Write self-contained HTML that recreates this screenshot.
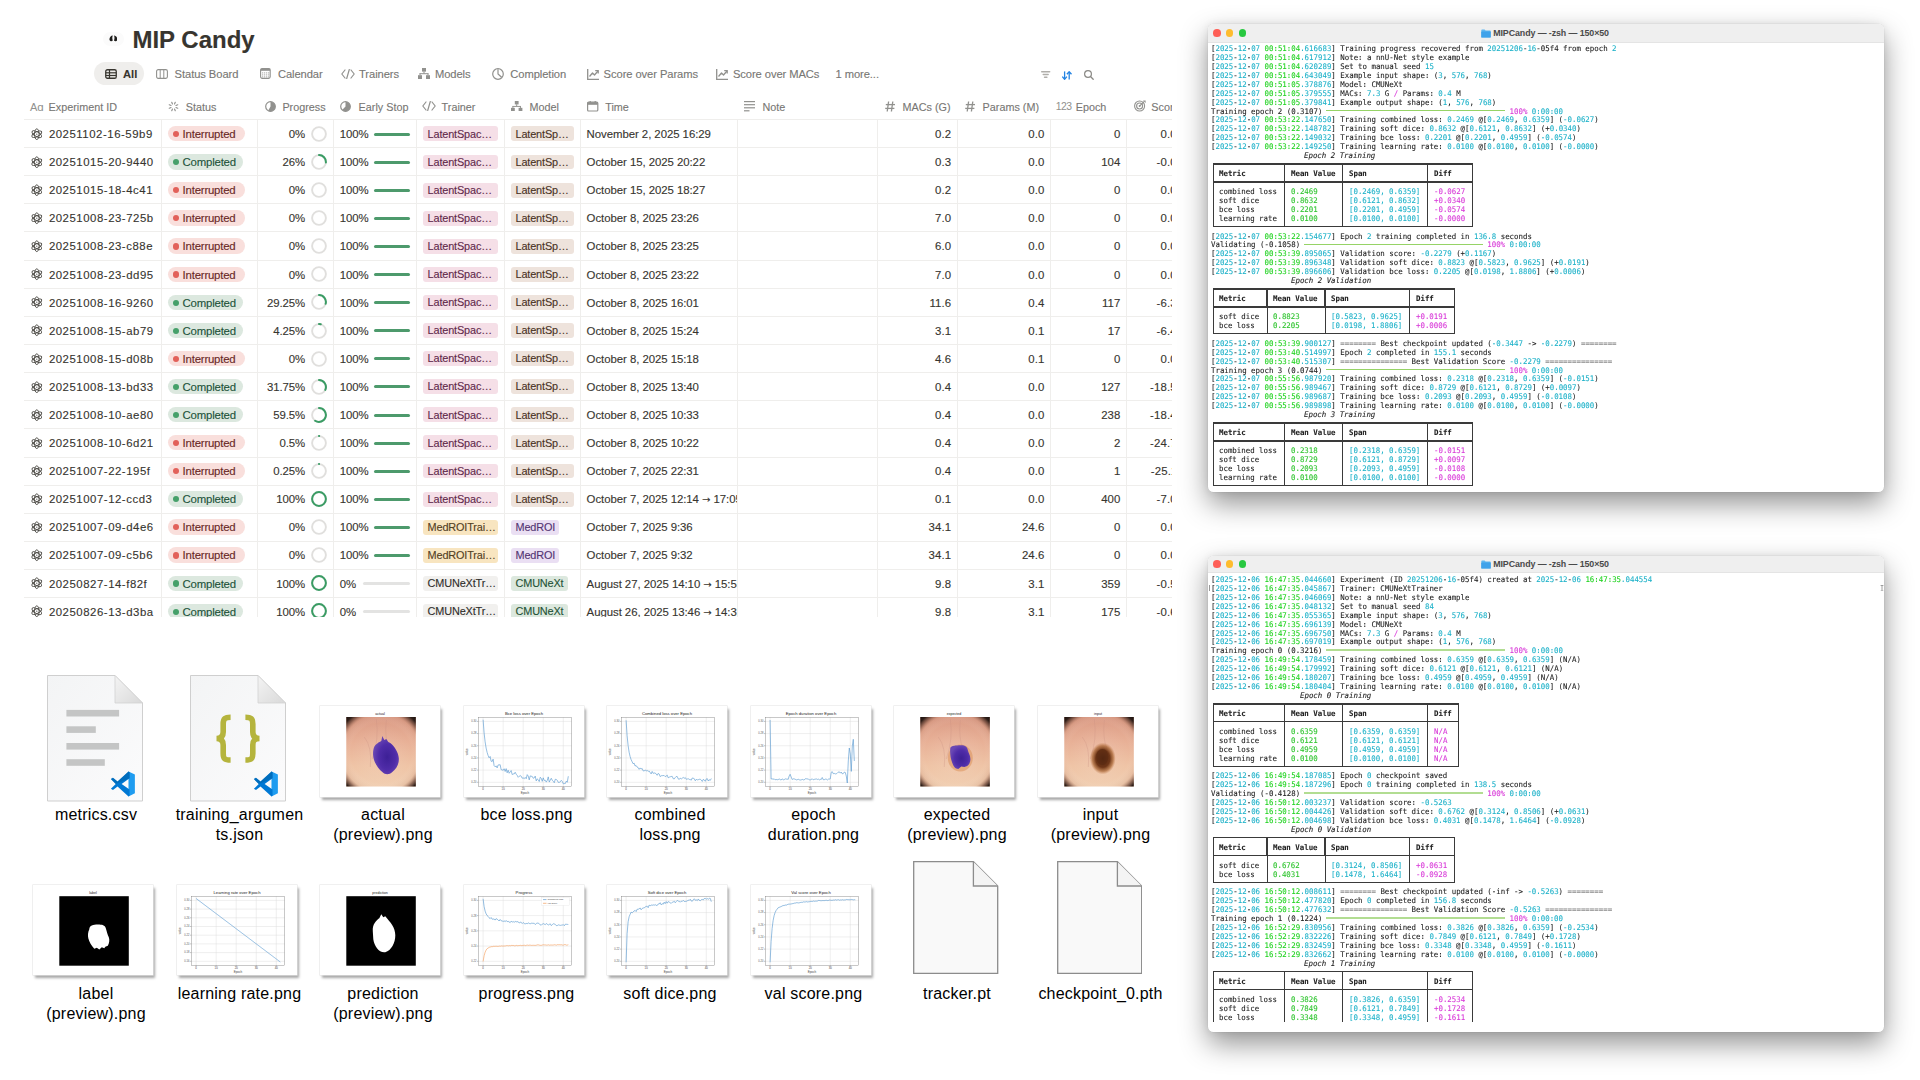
<!DOCTYPE html>
<html><head><meta charset="utf-8"><title>MIP Candy</title><style>
*{box-sizing:border-box;margin:0;padding:0}
html,body{width:1920px;height:1080px;overflow:hidden;background:#fff}
body{position:relative;font-family:"Liberation Sans",Arial,sans-serif;color:#37352f}
.abs{position:absolute}
.t{white-space:nowrap;-webkit-text-stroke:0.12px currentColor}
.tl{white-space:pre;-webkit-text-stroke:0.1px currentColor;font-family:"DejaVu Sans Mono","Liberation Mono",monospace;font-size:7.68px;line-height:8.93px;color:#1e1e1e;transform:scaleX(0.9646);transform-origin:0 50%}
.card{background:#fff;box-shadow:0 0 0 0.6px #e6e6e6, 1.5px 2.5px 2.5px rgba(0,0,0,0.35)}
.win{background:#fff;border-radius:5.5px;box-shadow:0 0 0 0.5px rgba(0,0,0,0.05),0 12px 28px 0px rgba(0,0,0,0.42),0 0 9px rgba(0,0,0,0.07)}
</style></head>
<body>
<div class="abs" style="left:103px;top:31.5px;width:20.5px;height:14px;border-radius:7px;background:#fbfbfb"></div>
<svg class="abs" style="left:108.6px;top:34.8px" width="8.8" height="6.8" viewBox="0 0 10 7.4"><path d="M4.3 0.4 C2.2 0.5 0.5 2.6 0.5 4.8 C0.5 6.3 1.6 7.2 2.8 6.8 L4.4 6.0 C3.6 4.6 3.5 2.4 4.3 0.4 Z M5.7 0.4 C7.8 0.5 9.5 2.6 9.5 4.8 C9.5 6.3 8.4 7.2 7.2 6.8 L5.6 6.0 C6.4 4.6 6.5 2.4 5.7 0.4 Z" fill="#1e1d1b"/></svg>
<div class="abs t" style="left:132.40px;top:28.28px;font-size:24px;line-height:24px;color:#37352f;font-weight:700;">MIP Candy</div>
<div class="abs" style="left:94.4px;top:61.8px;width:49.6px;height:23.4px;border-radius:12px;background:#efeeec"></div>
<svg class="abs" style="left:104.7px;top:69px" width="12" height="10" viewBox="0 0 12 10" ><rect x="0.75" y="0.75" width="10.5" height="8.5" rx="1.6" fill="none" stroke="#37352f" stroke-width="1.3"/><line x1="0.8" y1="3.8" x2="11.2" y2="3.8" stroke="#37352f" stroke-width="1.2"/><line x1="0.8" y1="6.5" x2="11.2" y2="6.5" stroke="#37352f" stroke-width="1.2"/><line x1="4.5" y1="1" x2="4.5" y2="9" stroke="#37352f" stroke-width="1.2"/></svg>
<div class="abs t" style="left:123.00px;top:68.62px;font-size:11.2px;line-height:11.2px;color:#37352f;font-weight:600;">All</div>
<svg class="abs" style="left:156px;top:69px" width="12" height="10" viewBox="0 0 12 10" ><rect x="0.6" y="0.6" width="10.8" height="8.8" rx="1.6" fill="none" stroke="#91918e" stroke-width="1.1"/><line x1="4.2" y1="1" x2="4.2" y2="9" stroke="#91918e" stroke-width="1"/><line x1="7.8" y1="1" x2="7.8" y2="9" stroke="#91918e" stroke-width="1"/></svg>
<div class="abs t" style="left:174.60px;top:68.62px;font-size:11.2px;line-height:11.2px;color:#787774;font-weight:400;letter-spacing:-0.08px">Status Board</div>
<svg class="abs" style="left:259.8px;top:68px" width="11" height="11" viewBox="0 0 11 11" ><rect x="0.6" y="0.6" width="9.6" height="9.8" rx="1.6" fill="none" stroke="#91918e" stroke-width="1.1"/><rect x="0.6" y="0.6" width="9.6" height="2.2" fill="#91918e"/><rect x="2.2" y="4.4" width="1" height="1" fill="#91918e"/><rect x="2.2" y="6.4" width="1" height="1" fill="#91918e"/><rect x="2.2" y="8.4" width="1" height="1" fill="#91918e"/><rect x="4.2" y="4.4" width="1" height="1" fill="#91918e"/><rect x="4.2" y="6.4" width="1" height="1" fill="#91918e"/><rect x="4.2" y="8.4" width="1" height="1" fill="#91918e"/><rect x="6.2" y="4.4" width="1" height="1" fill="#91918e"/><rect x="6.2" y="6.4" width="1" height="1" fill="#91918e"/><rect x="6.2" y="8.4" width="1" height="1" fill="#91918e"/><rect x="8.2" y="4.4" width="1" height="1" fill="#91918e"/><rect x="8.2" y="6.4" width="1" height="1" fill="#91918e"/><rect x="8.2" y="8.4" width="1" height="1" fill="#91918e"/></svg>
<div class="abs t" style="left:277.90px;top:68.62px;font-size:11.2px;line-height:11.2px;color:#787774;font-weight:400;letter-spacing:-0.08px">Calendar</div>
<svg class="abs" style="left:341px;top:68.6px" width="14" height="10" viewBox="0 0 14 10" ><polyline points="4,1 0.8,5 4,9" fill="none" stroke="#91918e" stroke-width="1.2" stroke-linecap="round" stroke-linejoin="round"/><polyline points="10,1 13.2,5 10,9" fill="none" stroke="#91918e" stroke-width="1.2" stroke-linecap="round" stroke-linejoin="round"/><line x1="8.3" y1="0.5" x2="5.7" y2="9.5" stroke="#91918e" stroke-width="1.2" stroke-linecap="round"/></svg>
<div class="abs t" style="left:359.00px;top:68.62px;font-size:11.2px;line-height:11.2px;color:#787774;font-weight:400;letter-spacing:-0.08px">Trainers</div>
<svg class="abs" style="left:418.3px;top:68px" width="12.0" height="11.0" viewBox="0 0 12 11" ><rect x="4" y="0" width="4" height="3.6" fill="#91918e"/><rect x="5.5" y="3.4" width="1" height="2.2" fill="#91918e"/><rect x="1.5" y="5.2" width="9" height="1" fill="#91918e"/><rect x="1.5" y="5.5" width="1" height="1.8" fill="#91918e"/><rect x="9.5" y="5.5" width="1" height="1.8" fill="#91918e"/><rect x="0" y="7.2" width="4" height="3.8" fill="#91918e"/><rect x="8" y="7.2" width="4" height="3.8" fill="#91918e"/></svg>
<div class="abs t" style="left:434.90px;top:68.62px;font-size:11.2px;line-height:11.2px;color:#787774;font-weight:400;letter-spacing:-0.08px">Models</div>
<svg class="abs" style="left:491.7px;top:67.8px" width="12" height="12" viewBox="0 0 12 12" ><circle cx="6" cy="6" r="5.3" fill="none" stroke="#91918e" stroke-width="1.2"/><path d="M6 1.2 V6 L9.6 9.3" fill="none" stroke="#91918e" stroke-width="1.2"/></svg>
<div class="abs t" style="left:510.30px;top:68.62px;font-size:11.2px;line-height:11.2px;color:#787774;font-weight:400;letter-spacing:-0.08px">Completion</div>
<svg class="abs" style="left:586.7px;top:68.5px" width="12" height="11" viewBox="0 0 12 11" ><polyline points="0.7,0 0.7,10.3 12,10.3" fill="none" stroke="#91918e" stroke-width="1.3"/><polyline points="2.5,7.5 5.5,4 7.5,6 11,2" fill="none" stroke="#91918e" stroke-width="1.3" stroke-linejoin="round"/><polyline points="8.2,1.6 11.2,1.6 11.2,4.6" fill="none" stroke="#91918e" stroke-width="1.3"/></svg>
<div class="abs t" style="left:603.60px;top:68.62px;font-size:11.2px;line-height:11.2px;color:#787774;font-weight:400;letter-spacing:-0.08px">Score over Params</div>
<svg class="abs" style="left:716.3px;top:68.5px" width="12" height="11" viewBox="0 0 12 11" ><polyline points="0.7,0 0.7,10.3 12,10.3" fill="none" stroke="#91918e" stroke-width="1.3"/><polyline points="2.5,7.5 5.5,4 7.5,6 11,2" fill="none" stroke="#91918e" stroke-width="1.3" stroke-linejoin="round"/><polyline points="8.2,1.6 11.2,1.6 11.2,4.6" fill="none" stroke="#91918e" stroke-width="1.3"/></svg>
<div class="abs t" style="left:732.90px;top:68.62px;font-size:11.2px;line-height:11.2px;color:#787774;font-weight:400;letter-spacing:-0.08px">Score over MACs</div>
<div class="abs t" style="left:835.50px;top:68.62px;font-size:11.2px;line-height:11.2px;color:#787774;font-weight:400;letter-spacing:-0.08px">1 more...</div>
<svg class="abs" style="left:1041px;top:71.3px" width="10" height="7" viewBox="0 0 10 7" ><rect x="0" y="0" width="9.4" height="1.4" rx="0.7" fill="#b0aeaa"/><rect x="1.5" y="2.8" width="6.4" height="1.4" rx="0.7" fill="#b0aeaa"/><rect x="2.8" y="5.6" width="3.8" height="1.4" rx="0.7" fill="#b0aeaa"/></svg>
<svg class="abs" style="left:1062.2px;top:70.5px" width="10" height="9" viewBox="0 0 10 9" ><line x1="2.6" y1="0.4" x2="2.6" y2="8" stroke="#2383e2" stroke-width="1.3"/><polyline points="0.3,5.6 2.6,8.2 4.9,5.6" fill="none" stroke="#2383e2" stroke-width="1.3" stroke-linejoin="round"/><line x1="7.2" y1="8.6" x2="7.2" y2="1" stroke="#2383e2" stroke-width="1.3"/><polyline points="4.9,3.3 7.2,0.7 9.5,3.3" fill="none" stroke="#2383e2" stroke-width="1.3" stroke-linejoin="round"/></svg>
<svg class="abs" style="left:1083.5px;top:70px" width="10" height="10" viewBox="0 0 10 10" ><circle cx="4" cy="4" r="3.4" fill="none" stroke="#8a8985" stroke-width="1.2"/><line x1="6.5" y1="6.5" x2="9.2" y2="9.2" stroke="#8a8985" stroke-width="1.3" stroke-linecap="round"/></svg>
<div class="abs" style="left:24.2px;top:118.75px;width:1147.80px;height:1px;background:#efeeec"></div>
<div class="abs" style="left:30.0px;top:101.6px;font-size:11px;line-height:10px;color:#91918e;letter-spacing:-0.2px">A<span style="font-size:11.5px">ɑ</span></div>
<div class="abs t" style="left:48.60px;top:101.56px;font-size:10.8px;line-height:10.8px;color:#787774;font-weight:400;">Experiment ID</div>
<svg class="abs" style="left:168.2px;top:101px" width="11" height="11" viewBox="0 0 11 11" ><line x1="7.99" y1="6.53" x2="9.75" y2="7.26" stroke="#91918e" stroke-width="1.15" stroke-linecap="round"/><line x1="6.53" y1="7.99" x2="7.26" y2="9.75" stroke="#91918e" stroke-width="1.15" stroke-linecap="round"/><line x1="4.47" y1="7.99" x2="3.74" y2="9.75" stroke="#91918e" stroke-width="1.15" stroke-linecap="round"/><line x1="3.01" y1="6.53" x2="1.25" y2="7.26" stroke="#91918e" stroke-width="1.15" stroke-linecap="round"/><line x1="3.01" y1="4.47" x2="1.25" y2="3.74" stroke="#91918e" stroke-width="1.15" stroke-linecap="round"/><line x1="4.47" y1="3.01" x2="3.74" y2="1.25" stroke="#91918e" stroke-width="1.15" stroke-linecap="round"/><line x1="6.53" y1="3.01" x2="7.26" y2="1.25" stroke="#91918e" stroke-width="1.15" stroke-linecap="round"/><line x1="7.99" y1="4.47" x2="9.75" y2="3.74" stroke="#91918e" stroke-width="1.15" stroke-linecap="round"/></svg>
<div class="abs t" style="left:185.70px;top:101.56px;font-size:10.8px;line-height:10.8px;color:#787774;font-weight:400;">Status</div>
<svg class="abs" style="left:264.5px;top:101px" width="11" height="11" viewBox="0 0 11 11" ><circle cx="5.5" cy="5.5" r="4.8" fill="none" stroke="#91918e" stroke-width="1.2"/><path d="M5.5 5.5 L5.5 0.7 A4.8 4.8 0 1 1 3.10 9.66 Z" fill="#91918e"/></svg>
<div class="abs t" style="left:282.40px;top:101.56px;font-size:10.8px;line-height:10.8px;color:#787774;font-weight:400;">Progress</div>
<svg class="abs" style="left:340.2px;top:101px" width="11" height="11" viewBox="0 0 11 11" ><circle cx="5.5" cy="5.5" r="4.8" fill="none" stroke="#91918e" stroke-width="1.2"/><path d="M5.5 5.5 L5.5 0.7 A4.8 4.8 0 1 1 2.11 8.89 Z" fill="#91918e"/></svg>
<div class="abs t" style="left:358.60px;top:101.56px;font-size:10.8px;line-height:10.8px;color:#787774;font-weight:400;">Early Stop</div>
<svg class="abs" style="left:422px;top:101.3px" width="14" height="10" viewBox="0 0 14 10" ><polyline points="4,1 0.8,5 4,9" fill="none" stroke="#91918e" stroke-width="1.2" stroke-linecap="round" stroke-linejoin="round"/><polyline points="10,1 13.2,5 10,9" fill="none" stroke="#91918e" stroke-width="1.2" stroke-linecap="round" stroke-linejoin="round"/><line x1="8.3" y1="0.5" x2="5.7" y2="9.5" stroke="#91918e" stroke-width="1.2" stroke-linecap="round"/></svg>
<div class="abs t" style="left:441.60px;top:101.56px;font-size:10.8px;line-height:10.8px;color:#787774;font-weight:400;">Trainer</div>
<svg class="abs" style="left:511.2px;top:100.5px" width="11.399999999999999" height="10.45" viewBox="0 0 12 11" ><rect x="4" y="0" width="4" height="3.6" fill="#91918e"/><rect x="5.5" y="3.4" width="1" height="2.2" fill="#91918e"/><rect x="1.5" y="5.2" width="9" height="1" fill="#91918e"/><rect x="1.5" y="5.5" width="1" height="1.8" fill="#91918e"/><rect x="9.5" y="5.5" width="1" height="1.8" fill="#91918e"/><rect x="0" y="7.2" width="4" height="3.8" fill="#91918e"/><rect x="8" y="7.2" width="4" height="3.8" fill="#91918e"/></svg>
<div class="abs t" style="left:529.40px;top:101.56px;font-size:10.8px;line-height:10.8px;color:#787774;font-weight:400;">Model</div>
<svg class="abs" style="left:587px;top:100.6px" width="12" height="11" viewBox="0 0 12 11" ><rect x="0.6" y="1.2" width="10.2" height="8.8" rx="1" fill="none" stroke="#91918e" stroke-width="1.2"/><rect x="0.6" y="1.2" width="10.2" height="2.6" fill="#91918e"/><rect x="2.6" y="0" width="1.2" height="2" fill="#91918e"/><rect x="7.6" y="0" width="1.2" height="2" fill="#91918e"/></svg>
<div class="abs t" style="left:605.20px;top:101.56px;font-size:10.8px;line-height:10.8px;color:#787774;font-weight:400;">Time</div>
<svg class="abs" style="left:744px;top:101px" width="11" height="11" viewBox="0 0 11 11" ><rect x="0" y="0" width="11" height="1.2" fill="#91918e"/><rect x="0" y="3.1" width="11" height="1.2" fill="#91918e"/><rect x="0" y="6.2" width="11" height="1.2" fill="#91918e"/><rect x="0" y="9.2" width="5.5" height="1.2" fill="#91918e"/></svg>
<div class="abs t" style="left:762.40px;top:101.56px;font-size:10.8px;line-height:10.8px;color:#787774;font-weight:400;">Note</div>
<svg class="abs" style="left:885.2px;top:100.6px" width="10" height="11" viewBox="0 0 10 11" ><line x1="3.6" y1="0.5" x2="2.2" y2="10.5" stroke="#91918e" stroke-width="1.3"/><line x1="7.8" y1="0.5" x2="6.4" y2="10.5" stroke="#91918e" stroke-width="1.3"/><line x1="0.8" y1="3.6" x2="10" y2="3.6" stroke="#91918e" stroke-width="1.3"/><line x1="0.2" y1="7.4" x2="9.4" y2="7.4" stroke="#91918e" stroke-width="1.3"/></svg>
<div class="abs t" style="left:902.60px;top:101.56px;font-size:10.8px;line-height:10.8px;color:#787774;font-weight:400;">MACs (G)</div>
<svg class="abs" style="left:965px;top:100.6px" width="10" height="11" viewBox="0 0 10 11" ><line x1="3.6" y1="0.5" x2="2.2" y2="10.5" stroke="#91918e" stroke-width="1.3"/><line x1="7.8" y1="0.5" x2="6.4" y2="10.5" stroke="#91918e" stroke-width="1.3"/><line x1="0.8" y1="3.6" x2="10" y2="3.6" stroke="#91918e" stroke-width="1.3"/><line x1="0.2" y1="7.4" x2="9.4" y2="7.4" stroke="#91918e" stroke-width="1.3"/></svg>
<div class="abs t" style="left:982.60px;top:101.56px;font-size:10.8px;line-height:10.8px;color:#787774;font-weight:400;">Params (M)</div>
<div class="abs" style="left:1055.8px;top:101.8px;font-size:10.4px;line-height:10px;color:#91918e;letter-spacing:-0.6px">123</div>
<div class="abs t" style="left:1075.70px;top:101.56px;font-size:10.8px;line-height:10.8px;color:#787774;font-weight:400;">Epoch</div>
<div class="abs" style="left:0;top:0;width:1172px;height:119px;overflow:hidden">
<svg class="abs" style="left:1133.6px;top:99.8px" width="12" height="12" viewBox="0 0 12 12" ><circle cx="5.6" cy="6" r="5" fill="none" stroke="#91918e" stroke-width="1.1"/><circle cx="5.6" cy="6" r="3" fill="none" stroke="#91918e" stroke-width="1.1"/><circle cx="5.6" cy="6" r="1" fill="#91918e"/><line x1="5.8" y1="5.8" x2="10" y2="1.6" stroke="#91918e" stroke-width="1.1"/><path d="M9 0.4 L11.6 0.4 L11.6 3 Z" fill="#91918e"/></svg>
<div class="abs t" style="left:1151.30px;top:101.56px;font-size:10.8px;line-height:10.8px;color:#787774;font-weight:400;">Score</div>
</div>
<div class="abs" style="left:0;top:0;width:1172px;height:616.7px;overflow:hidden">
<div class="abs" style="left:161.30px;top:119.25px;width:1px;height:497.45px;background:#efeeec"></div>
<div class="abs" style="left:256.80px;top:119.25px;width:1px;height:497.45px;background:#efeeec"></div>
<div class="abs" style="left:333.00px;top:119.25px;width:1px;height:497.45px;background:#efeeec"></div>
<div class="abs" style="left:415.80px;top:119.25px;width:1px;height:497.45px;background:#efeeec"></div>
<div class="abs" style="left:504.20px;top:119.25px;width:1px;height:497.45px;background:#efeeec"></div>
<div class="abs" style="left:580.30px;top:119.25px;width:1px;height:497.45px;background:#efeeec"></div>
<div class="abs" style="left:737.25px;top:119.25px;width:1px;height:497.45px;background:#efeeec"></div>
<div class="abs" style="left:877.10px;top:119.25px;width:1px;height:497.45px;background:#efeeec"></div>
<div class="abs" style="left:956.90px;top:119.25px;width:1px;height:497.45px;background:#efeeec"></div>
<div class="abs" style="left:1050.20px;top:119.25px;width:1px;height:497.45px;background:#efeeec"></div>
<div class="abs" style="left:1125.80px;top:119.25px;width:1px;height:497.45px;background:#efeeec"></div>
<div class="abs" style="left:24.2px;top:146.90px;width:1150px;height:1px;background:#efeeec"></div>
<svg class="abs" style="left:31.2px;top:127.85px" width="11.6" height="12.4" viewBox="0 0 11.6 12.4" ><g fill="none" stroke="#4a4843" stroke-width="0.9"><ellipse cx="5.8" cy="6.2" rx="2.3" ry="5.4"/><ellipse cx="5.8" cy="6.2" rx="2.3" ry="5.4" transform="rotate(60 5.8 6.2)"/><ellipse cx="5.8" cy="6.2" rx="2.3" ry="5.4" transform="rotate(-60 5.8 6.2)"/></g><circle cx="5.8" cy="6.2" r="0.6" fill="#4a4843"/></svg>
<div class="abs t" style="left:48.90px;top:129.10px;font-size:11.4px;line-height:11.4px;color:#37352f;font-weight:400;letter-spacing:0.53px">20251102-16-59b9</div>
<div class="abs" style="left:167.8px;top:126.10px;width:76.9px;height:15.4px;border-radius:8px;background:#f9dfdc"></div>
<div class="abs" style="left:173px;top:131.00px;width:6.2px;height:6.2px;border-radius:3.1px;background:#e2615a"></div>
<div class="abs t" style="left:182.60px;top:129.10px;font-size:11.4px;line-height:11.4px;color:#692826;font-weight:400;letter-spacing:-0.2px">Interrupted</div>
<div class="abs t" style="left:105.00px;width:200px;top:129.10px;font-size:11.4px;line-height:11.4px;color:#37352f;font-weight:400;text-align:right;letter-spacing:-0.1px">0%</div>
<svg class="abs" style="left:311.00px;top:125.95px" width="16" height="16"><circle cx="8" cy="8" r="6.9" fill="none" stroke="#e0dfdd" stroke-width="1.9"/></svg>
<div class="abs t" style="left:339.70px;top:129.10px;font-size:11.4px;line-height:11.4px;color:#37352f;font-weight:400;letter-spacing:-0.1px">100%</div>
<div class="abs" style="left:374.2px;top:133px;width:36.00px;height:3px;border-radius:1.5px;background:#4d9a6c"></div>
<div class="abs" style="left:422.8px;top:126.45px;width:75.6px;height:14.9px;border-radius:3px;background:#f5dfe7"></div>
<div class="abs t" style="left:427.60px;top:128.62px;font-size:10.9px;line-height:10.9px;color:#62294a;font-weight:400;letter-spacing:-0.15px">LatentSpac…</div>
<div class="abs" style="left:510.9px;top:126.45px;width:63.1px;height:14.9px;border-radius:3px;background:#eee3dc"></div>
<div class="abs t" style="left:515.50px;top:128.62px;font-size:10.9px;line-height:10.9px;color:#4a3224;font-weight:400;letter-spacing:-0.15px">LatentSp…</div>
<div class="abs" style="left:580.8px;top:119.25px;width:155.95px;height:28.15px;overflow:hidden">
<div class="abs t" style="left:5.80px;top:9.85px;font-size:11.4px;line-height:11.4px;color:#37352f;font-weight:400;letter-spacing:-0.05px;white-space:nowrap">November 2, 2025 16:29</div>
</div>
<div class="abs t" style="left:751.20px;width:200px;top:129.10px;font-size:11.4px;line-height:11.4px;color:#37352f;font-weight:400;text-align:right;letter-spacing:0.1px">0.2</div>
<div class="abs t" style="left:844.50px;width:200px;top:129.10px;font-size:11.4px;line-height:11.4px;color:#37352f;font-weight:400;text-align:right;letter-spacing:0.1px">0.0</div>
<div class="abs t" style="left:920.50px;width:200px;top:129.10px;font-size:11.4px;line-height:11.4px;color:#37352f;font-weight:400;text-align:right;letter-spacing:0.1px">0</div>
<div class="abs t" style="left:983.20px;width:200px;top:129.10px;font-size:11.4px;line-height:11.4px;color:#37352f;font-weight:400;text-align:right;letter-spacing:0.15px">0.00</div>
<div class="abs" style="left:24.2px;top:175.05px;width:1150px;height:1px;background:#efeeec"></div>
<svg class="abs" style="left:31.2px;top:155.94px" width="11.6" height="12.4" viewBox="0 0 11.6 12.4" ><g fill="none" stroke="#4a4843" stroke-width="0.9"><ellipse cx="5.8" cy="6.2" rx="2.3" ry="5.4"/><ellipse cx="5.8" cy="6.2" rx="2.3" ry="5.4" transform="rotate(60 5.8 6.2)"/><ellipse cx="5.8" cy="6.2" rx="2.3" ry="5.4" transform="rotate(-60 5.8 6.2)"/></g><circle cx="5.8" cy="6.2" r="0.6" fill="#4a4843"/></svg>
<div class="abs t" style="left:48.90px;top:157.19px;font-size:11.4px;line-height:11.4px;color:#37352f;font-weight:400;letter-spacing:0.53px">20251015-20-9440</div>
<div class="abs" style="left:167.8px;top:154.19px;width:75.4px;height:15.4px;border-radius:8px;background:#dce8df"></div>
<div class="abs" style="left:173px;top:159.09px;width:6.2px;height:6.2px;border-radius:3.1px;background:#46a06a"></div>
<div class="abs t" style="left:182.60px;top:157.19px;font-size:11.4px;line-height:11.4px;color:#21533a;font-weight:400;letter-spacing:-0.2px">Completed</div>
<div class="abs t" style="left:105.00px;width:200px;top:157.19px;font-size:11.4px;line-height:11.4px;color:#37352f;font-weight:400;text-align:right;letter-spacing:-0.1px">26%</div>
<svg class="abs" style="left:311.00px;top:154.04px" width="16" height="16"><circle cx="8" cy="8" r="6.9" fill="none" stroke="#e0dfdd" stroke-width="1.9"/><path d="M8 1.0999999999999996 A6.9 6.9 0 0 1 14.89 8.43" fill="none" stroke="#3a9c64" stroke-width="2" stroke-linecap="round"/></svg>
<div class="abs t" style="left:339.70px;top:157.19px;font-size:11.4px;line-height:11.4px;color:#37352f;font-weight:400;letter-spacing:-0.1px">100%</div>
<div class="abs" style="left:374.2px;top:161px;width:36.00px;height:3px;border-radius:1.5px;background:#4d9a6c"></div>
<div class="abs" style="left:422.8px;top:154.54px;width:75.6px;height:14.9px;border-radius:3px;background:#f5dfe7"></div>
<div class="abs t" style="left:427.60px;top:156.71px;font-size:10.9px;line-height:10.9px;color:#62294a;font-weight:400;letter-spacing:-0.15px">LatentSpac…</div>
<div class="abs" style="left:510.9px;top:154.54px;width:63.1px;height:14.9px;border-radius:3px;background:#eee3dc"></div>
<div class="abs t" style="left:515.50px;top:156.71px;font-size:10.9px;line-height:10.9px;color:#4a3224;font-weight:400;letter-spacing:-0.15px">LatentSp…</div>
<div class="abs" style="left:580.8px;top:147.34px;width:155.95px;height:28.15px;overflow:hidden">
<div class="abs t" style="left:5.80px;top:9.85px;font-size:11.4px;line-height:11.4px;color:#37352f;font-weight:400;letter-spacing:-0.05px;white-space:nowrap">October 15, 2025 20:22</div>
</div>
<div class="abs t" style="left:751.20px;width:200px;top:157.19px;font-size:11.4px;line-height:11.4px;color:#37352f;font-weight:400;text-align:right;letter-spacing:0.1px">0.3</div>
<div class="abs t" style="left:844.50px;width:200px;top:157.19px;font-size:11.4px;line-height:11.4px;color:#37352f;font-weight:400;text-align:right;letter-spacing:0.1px">0.0</div>
<div class="abs t" style="left:920.50px;width:200px;top:157.19px;font-size:11.4px;line-height:11.4px;color:#37352f;font-weight:400;text-align:right;letter-spacing:0.1px">104</div>
<div class="abs t" style="left:983.20px;width:200px;top:157.19px;font-size:11.4px;line-height:11.4px;color:#37352f;font-weight:400;text-align:right;letter-spacing:0.15px">-0.06</div>
<div class="abs" style="left:24.2px;top:203.20px;width:1150px;height:1px;background:#efeeec"></div>
<svg class="abs" style="left:31.2px;top:184.03px" width="11.6" height="12.4" viewBox="0 0 11.6 12.4" ><g fill="none" stroke="#4a4843" stroke-width="0.9"><ellipse cx="5.8" cy="6.2" rx="2.3" ry="5.4"/><ellipse cx="5.8" cy="6.2" rx="2.3" ry="5.4" transform="rotate(60 5.8 6.2)"/><ellipse cx="5.8" cy="6.2" rx="2.3" ry="5.4" transform="rotate(-60 5.8 6.2)"/></g><circle cx="5.8" cy="6.2" r="0.6" fill="#4a4843"/></svg>
<div class="abs t" style="left:48.90px;top:185.28px;font-size:11.4px;line-height:11.4px;color:#37352f;font-weight:400;letter-spacing:0.53px">20251015-18-4c41</div>
<div class="abs" style="left:167.8px;top:182.28px;width:76.9px;height:15.4px;border-radius:8px;background:#f9dfdc"></div>
<div class="abs" style="left:173px;top:187.18px;width:6.2px;height:6.2px;border-radius:3.1px;background:#e2615a"></div>
<div class="abs t" style="left:182.60px;top:185.28px;font-size:11.4px;line-height:11.4px;color:#692826;font-weight:400;letter-spacing:-0.2px">Interrupted</div>
<div class="abs t" style="left:105.00px;width:200px;top:185.28px;font-size:11.4px;line-height:11.4px;color:#37352f;font-weight:400;text-align:right;letter-spacing:-0.1px">0%</div>
<svg class="abs" style="left:311.00px;top:182.13px" width="16" height="16"><circle cx="8" cy="8" r="6.9" fill="none" stroke="#e0dfdd" stroke-width="1.9"/></svg>
<div class="abs t" style="left:339.70px;top:185.28px;font-size:11.4px;line-height:11.4px;color:#37352f;font-weight:400;letter-spacing:-0.1px">100%</div>
<div class="abs" style="left:374.2px;top:189px;width:36.00px;height:3px;border-radius:1.5px;background:#4d9a6c"></div>
<div class="abs" style="left:422.8px;top:182.63px;width:75.6px;height:14.9px;border-radius:3px;background:#f5dfe7"></div>
<div class="abs t" style="left:427.60px;top:184.80px;font-size:10.9px;line-height:10.9px;color:#62294a;font-weight:400;letter-spacing:-0.15px">LatentSpac…</div>
<div class="abs" style="left:510.9px;top:182.63px;width:63.1px;height:14.9px;border-radius:3px;background:#eee3dc"></div>
<div class="abs t" style="left:515.50px;top:184.80px;font-size:10.9px;line-height:10.9px;color:#4a3224;font-weight:400;letter-spacing:-0.15px">LatentSp…</div>
<div class="abs" style="left:580.8px;top:175.43px;width:155.95px;height:28.15px;overflow:hidden">
<div class="abs t" style="left:5.80px;top:9.85px;font-size:11.4px;line-height:11.4px;color:#37352f;font-weight:400;letter-spacing:-0.05px;white-space:nowrap">October 15, 2025 18:27</div>
</div>
<div class="abs t" style="left:751.20px;width:200px;top:185.28px;font-size:11.4px;line-height:11.4px;color:#37352f;font-weight:400;text-align:right;letter-spacing:0.1px">0.2</div>
<div class="abs t" style="left:844.50px;width:200px;top:185.28px;font-size:11.4px;line-height:11.4px;color:#37352f;font-weight:400;text-align:right;letter-spacing:0.1px">0.0</div>
<div class="abs t" style="left:920.50px;width:200px;top:185.28px;font-size:11.4px;line-height:11.4px;color:#37352f;font-weight:400;text-align:right;letter-spacing:0.1px">0</div>
<div class="abs t" style="left:983.20px;width:200px;top:185.28px;font-size:11.4px;line-height:11.4px;color:#37352f;font-weight:400;text-align:right;letter-spacing:0.15px">0.00</div>
<div class="abs" style="left:24.2px;top:231.35px;width:1150px;height:1px;background:#efeeec"></div>
<svg class="abs" style="left:31.2px;top:212.11999999999998px" width="11.6" height="12.4" viewBox="0 0 11.6 12.4" ><g fill="none" stroke="#4a4843" stroke-width="0.9"><ellipse cx="5.8" cy="6.2" rx="2.3" ry="5.4"/><ellipse cx="5.8" cy="6.2" rx="2.3" ry="5.4" transform="rotate(60 5.8 6.2)"/><ellipse cx="5.8" cy="6.2" rx="2.3" ry="5.4" transform="rotate(-60 5.8 6.2)"/></g><circle cx="5.8" cy="6.2" r="0.6" fill="#4a4843"/></svg>
<div class="abs t" style="left:48.90px;top:213.37px;font-size:11.4px;line-height:11.4px;color:#37352f;font-weight:400;letter-spacing:0.53px">20251008-23-725b</div>
<div class="abs" style="left:167.8px;top:210.37px;width:76.9px;height:15.4px;border-radius:8px;background:#f9dfdc"></div>
<div class="abs" style="left:173px;top:215.27px;width:6.2px;height:6.2px;border-radius:3.1px;background:#e2615a"></div>
<div class="abs t" style="left:182.60px;top:213.37px;font-size:11.4px;line-height:11.4px;color:#692826;font-weight:400;letter-spacing:-0.2px">Interrupted</div>
<div class="abs t" style="left:105.00px;width:200px;top:213.37px;font-size:11.4px;line-height:11.4px;color:#37352f;font-weight:400;text-align:right;letter-spacing:-0.1px">0%</div>
<svg class="abs" style="left:311.00px;top:210.22px" width="16" height="16"><circle cx="8" cy="8" r="6.9" fill="none" stroke="#e0dfdd" stroke-width="1.9"/></svg>
<div class="abs t" style="left:339.70px;top:213.37px;font-size:11.4px;line-height:11.4px;color:#37352f;font-weight:400;letter-spacing:-0.1px">100%</div>
<div class="abs" style="left:374.2px;top:217px;width:36.00px;height:3px;border-radius:1.5px;background:#4d9a6c"></div>
<div class="abs" style="left:422.8px;top:210.72px;width:75.6px;height:14.9px;border-radius:3px;background:#f5dfe7"></div>
<div class="abs t" style="left:427.60px;top:212.89px;font-size:10.9px;line-height:10.9px;color:#62294a;font-weight:400;letter-spacing:-0.15px">LatentSpac…</div>
<div class="abs" style="left:510.9px;top:210.72px;width:63.1px;height:14.9px;border-radius:3px;background:#eee3dc"></div>
<div class="abs t" style="left:515.50px;top:212.89px;font-size:10.9px;line-height:10.9px;color:#4a3224;font-weight:400;letter-spacing:-0.15px">LatentSp…</div>
<div class="abs" style="left:580.8px;top:203.52px;width:155.95px;height:28.15px;overflow:hidden">
<div class="abs t" style="left:5.80px;top:9.85px;font-size:11.4px;line-height:11.4px;color:#37352f;font-weight:400;letter-spacing:-0.05px;white-space:nowrap">October 8, 2025 23:26</div>
</div>
<div class="abs t" style="left:751.20px;width:200px;top:213.37px;font-size:11.4px;line-height:11.4px;color:#37352f;font-weight:400;text-align:right;letter-spacing:0.1px">7.0</div>
<div class="abs t" style="left:844.50px;width:200px;top:213.37px;font-size:11.4px;line-height:11.4px;color:#37352f;font-weight:400;text-align:right;letter-spacing:0.1px">0.0</div>
<div class="abs t" style="left:920.50px;width:200px;top:213.37px;font-size:11.4px;line-height:11.4px;color:#37352f;font-weight:400;text-align:right;letter-spacing:0.1px">0</div>
<div class="abs t" style="left:983.20px;width:200px;top:213.37px;font-size:11.4px;line-height:11.4px;color:#37352f;font-weight:400;text-align:right;letter-spacing:0.15px">0.00</div>
<div class="abs" style="left:24.2px;top:259.50px;width:1150px;height:1px;background:#efeeec"></div>
<svg class="abs" style="left:31.2px;top:240.21px" width="11.6" height="12.4" viewBox="0 0 11.6 12.4" ><g fill="none" stroke="#4a4843" stroke-width="0.9"><ellipse cx="5.8" cy="6.2" rx="2.3" ry="5.4"/><ellipse cx="5.8" cy="6.2" rx="2.3" ry="5.4" transform="rotate(60 5.8 6.2)"/><ellipse cx="5.8" cy="6.2" rx="2.3" ry="5.4" transform="rotate(-60 5.8 6.2)"/></g><circle cx="5.8" cy="6.2" r="0.6" fill="#4a4843"/></svg>
<div class="abs t" style="left:48.90px;top:241.46px;font-size:11.4px;line-height:11.4px;color:#37352f;font-weight:400;letter-spacing:0.53px">20251008-23-c88e</div>
<div class="abs" style="left:167.8px;top:238.46px;width:76.9px;height:15.4px;border-radius:8px;background:#f9dfdc"></div>
<div class="abs" style="left:173px;top:243.36px;width:6.2px;height:6.2px;border-radius:3.1px;background:#e2615a"></div>
<div class="abs t" style="left:182.60px;top:241.46px;font-size:11.4px;line-height:11.4px;color:#692826;font-weight:400;letter-spacing:-0.2px">Interrupted</div>
<div class="abs t" style="left:105.00px;width:200px;top:241.46px;font-size:11.4px;line-height:11.4px;color:#37352f;font-weight:400;text-align:right;letter-spacing:-0.1px">0%</div>
<svg class="abs" style="left:311.00px;top:238.31px" width="16" height="16"><circle cx="8" cy="8" r="6.9" fill="none" stroke="#e0dfdd" stroke-width="1.9"/></svg>
<div class="abs t" style="left:339.70px;top:241.46px;font-size:11.4px;line-height:11.4px;color:#37352f;font-weight:400;letter-spacing:-0.1px">100%</div>
<div class="abs" style="left:374.2px;top:245px;width:36.00px;height:3px;border-radius:1.5px;background:#4d9a6c"></div>
<div class="abs" style="left:422.8px;top:238.81px;width:75.6px;height:14.9px;border-radius:3px;background:#f5dfe7"></div>
<div class="abs t" style="left:427.60px;top:240.98px;font-size:10.9px;line-height:10.9px;color:#62294a;font-weight:400;letter-spacing:-0.15px">LatentSpac…</div>
<div class="abs" style="left:510.9px;top:238.81px;width:63.1px;height:14.9px;border-radius:3px;background:#eee3dc"></div>
<div class="abs t" style="left:515.50px;top:240.98px;font-size:10.9px;line-height:10.9px;color:#4a3224;font-weight:400;letter-spacing:-0.15px">LatentSp…</div>
<div class="abs" style="left:580.8px;top:231.61px;width:155.95px;height:28.15px;overflow:hidden">
<div class="abs t" style="left:5.80px;top:9.85px;font-size:11.4px;line-height:11.4px;color:#37352f;font-weight:400;letter-spacing:-0.05px;white-space:nowrap">October 8, 2025 23:25</div>
</div>
<div class="abs t" style="left:751.20px;width:200px;top:241.46px;font-size:11.4px;line-height:11.4px;color:#37352f;font-weight:400;text-align:right;letter-spacing:0.1px">6.0</div>
<div class="abs t" style="left:844.50px;width:200px;top:241.46px;font-size:11.4px;line-height:11.4px;color:#37352f;font-weight:400;text-align:right;letter-spacing:0.1px">0.0</div>
<div class="abs t" style="left:920.50px;width:200px;top:241.46px;font-size:11.4px;line-height:11.4px;color:#37352f;font-weight:400;text-align:right;letter-spacing:0.1px">0</div>
<div class="abs t" style="left:983.20px;width:200px;top:241.46px;font-size:11.4px;line-height:11.4px;color:#37352f;font-weight:400;text-align:right;letter-spacing:0.15px">0.00</div>
<div class="abs" style="left:24.2px;top:287.65px;width:1150px;height:1px;background:#efeeec"></div>
<svg class="abs" style="left:31.2px;top:268.3px" width="11.6" height="12.4" viewBox="0 0 11.6 12.4" ><g fill="none" stroke="#4a4843" stroke-width="0.9"><ellipse cx="5.8" cy="6.2" rx="2.3" ry="5.4"/><ellipse cx="5.8" cy="6.2" rx="2.3" ry="5.4" transform="rotate(60 5.8 6.2)"/><ellipse cx="5.8" cy="6.2" rx="2.3" ry="5.4" transform="rotate(-60 5.8 6.2)"/></g><circle cx="5.8" cy="6.2" r="0.6" fill="#4a4843"/></svg>
<div class="abs t" style="left:48.90px;top:269.55px;font-size:11.4px;line-height:11.4px;color:#37352f;font-weight:400;letter-spacing:0.53px">20251008-23-dd95</div>
<div class="abs" style="left:167.8px;top:266.55px;width:76.9px;height:15.4px;border-radius:8px;background:#f9dfdc"></div>
<div class="abs" style="left:173px;top:271.45px;width:6.2px;height:6.2px;border-radius:3.1px;background:#e2615a"></div>
<div class="abs t" style="left:182.60px;top:269.55px;font-size:11.4px;line-height:11.4px;color:#692826;font-weight:400;letter-spacing:-0.2px">Interrupted</div>
<div class="abs t" style="left:105.00px;width:200px;top:269.55px;font-size:11.4px;line-height:11.4px;color:#37352f;font-weight:400;text-align:right;letter-spacing:-0.1px">0%</div>
<svg class="abs" style="left:311.00px;top:266.40px" width="16" height="16"><circle cx="8" cy="8" r="6.9" fill="none" stroke="#e0dfdd" stroke-width="1.9"/></svg>
<div class="abs t" style="left:339.70px;top:269.55px;font-size:11.4px;line-height:11.4px;color:#37352f;font-weight:400;letter-spacing:-0.1px">100%</div>
<div class="abs" style="left:374.2px;top:273px;width:36.00px;height:3px;border-radius:1.5px;background:#4d9a6c"></div>
<div class="abs" style="left:422.8px;top:266.90px;width:75.6px;height:14.9px;border-radius:3px;background:#f5dfe7"></div>
<div class="abs t" style="left:427.60px;top:269.07px;font-size:10.9px;line-height:10.9px;color:#62294a;font-weight:400;letter-spacing:-0.15px">LatentSpac…</div>
<div class="abs" style="left:510.9px;top:266.90px;width:63.1px;height:14.9px;border-radius:3px;background:#eee3dc"></div>
<div class="abs t" style="left:515.50px;top:269.07px;font-size:10.9px;line-height:10.9px;color:#4a3224;font-weight:400;letter-spacing:-0.15px">LatentSp…</div>
<div class="abs" style="left:580.8px;top:259.70px;width:155.95px;height:28.15px;overflow:hidden">
<div class="abs t" style="left:5.80px;top:9.85px;font-size:11.4px;line-height:11.4px;color:#37352f;font-weight:400;letter-spacing:-0.05px;white-space:nowrap">October 8, 2025 23:22</div>
</div>
<div class="abs t" style="left:751.20px;width:200px;top:269.55px;font-size:11.4px;line-height:11.4px;color:#37352f;font-weight:400;text-align:right;letter-spacing:0.1px">7.0</div>
<div class="abs t" style="left:844.50px;width:200px;top:269.55px;font-size:11.4px;line-height:11.4px;color:#37352f;font-weight:400;text-align:right;letter-spacing:0.1px">0.0</div>
<div class="abs t" style="left:920.50px;width:200px;top:269.55px;font-size:11.4px;line-height:11.4px;color:#37352f;font-weight:400;text-align:right;letter-spacing:0.1px">0</div>
<div class="abs t" style="left:983.20px;width:200px;top:269.55px;font-size:11.4px;line-height:11.4px;color:#37352f;font-weight:400;text-align:right;letter-spacing:0.15px">0.00</div>
<div class="abs" style="left:24.2px;top:315.80px;width:1150px;height:1px;background:#efeeec"></div>
<svg class="abs" style="left:31.2px;top:296.39px" width="11.6" height="12.4" viewBox="0 0 11.6 12.4" ><g fill="none" stroke="#4a4843" stroke-width="0.9"><ellipse cx="5.8" cy="6.2" rx="2.3" ry="5.4"/><ellipse cx="5.8" cy="6.2" rx="2.3" ry="5.4" transform="rotate(60 5.8 6.2)"/><ellipse cx="5.8" cy="6.2" rx="2.3" ry="5.4" transform="rotate(-60 5.8 6.2)"/></g><circle cx="5.8" cy="6.2" r="0.6" fill="#4a4843"/></svg>
<div class="abs t" style="left:48.90px;top:297.64px;font-size:11.4px;line-height:11.4px;color:#37352f;font-weight:400;letter-spacing:0.53px">20251008-16-9260</div>
<div class="abs" style="left:167.8px;top:294.64px;width:75.4px;height:15.4px;border-radius:8px;background:#dce8df"></div>
<div class="abs" style="left:173px;top:299.54px;width:6.2px;height:6.2px;border-radius:3.1px;background:#46a06a"></div>
<div class="abs t" style="left:182.60px;top:297.64px;font-size:11.4px;line-height:11.4px;color:#21533a;font-weight:400;letter-spacing:-0.2px">Completed</div>
<div class="abs t" style="left:105.00px;width:200px;top:297.64px;font-size:11.4px;line-height:11.4px;color:#37352f;font-weight:400;text-align:right;letter-spacing:-0.1px">29.25%</div>
<svg class="abs" style="left:311.00px;top:294.49px" width="16" height="16"><circle cx="8" cy="8" r="6.9" fill="none" stroke="#e0dfdd" stroke-width="1.9"/><path d="M8 1.0999999999999996 A6.9 6.9 0 0 1 14.66 9.82" fill="none" stroke="#3a9c64" stroke-width="2" stroke-linecap="round"/></svg>
<div class="abs t" style="left:339.70px;top:297.64px;font-size:11.4px;line-height:11.4px;color:#37352f;font-weight:400;letter-spacing:-0.1px">100%</div>
<div class="abs" style="left:374.2px;top:301px;width:36.00px;height:3px;border-radius:1.5px;background:#4d9a6c"></div>
<div class="abs" style="left:422.8px;top:294.99px;width:75.6px;height:14.9px;border-radius:3px;background:#f5dfe7"></div>
<div class="abs t" style="left:427.60px;top:297.16px;font-size:10.9px;line-height:10.9px;color:#62294a;font-weight:400;letter-spacing:-0.15px">LatentSpac…</div>
<div class="abs" style="left:510.9px;top:294.99px;width:63.1px;height:14.9px;border-radius:3px;background:#eee3dc"></div>
<div class="abs t" style="left:515.50px;top:297.16px;font-size:10.9px;line-height:10.9px;color:#4a3224;font-weight:400;letter-spacing:-0.15px">LatentSp…</div>
<div class="abs" style="left:580.8px;top:287.79px;width:155.95px;height:28.15px;overflow:hidden">
<div class="abs t" style="left:5.80px;top:9.85px;font-size:11.4px;line-height:11.4px;color:#37352f;font-weight:400;letter-spacing:-0.05px;white-space:nowrap">October 8, 2025 16:01</div>
</div>
<div class="abs t" style="left:751.20px;width:200px;top:297.64px;font-size:11.4px;line-height:11.4px;color:#37352f;font-weight:400;text-align:right;letter-spacing:0.1px">11.6</div>
<div class="abs t" style="left:844.50px;width:200px;top:297.64px;font-size:11.4px;line-height:11.4px;color:#37352f;font-weight:400;text-align:right;letter-spacing:0.1px">0.4</div>
<div class="abs t" style="left:920.50px;width:200px;top:297.64px;font-size:11.4px;line-height:11.4px;color:#37352f;font-weight:400;text-align:right;letter-spacing:0.1px">117</div>
<div class="abs t" style="left:983.20px;width:200px;top:297.64px;font-size:11.4px;line-height:11.4px;color:#37352f;font-weight:400;text-align:right;letter-spacing:0.15px">-6.33</div>
<div class="abs" style="left:24.2px;top:343.95px;width:1150px;height:1px;background:#efeeec"></div>
<svg class="abs" style="left:31.2px;top:324.48px" width="11.6" height="12.4" viewBox="0 0 11.6 12.4" ><g fill="none" stroke="#4a4843" stroke-width="0.9"><ellipse cx="5.8" cy="6.2" rx="2.3" ry="5.4"/><ellipse cx="5.8" cy="6.2" rx="2.3" ry="5.4" transform="rotate(60 5.8 6.2)"/><ellipse cx="5.8" cy="6.2" rx="2.3" ry="5.4" transform="rotate(-60 5.8 6.2)"/></g><circle cx="5.8" cy="6.2" r="0.6" fill="#4a4843"/></svg>
<div class="abs t" style="left:48.90px;top:325.73px;font-size:11.4px;line-height:11.4px;color:#37352f;font-weight:400;letter-spacing:0.53px">20251008-15-ab79</div>
<div class="abs" style="left:167.8px;top:322.73px;width:75.4px;height:15.4px;border-radius:8px;background:#dce8df"></div>
<div class="abs" style="left:173px;top:327.63px;width:6.2px;height:6.2px;border-radius:3.1px;background:#46a06a"></div>
<div class="abs t" style="left:182.60px;top:325.73px;font-size:11.4px;line-height:11.4px;color:#21533a;font-weight:400;letter-spacing:-0.2px">Completed</div>
<div class="abs t" style="left:105.00px;width:200px;top:325.73px;font-size:11.4px;line-height:11.4px;color:#37352f;font-weight:400;text-align:right;letter-spacing:-0.1px">4.25%</div>
<svg class="abs" style="left:311.00px;top:322.58px" width="16" height="16"><circle cx="8" cy="8" r="6.9" fill="none" stroke="#e0dfdd" stroke-width="1.9"/><path d="M8 1.0999999999999996 A6.9 6.9 0 0 1 9.82 1.34" fill="none" stroke="#3a9c64" stroke-width="2" stroke-linecap="round"/></svg>
<div class="abs t" style="left:339.70px;top:325.73px;font-size:11.4px;line-height:11.4px;color:#37352f;font-weight:400;letter-spacing:-0.1px">100%</div>
<div class="abs" style="left:374.2px;top:329px;width:36.00px;height:3px;border-radius:1.5px;background:#4d9a6c"></div>
<div class="abs" style="left:422.8px;top:323.08px;width:75.6px;height:14.9px;border-radius:3px;background:#f5dfe7"></div>
<div class="abs t" style="left:427.60px;top:325.25px;font-size:10.9px;line-height:10.9px;color:#62294a;font-weight:400;letter-spacing:-0.15px">LatentSpac…</div>
<div class="abs" style="left:510.9px;top:323.08px;width:63.1px;height:14.9px;border-radius:3px;background:#eee3dc"></div>
<div class="abs t" style="left:515.50px;top:325.25px;font-size:10.9px;line-height:10.9px;color:#4a3224;font-weight:400;letter-spacing:-0.15px">LatentSp…</div>
<div class="abs" style="left:580.8px;top:315.88px;width:155.95px;height:28.15px;overflow:hidden">
<div class="abs t" style="left:5.80px;top:9.85px;font-size:11.4px;line-height:11.4px;color:#37352f;font-weight:400;letter-spacing:-0.05px;white-space:nowrap">October 8, 2025 15:24</div>
</div>
<div class="abs t" style="left:751.20px;width:200px;top:325.73px;font-size:11.4px;line-height:11.4px;color:#37352f;font-weight:400;text-align:right;letter-spacing:0.1px">3.1</div>
<div class="abs t" style="left:844.50px;width:200px;top:325.73px;font-size:11.4px;line-height:11.4px;color:#37352f;font-weight:400;text-align:right;letter-spacing:0.1px">0.1</div>
<div class="abs t" style="left:920.50px;width:200px;top:325.73px;font-size:11.4px;line-height:11.4px;color:#37352f;font-weight:400;text-align:right;letter-spacing:0.1px">17</div>
<div class="abs t" style="left:983.20px;width:200px;top:325.73px;font-size:11.4px;line-height:11.4px;color:#37352f;font-weight:400;text-align:right;letter-spacing:0.15px">-6.44</div>
<div class="abs" style="left:24.2px;top:372.10px;width:1150px;height:1px;background:#efeeec"></div>
<svg class="abs" style="left:31.2px;top:352.57000000000005px" width="11.6" height="12.4" viewBox="0 0 11.6 12.4" ><g fill="none" stroke="#4a4843" stroke-width="0.9"><ellipse cx="5.8" cy="6.2" rx="2.3" ry="5.4"/><ellipse cx="5.8" cy="6.2" rx="2.3" ry="5.4" transform="rotate(60 5.8 6.2)"/><ellipse cx="5.8" cy="6.2" rx="2.3" ry="5.4" transform="rotate(-60 5.8 6.2)"/></g><circle cx="5.8" cy="6.2" r="0.6" fill="#4a4843"/></svg>
<div class="abs t" style="left:48.90px;top:353.82px;font-size:11.4px;line-height:11.4px;color:#37352f;font-weight:400;letter-spacing:0.53px">20251008-15-d08b</div>
<div class="abs" style="left:167.8px;top:350.82px;width:76.9px;height:15.4px;border-radius:8px;background:#f9dfdc"></div>
<div class="abs" style="left:173px;top:355.72px;width:6.2px;height:6.2px;border-radius:3.1px;background:#e2615a"></div>
<div class="abs t" style="left:182.60px;top:353.82px;font-size:11.4px;line-height:11.4px;color:#692826;font-weight:400;letter-spacing:-0.2px">Interrupted</div>
<div class="abs t" style="left:105.00px;width:200px;top:353.82px;font-size:11.4px;line-height:11.4px;color:#37352f;font-weight:400;text-align:right;letter-spacing:-0.1px">0%</div>
<svg class="abs" style="left:311.00px;top:350.67px" width="16" height="16"><circle cx="8" cy="8" r="6.9" fill="none" stroke="#e0dfdd" stroke-width="1.9"/></svg>
<div class="abs t" style="left:339.70px;top:353.82px;font-size:11.4px;line-height:11.4px;color:#37352f;font-weight:400;letter-spacing:-0.1px">100%</div>
<div class="abs" style="left:374.2px;top:357px;width:36.00px;height:3px;border-radius:1.5px;background:#4d9a6c"></div>
<div class="abs" style="left:422.8px;top:351.17px;width:75.6px;height:14.9px;border-radius:3px;background:#f5dfe7"></div>
<div class="abs t" style="left:427.60px;top:353.34px;font-size:10.9px;line-height:10.9px;color:#62294a;font-weight:400;letter-spacing:-0.15px">LatentSpac…</div>
<div class="abs" style="left:510.9px;top:351.17px;width:63.1px;height:14.9px;border-radius:3px;background:#eee3dc"></div>
<div class="abs t" style="left:515.50px;top:353.34px;font-size:10.9px;line-height:10.9px;color:#4a3224;font-weight:400;letter-spacing:-0.15px">LatentSp…</div>
<div class="abs" style="left:580.8px;top:343.97px;width:155.95px;height:28.15px;overflow:hidden">
<div class="abs t" style="left:5.80px;top:9.85px;font-size:11.4px;line-height:11.4px;color:#37352f;font-weight:400;letter-spacing:-0.05px;white-space:nowrap">October 8, 2025 15:18</div>
</div>
<div class="abs t" style="left:751.20px;width:200px;top:353.82px;font-size:11.4px;line-height:11.4px;color:#37352f;font-weight:400;text-align:right;letter-spacing:0.1px">4.6</div>
<div class="abs t" style="left:844.50px;width:200px;top:353.82px;font-size:11.4px;line-height:11.4px;color:#37352f;font-weight:400;text-align:right;letter-spacing:0.1px">0.1</div>
<div class="abs t" style="left:920.50px;width:200px;top:353.82px;font-size:11.4px;line-height:11.4px;color:#37352f;font-weight:400;text-align:right;letter-spacing:0.1px">0</div>
<div class="abs t" style="left:983.20px;width:200px;top:353.82px;font-size:11.4px;line-height:11.4px;color:#37352f;font-weight:400;text-align:right;letter-spacing:0.15px">0.00</div>
<div class="abs" style="left:24.2px;top:400.25px;width:1150px;height:1px;background:#efeeec"></div>
<svg class="abs" style="left:31.2px;top:380.66px" width="11.6" height="12.4" viewBox="0 0 11.6 12.4" ><g fill="none" stroke="#4a4843" stroke-width="0.9"><ellipse cx="5.8" cy="6.2" rx="2.3" ry="5.4"/><ellipse cx="5.8" cy="6.2" rx="2.3" ry="5.4" transform="rotate(60 5.8 6.2)"/><ellipse cx="5.8" cy="6.2" rx="2.3" ry="5.4" transform="rotate(-60 5.8 6.2)"/></g><circle cx="5.8" cy="6.2" r="0.6" fill="#4a4843"/></svg>
<div class="abs t" style="left:48.90px;top:381.91px;font-size:11.4px;line-height:11.4px;color:#37352f;font-weight:400;letter-spacing:0.53px">20251008-13-bd33</div>
<div class="abs" style="left:167.8px;top:378.91px;width:75.4px;height:15.4px;border-radius:8px;background:#dce8df"></div>
<div class="abs" style="left:173px;top:383.81px;width:6.2px;height:6.2px;border-radius:3.1px;background:#46a06a"></div>
<div class="abs t" style="left:182.60px;top:381.91px;font-size:11.4px;line-height:11.4px;color:#21533a;font-weight:400;letter-spacing:-0.2px">Completed</div>
<div class="abs t" style="left:105.00px;width:200px;top:381.91px;font-size:11.4px;line-height:11.4px;color:#37352f;font-weight:400;text-align:right;letter-spacing:-0.1px">31.75%</div>
<svg class="abs" style="left:311.00px;top:378.76px" width="16" height="16"><circle cx="8" cy="8" r="6.9" fill="none" stroke="#e0dfdd" stroke-width="1.9"/><path d="M8 1.0999999999999996 A6.9 6.9 0 0 1 14.29 10.84" fill="none" stroke="#3a9c64" stroke-width="2" stroke-linecap="round"/></svg>
<div class="abs t" style="left:339.70px;top:381.91px;font-size:11.4px;line-height:11.4px;color:#37352f;font-weight:400;letter-spacing:-0.1px">100%</div>
<div class="abs" style="left:374.2px;top:385px;width:36.00px;height:3px;border-radius:1.5px;background:#4d9a6c"></div>
<div class="abs" style="left:422.8px;top:379.26px;width:75.6px;height:14.9px;border-radius:3px;background:#f5dfe7"></div>
<div class="abs t" style="left:427.60px;top:381.43px;font-size:10.9px;line-height:10.9px;color:#62294a;font-weight:400;letter-spacing:-0.15px">LatentSpac…</div>
<div class="abs" style="left:510.9px;top:379.26px;width:63.1px;height:14.9px;border-radius:3px;background:#eee3dc"></div>
<div class="abs t" style="left:515.50px;top:381.43px;font-size:10.9px;line-height:10.9px;color:#4a3224;font-weight:400;letter-spacing:-0.15px">LatentSp…</div>
<div class="abs" style="left:580.8px;top:372.06px;width:155.95px;height:28.15px;overflow:hidden">
<div class="abs t" style="left:5.80px;top:9.85px;font-size:11.4px;line-height:11.4px;color:#37352f;font-weight:400;letter-spacing:-0.05px;white-space:nowrap">October 8, 2025 13:40</div>
</div>
<div class="abs t" style="left:751.20px;width:200px;top:381.91px;font-size:11.4px;line-height:11.4px;color:#37352f;font-weight:400;text-align:right;letter-spacing:0.1px">0.4</div>
<div class="abs t" style="left:844.50px;width:200px;top:381.91px;font-size:11.4px;line-height:11.4px;color:#37352f;font-weight:400;text-align:right;letter-spacing:0.1px">0.0</div>
<div class="abs t" style="left:920.50px;width:200px;top:381.91px;font-size:11.4px;line-height:11.4px;color:#37352f;font-weight:400;text-align:right;letter-spacing:0.1px">127</div>
<div class="abs t" style="left:983.20px;width:200px;top:381.91px;font-size:11.4px;line-height:11.4px;color:#37352f;font-weight:400;text-align:right;letter-spacing:0.15px">-18.55</div>
<div class="abs" style="left:24.2px;top:428.40px;width:1150px;height:1px;background:#efeeec"></div>
<svg class="abs" style="left:31.2px;top:408.75px" width="11.6" height="12.4" viewBox="0 0 11.6 12.4" ><g fill="none" stroke="#4a4843" stroke-width="0.9"><ellipse cx="5.8" cy="6.2" rx="2.3" ry="5.4"/><ellipse cx="5.8" cy="6.2" rx="2.3" ry="5.4" transform="rotate(60 5.8 6.2)"/><ellipse cx="5.8" cy="6.2" rx="2.3" ry="5.4" transform="rotate(-60 5.8 6.2)"/></g><circle cx="5.8" cy="6.2" r="0.6" fill="#4a4843"/></svg>
<div class="abs t" style="left:48.90px;top:410.00px;font-size:11.4px;line-height:11.4px;color:#37352f;font-weight:400;letter-spacing:0.53px">20251008-10-ae80</div>
<div class="abs" style="left:167.8px;top:407.00px;width:75.4px;height:15.4px;border-radius:8px;background:#dce8df"></div>
<div class="abs" style="left:173px;top:411.90px;width:6.2px;height:6.2px;border-radius:3.1px;background:#46a06a"></div>
<div class="abs t" style="left:182.60px;top:410.00px;font-size:11.4px;line-height:11.4px;color:#21533a;font-weight:400;letter-spacing:-0.2px">Completed</div>
<div class="abs t" style="left:105.00px;width:200px;top:410.00px;font-size:11.4px;line-height:11.4px;color:#37352f;font-weight:400;text-align:right;letter-spacing:-0.1px">59.5%</div>
<svg class="abs" style="left:311.00px;top:406.85px" width="16" height="16"><circle cx="8" cy="8" r="6.9" fill="none" stroke="#e0dfdd" stroke-width="1.9"/><path d="M8 1.0999999999999996 A6.9 6.9 0 1 1 4.12 13.71" fill="none" stroke="#3a9c64" stroke-width="2" stroke-linecap="round"/></svg>
<div class="abs t" style="left:339.70px;top:410.00px;font-size:11.4px;line-height:11.4px;color:#37352f;font-weight:400;letter-spacing:-0.1px">100%</div>
<div class="abs" style="left:374.2px;top:414px;width:36.00px;height:3px;border-radius:1.5px;background:#4d9a6c"></div>
<div class="abs" style="left:422.8px;top:407.35px;width:75.6px;height:14.9px;border-radius:3px;background:#f5dfe7"></div>
<div class="abs t" style="left:427.60px;top:409.52px;font-size:10.9px;line-height:10.9px;color:#62294a;font-weight:400;letter-spacing:-0.15px">LatentSpac…</div>
<div class="abs" style="left:510.9px;top:407.35px;width:63.1px;height:14.9px;border-radius:3px;background:#eee3dc"></div>
<div class="abs t" style="left:515.50px;top:409.52px;font-size:10.9px;line-height:10.9px;color:#4a3224;font-weight:400;letter-spacing:-0.15px">LatentSp…</div>
<div class="abs" style="left:580.8px;top:400.15px;width:155.95px;height:28.15px;overflow:hidden">
<div class="abs t" style="left:5.80px;top:9.85px;font-size:11.4px;line-height:11.4px;color:#37352f;font-weight:400;letter-spacing:-0.05px;white-space:nowrap">October 8, 2025 10:33</div>
</div>
<div class="abs t" style="left:751.20px;width:200px;top:410.00px;font-size:11.4px;line-height:11.4px;color:#37352f;font-weight:400;text-align:right;letter-spacing:0.1px">0.4</div>
<div class="abs t" style="left:844.50px;width:200px;top:410.00px;font-size:11.4px;line-height:11.4px;color:#37352f;font-weight:400;text-align:right;letter-spacing:0.1px">0.0</div>
<div class="abs t" style="left:920.50px;width:200px;top:410.00px;font-size:11.4px;line-height:11.4px;color:#37352f;font-weight:400;text-align:right;letter-spacing:0.1px">238</div>
<div class="abs t" style="left:983.20px;width:200px;top:410.00px;font-size:11.4px;line-height:11.4px;color:#37352f;font-weight:400;text-align:right;letter-spacing:0.15px">-18.44</div>
<div class="abs" style="left:24.2px;top:456.55px;width:1150px;height:1px;background:#efeeec"></div>
<svg class="abs" style="left:31.2px;top:436.84000000000003px" width="11.6" height="12.4" viewBox="0 0 11.6 12.4" ><g fill="none" stroke="#4a4843" stroke-width="0.9"><ellipse cx="5.8" cy="6.2" rx="2.3" ry="5.4"/><ellipse cx="5.8" cy="6.2" rx="2.3" ry="5.4" transform="rotate(60 5.8 6.2)"/><ellipse cx="5.8" cy="6.2" rx="2.3" ry="5.4" transform="rotate(-60 5.8 6.2)"/></g><circle cx="5.8" cy="6.2" r="0.6" fill="#4a4843"/></svg>
<div class="abs t" style="left:48.90px;top:438.09px;font-size:11.4px;line-height:11.4px;color:#37352f;font-weight:400;letter-spacing:0.53px">20251008-10-6d21</div>
<div class="abs" style="left:167.8px;top:435.09px;width:76.9px;height:15.4px;border-radius:8px;background:#f9dfdc"></div>
<div class="abs" style="left:173px;top:439.99px;width:6.2px;height:6.2px;border-radius:3.1px;background:#e2615a"></div>
<div class="abs t" style="left:182.60px;top:438.09px;font-size:11.4px;line-height:11.4px;color:#692826;font-weight:400;letter-spacing:-0.2px">Interrupted</div>
<div class="abs t" style="left:105.00px;width:200px;top:438.09px;font-size:11.4px;line-height:11.4px;color:#37352f;font-weight:400;text-align:right;letter-spacing:-0.1px">0.5%</div>
<svg class="abs" style="left:311.00px;top:434.94px" width="16" height="16"><circle cx="8" cy="8" r="6.9" fill="none" stroke="#e0dfdd" stroke-width="1.9"/><path d="M8 1.0999999999999996 A6.9 6.9 0 0 1 8.22 1.10" fill="none" stroke="#3a9c64" stroke-width="2" stroke-linecap="round"/></svg>
<div class="abs t" style="left:339.70px;top:438.09px;font-size:11.4px;line-height:11.4px;color:#37352f;font-weight:400;letter-spacing:-0.1px">100%</div>
<div class="abs" style="left:374.2px;top:442px;width:36.00px;height:3px;border-radius:1.5px;background:#4d9a6c"></div>
<div class="abs" style="left:422.8px;top:435.44px;width:75.6px;height:14.9px;border-radius:3px;background:#f5dfe7"></div>
<div class="abs t" style="left:427.60px;top:437.61px;font-size:10.9px;line-height:10.9px;color:#62294a;font-weight:400;letter-spacing:-0.15px">LatentSpac…</div>
<div class="abs" style="left:510.9px;top:435.44px;width:63.1px;height:14.9px;border-radius:3px;background:#eee3dc"></div>
<div class="abs t" style="left:515.50px;top:437.61px;font-size:10.9px;line-height:10.9px;color:#4a3224;font-weight:400;letter-spacing:-0.15px">LatentSp…</div>
<div class="abs" style="left:580.8px;top:428.24px;width:155.95px;height:28.15px;overflow:hidden">
<div class="abs t" style="left:5.80px;top:9.85px;font-size:11.4px;line-height:11.4px;color:#37352f;font-weight:400;letter-spacing:-0.05px;white-space:nowrap">October 8, 2025 10:22</div>
</div>
<div class="abs t" style="left:751.20px;width:200px;top:438.09px;font-size:11.4px;line-height:11.4px;color:#37352f;font-weight:400;text-align:right;letter-spacing:0.1px">0.4</div>
<div class="abs t" style="left:844.50px;width:200px;top:438.09px;font-size:11.4px;line-height:11.4px;color:#37352f;font-weight:400;text-align:right;letter-spacing:0.1px">0.0</div>
<div class="abs t" style="left:920.50px;width:200px;top:438.09px;font-size:11.4px;line-height:11.4px;color:#37352f;font-weight:400;text-align:right;letter-spacing:0.1px">2</div>
<div class="abs t" style="left:983.20px;width:200px;top:438.09px;font-size:11.4px;line-height:11.4px;color:#37352f;font-weight:400;text-align:right;letter-spacing:0.15px">-24.77</div>
<div class="abs" style="left:24.2px;top:484.70px;width:1150px;height:1px;background:#efeeec"></div>
<svg class="abs" style="left:31.2px;top:464.93px" width="11.6" height="12.4" viewBox="0 0 11.6 12.4" ><g fill="none" stroke="#4a4843" stroke-width="0.9"><ellipse cx="5.8" cy="6.2" rx="2.3" ry="5.4"/><ellipse cx="5.8" cy="6.2" rx="2.3" ry="5.4" transform="rotate(60 5.8 6.2)"/><ellipse cx="5.8" cy="6.2" rx="2.3" ry="5.4" transform="rotate(-60 5.8 6.2)"/></g><circle cx="5.8" cy="6.2" r="0.6" fill="#4a4843"/></svg>
<div class="abs t" style="left:48.90px;top:466.18px;font-size:11.4px;line-height:11.4px;color:#37352f;font-weight:400;letter-spacing:0.53px">20251007-22-195f</div>
<div class="abs" style="left:167.8px;top:463.18px;width:76.9px;height:15.4px;border-radius:8px;background:#f9dfdc"></div>
<div class="abs" style="left:173px;top:468.08px;width:6.2px;height:6.2px;border-radius:3.1px;background:#e2615a"></div>
<div class="abs t" style="left:182.60px;top:466.18px;font-size:11.4px;line-height:11.4px;color:#692826;font-weight:400;letter-spacing:-0.2px">Interrupted</div>
<div class="abs t" style="left:105.00px;width:200px;top:466.18px;font-size:11.4px;line-height:11.4px;color:#37352f;font-weight:400;text-align:right;letter-spacing:-0.1px">0.25%</div>
<svg class="abs" style="left:311.00px;top:463.03px" width="16" height="16"><circle cx="8" cy="8" r="6.9" fill="none" stroke="#e0dfdd" stroke-width="1.9"/><path d="M8 1.0999999999999996 A6.9 6.9 0 0 1 8.11 1.10" fill="none" stroke="#3a9c64" stroke-width="2" stroke-linecap="round"/></svg>
<div class="abs t" style="left:339.70px;top:466.18px;font-size:11.4px;line-height:11.4px;color:#37352f;font-weight:400;letter-spacing:-0.1px">100%</div>
<div class="abs" style="left:374.2px;top:470px;width:36.00px;height:3px;border-radius:1.5px;background:#4d9a6c"></div>
<div class="abs" style="left:422.8px;top:463.53px;width:75.6px;height:14.9px;border-radius:3px;background:#f5dfe7"></div>
<div class="abs t" style="left:427.60px;top:465.70px;font-size:10.9px;line-height:10.9px;color:#62294a;font-weight:400;letter-spacing:-0.15px">LatentSpac…</div>
<div class="abs" style="left:510.9px;top:463.53px;width:63.1px;height:14.9px;border-radius:3px;background:#eee3dc"></div>
<div class="abs t" style="left:515.50px;top:465.70px;font-size:10.9px;line-height:10.9px;color:#4a3224;font-weight:400;letter-spacing:-0.15px">LatentSp…</div>
<div class="abs" style="left:580.8px;top:456.33px;width:155.95px;height:28.15px;overflow:hidden">
<div class="abs t" style="left:5.80px;top:9.85px;font-size:11.4px;line-height:11.4px;color:#37352f;font-weight:400;letter-spacing:-0.05px;white-space:nowrap">October 7, 2025 22:31</div>
</div>
<div class="abs t" style="left:751.20px;width:200px;top:466.18px;font-size:11.4px;line-height:11.4px;color:#37352f;font-weight:400;text-align:right;letter-spacing:0.1px">0.4</div>
<div class="abs t" style="left:844.50px;width:200px;top:466.18px;font-size:11.4px;line-height:11.4px;color:#37352f;font-weight:400;text-align:right;letter-spacing:0.1px">0.0</div>
<div class="abs t" style="left:920.50px;width:200px;top:466.18px;font-size:11.4px;line-height:11.4px;color:#37352f;font-weight:400;text-align:right;letter-spacing:0.1px">1</div>
<div class="abs t" style="left:983.20px;width:200px;top:466.18px;font-size:11.4px;line-height:11.4px;color:#37352f;font-weight:400;text-align:right;letter-spacing:0.15px">-25.11</div>
<div class="abs" style="left:24.2px;top:512.85px;width:1150px;height:1px;background:#efeeec"></div>
<svg class="abs" style="left:31.2px;top:493.02000000000004px" width="11.6" height="12.4" viewBox="0 0 11.6 12.4" ><g fill="none" stroke="#4a4843" stroke-width="0.9"><ellipse cx="5.8" cy="6.2" rx="2.3" ry="5.4"/><ellipse cx="5.8" cy="6.2" rx="2.3" ry="5.4" transform="rotate(60 5.8 6.2)"/><ellipse cx="5.8" cy="6.2" rx="2.3" ry="5.4" transform="rotate(-60 5.8 6.2)"/></g><circle cx="5.8" cy="6.2" r="0.6" fill="#4a4843"/></svg>
<div class="abs t" style="left:48.90px;top:494.27px;font-size:11.4px;line-height:11.4px;color:#37352f;font-weight:400;letter-spacing:0.53px">20251007-12-ccd3</div>
<div class="abs" style="left:167.8px;top:491.27px;width:75.4px;height:15.4px;border-radius:8px;background:#dce8df"></div>
<div class="abs" style="left:173px;top:496.17px;width:6.2px;height:6.2px;border-radius:3.1px;background:#46a06a"></div>
<div class="abs t" style="left:182.60px;top:494.27px;font-size:11.4px;line-height:11.4px;color:#21533a;font-weight:400;letter-spacing:-0.2px">Completed</div>
<div class="abs t" style="left:105.00px;width:200px;top:494.27px;font-size:11.4px;line-height:11.4px;color:#37352f;font-weight:400;text-align:right;letter-spacing:-0.1px">100%</div>
<svg class="abs" style="left:311.00px;top:491.12px" width="16" height="16"><circle cx="8" cy="8" r="6.9" fill="none" stroke="#e0dfdd" stroke-width="1.9"/><circle cx="8" cy="8" r="6.9" fill="none" stroke="#3a9c64" stroke-width="2"/></svg>
<div class="abs t" style="left:339.70px;top:494.27px;font-size:11.4px;line-height:11.4px;color:#37352f;font-weight:400;letter-spacing:-0.1px">100%</div>
<div class="abs" style="left:374.2px;top:498px;width:36.00px;height:3px;border-radius:1.5px;background:#4d9a6c"></div>
<div class="abs" style="left:422.8px;top:491.62px;width:75.6px;height:14.9px;border-radius:3px;background:#f5dfe7"></div>
<div class="abs t" style="left:427.60px;top:493.79px;font-size:10.9px;line-height:10.9px;color:#62294a;font-weight:400;letter-spacing:-0.15px">LatentSpac…</div>
<div class="abs" style="left:510.9px;top:491.62px;width:63.1px;height:14.9px;border-radius:3px;background:#eee3dc"></div>
<div class="abs t" style="left:515.50px;top:493.79px;font-size:10.9px;line-height:10.9px;color:#4a3224;font-weight:400;letter-spacing:-0.15px">LatentSp…</div>
<div class="abs" style="left:580.8px;top:484.42px;width:155.95px;height:28.15px;overflow:hidden">
<div class="abs t" style="left:5.80px;top:9.85px;font-size:11.4px;line-height:11.4px;color:#37352f;font-weight:400;letter-spacing:-0.05px;white-space:nowrap">October 7, 2025 12:14 <span style="font-family:'DejaVu Sans',sans-serif;font-size:10px">→</span> 17:05</div>
</div>
<div class="abs t" style="left:751.20px;width:200px;top:494.27px;font-size:11.4px;line-height:11.4px;color:#37352f;font-weight:400;text-align:right;letter-spacing:0.1px">0.1</div>
<div class="abs t" style="left:844.50px;width:200px;top:494.27px;font-size:11.4px;line-height:11.4px;color:#37352f;font-weight:400;text-align:right;letter-spacing:0.1px">0.0</div>
<div class="abs t" style="left:920.50px;width:200px;top:494.27px;font-size:11.4px;line-height:11.4px;color:#37352f;font-weight:400;text-align:right;letter-spacing:0.1px">400</div>
<div class="abs t" style="left:983.20px;width:200px;top:494.27px;font-size:11.4px;line-height:11.4px;color:#37352f;font-weight:400;text-align:right;letter-spacing:0.15px">-7.00</div>
<div class="abs" style="left:24.2px;top:541.00px;width:1150px;height:1px;background:#efeeec"></div>
<svg class="abs" style="left:31.2px;top:521.11px" width="11.6" height="12.4" viewBox="0 0 11.6 12.4" ><g fill="none" stroke="#4a4843" stroke-width="0.9"><ellipse cx="5.8" cy="6.2" rx="2.3" ry="5.4"/><ellipse cx="5.8" cy="6.2" rx="2.3" ry="5.4" transform="rotate(60 5.8 6.2)"/><ellipse cx="5.8" cy="6.2" rx="2.3" ry="5.4" transform="rotate(-60 5.8 6.2)"/></g><circle cx="5.8" cy="6.2" r="0.6" fill="#4a4843"/></svg>
<div class="abs t" style="left:48.90px;top:522.36px;font-size:11.4px;line-height:11.4px;color:#37352f;font-weight:400;letter-spacing:0.53px">20251007-09-d4e6</div>
<div class="abs" style="left:167.8px;top:519.36px;width:76.9px;height:15.4px;border-radius:8px;background:#f9dfdc"></div>
<div class="abs" style="left:173px;top:524.26px;width:6.2px;height:6.2px;border-radius:3.1px;background:#e2615a"></div>
<div class="abs t" style="left:182.60px;top:522.36px;font-size:11.4px;line-height:11.4px;color:#692826;font-weight:400;letter-spacing:-0.2px">Interrupted</div>
<div class="abs t" style="left:105.00px;width:200px;top:522.36px;font-size:11.4px;line-height:11.4px;color:#37352f;font-weight:400;text-align:right;letter-spacing:-0.1px">0%</div>
<svg class="abs" style="left:311.00px;top:519.21px" width="16" height="16"><circle cx="8" cy="8" r="6.9" fill="none" stroke="#e0dfdd" stroke-width="1.9"/></svg>
<div class="abs t" style="left:339.70px;top:522.36px;font-size:11.4px;line-height:11.4px;color:#37352f;font-weight:400;letter-spacing:-0.1px">100%</div>
<div class="abs" style="left:374.2px;top:526px;width:36.00px;height:3px;border-radius:1.5px;background:#4d9a6c"></div>
<div class="abs" style="left:422.8px;top:519.71px;width:75.6px;height:14.9px;border-radius:3px;background:#f8e5c0"></div>
<div class="abs t" style="left:427.60px;top:521.88px;font-size:10.9px;line-height:10.9px;color:#53401f;font-weight:400;letter-spacing:-0.15px">MedROITrai…</div>
<div class="abs" style="left:510.9px;top:519.71px;width:48px;height:14.9px;border-radius:3px;background:#eadff3"></div>
<div class="abs t" style="left:515.50px;top:521.88px;font-size:10.9px;line-height:10.9px;color:#533472;font-weight:400;letter-spacing:-0.15px">MedROI</div>
<div class="abs" style="left:580.8px;top:512.51px;width:155.95px;height:28.15px;overflow:hidden">
<div class="abs t" style="left:5.80px;top:9.85px;font-size:11.4px;line-height:11.4px;color:#37352f;font-weight:400;letter-spacing:-0.05px;white-space:nowrap">October 7, 2025 9:36</div>
</div>
<div class="abs t" style="left:751.20px;width:200px;top:522.36px;font-size:11.4px;line-height:11.4px;color:#37352f;font-weight:400;text-align:right;letter-spacing:0.1px">34.1</div>
<div class="abs t" style="left:844.50px;width:200px;top:522.36px;font-size:11.4px;line-height:11.4px;color:#37352f;font-weight:400;text-align:right;letter-spacing:0.1px">24.6</div>
<div class="abs t" style="left:920.50px;width:200px;top:522.36px;font-size:11.4px;line-height:11.4px;color:#37352f;font-weight:400;text-align:right;letter-spacing:0.1px">0</div>
<div class="abs t" style="left:983.20px;width:200px;top:522.36px;font-size:11.4px;line-height:11.4px;color:#37352f;font-weight:400;text-align:right;letter-spacing:0.15px">0.00</div>
<div class="abs" style="left:24.2px;top:569.15px;width:1150px;height:1px;background:#efeeec"></div>
<svg class="abs" style="left:31.2px;top:549.2px" width="11.6" height="12.4" viewBox="0 0 11.6 12.4" ><g fill="none" stroke="#4a4843" stroke-width="0.9"><ellipse cx="5.8" cy="6.2" rx="2.3" ry="5.4"/><ellipse cx="5.8" cy="6.2" rx="2.3" ry="5.4" transform="rotate(60 5.8 6.2)"/><ellipse cx="5.8" cy="6.2" rx="2.3" ry="5.4" transform="rotate(-60 5.8 6.2)"/></g><circle cx="5.8" cy="6.2" r="0.6" fill="#4a4843"/></svg>
<div class="abs t" style="left:48.90px;top:550.45px;font-size:11.4px;line-height:11.4px;color:#37352f;font-weight:400;letter-spacing:0.53px">20251007-09-c5b6</div>
<div class="abs" style="left:167.8px;top:547.45px;width:76.9px;height:15.4px;border-radius:8px;background:#f9dfdc"></div>
<div class="abs" style="left:173px;top:552.35px;width:6.2px;height:6.2px;border-radius:3.1px;background:#e2615a"></div>
<div class="abs t" style="left:182.60px;top:550.45px;font-size:11.4px;line-height:11.4px;color:#692826;font-weight:400;letter-spacing:-0.2px">Interrupted</div>
<div class="abs t" style="left:105.00px;width:200px;top:550.45px;font-size:11.4px;line-height:11.4px;color:#37352f;font-weight:400;text-align:right;letter-spacing:-0.1px">0%</div>
<svg class="abs" style="left:311.00px;top:547.30px" width="16" height="16"><circle cx="8" cy="8" r="6.9" fill="none" stroke="#e0dfdd" stroke-width="1.9"/></svg>
<div class="abs t" style="left:339.70px;top:550.45px;font-size:11.4px;line-height:11.4px;color:#37352f;font-weight:400;letter-spacing:-0.1px">100%</div>
<div class="abs" style="left:374.2px;top:554px;width:36.00px;height:3px;border-radius:1.5px;background:#4d9a6c"></div>
<div class="abs" style="left:422.8px;top:547.80px;width:75.6px;height:14.9px;border-radius:3px;background:#f8e5c0"></div>
<div class="abs t" style="left:427.60px;top:549.97px;font-size:10.9px;line-height:10.9px;color:#53401f;font-weight:400;letter-spacing:-0.15px">MedROITrai…</div>
<div class="abs" style="left:510.9px;top:547.80px;width:48px;height:14.9px;border-radius:3px;background:#eadff3"></div>
<div class="abs t" style="left:515.50px;top:549.97px;font-size:10.9px;line-height:10.9px;color:#533472;font-weight:400;letter-spacing:-0.15px">MedROI</div>
<div class="abs" style="left:580.8px;top:540.60px;width:155.95px;height:28.15px;overflow:hidden">
<div class="abs t" style="left:5.80px;top:9.85px;font-size:11.4px;line-height:11.4px;color:#37352f;font-weight:400;letter-spacing:-0.05px;white-space:nowrap">October 7, 2025 9:32</div>
</div>
<div class="abs t" style="left:751.20px;width:200px;top:550.45px;font-size:11.4px;line-height:11.4px;color:#37352f;font-weight:400;text-align:right;letter-spacing:0.1px">34.1</div>
<div class="abs t" style="left:844.50px;width:200px;top:550.45px;font-size:11.4px;line-height:11.4px;color:#37352f;font-weight:400;text-align:right;letter-spacing:0.1px">24.6</div>
<div class="abs t" style="left:920.50px;width:200px;top:550.45px;font-size:11.4px;line-height:11.4px;color:#37352f;font-weight:400;text-align:right;letter-spacing:0.1px">0</div>
<div class="abs t" style="left:983.20px;width:200px;top:550.45px;font-size:11.4px;line-height:11.4px;color:#37352f;font-weight:400;text-align:right;letter-spacing:0.15px">0.00</div>
<div class="abs" style="left:24.2px;top:597.30px;width:1150px;height:1px;background:#efeeec"></div>
<svg class="abs" style="left:31.2px;top:577.2900000000001px" width="11.6" height="12.4" viewBox="0 0 11.6 12.4" ><g fill="none" stroke="#4a4843" stroke-width="0.9"><ellipse cx="5.8" cy="6.2" rx="2.3" ry="5.4"/><ellipse cx="5.8" cy="6.2" rx="2.3" ry="5.4" transform="rotate(60 5.8 6.2)"/><ellipse cx="5.8" cy="6.2" rx="2.3" ry="5.4" transform="rotate(-60 5.8 6.2)"/></g><circle cx="5.8" cy="6.2" r="0.6" fill="#4a4843"/></svg>
<div class="abs t" style="left:48.90px;top:578.54px;font-size:11.4px;line-height:11.4px;color:#37352f;font-weight:400;letter-spacing:0.53px">20250827-14-f82f</div>
<div class="abs" style="left:167.8px;top:575.54px;width:75.4px;height:15.4px;border-radius:8px;background:#dce8df"></div>
<div class="abs" style="left:173px;top:580.44px;width:6.2px;height:6.2px;border-radius:3.1px;background:#46a06a"></div>
<div class="abs t" style="left:182.60px;top:578.54px;font-size:11.4px;line-height:11.4px;color:#21533a;font-weight:400;letter-spacing:-0.2px">Completed</div>
<div class="abs t" style="left:105.00px;width:200px;top:578.54px;font-size:11.4px;line-height:11.4px;color:#37352f;font-weight:400;text-align:right;letter-spacing:-0.1px">100%</div>
<svg class="abs" style="left:311.00px;top:575.39px" width="16" height="16"><circle cx="8" cy="8" r="6.9" fill="none" stroke="#e0dfdd" stroke-width="1.9"/><circle cx="8" cy="8" r="6.9" fill="none" stroke="#3a9c64" stroke-width="2"/></svg>
<div class="abs t" style="left:339.70px;top:578.54px;font-size:11.4px;line-height:11.4px;color:#37352f;font-weight:400;letter-spacing:-0.1px">0%</div>
<div class="abs" style="left:362.6px;top:582px;width:47.60px;height:3px;border-radius:1.5px;background:#e3e3e2"></div>
<div class="abs" style="left:422.8px;top:575.89px;width:75.6px;height:14.9px;border-radius:3px;background:#f1f0ee"></div>
<div class="abs t" style="left:427.60px;top:578.06px;font-size:10.9px;line-height:10.9px;color:#2f2e2b;font-weight:400;letter-spacing:-0.15px">CMUNeXtTr…</div>
<div class="abs" style="left:510.9px;top:575.89px;width:57.2px;height:14.9px;border-radius:3px;background:#dce8de"></div>
<div class="abs t" style="left:515.50px;top:578.06px;font-size:10.9px;line-height:10.9px;color:#1f5236;font-weight:400;letter-spacing:-0.15px">CMUNeXt</div>
<div class="abs" style="left:580.8px;top:568.69px;width:155.95px;height:28.15px;overflow:hidden">
<div class="abs t" style="left:5.80px;top:9.85px;font-size:11.4px;line-height:11.4px;color:#37352f;font-weight:400;letter-spacing:-0.05px;white-space:nowrap">August 27, 2025 14:10 <span style="font-family:'DejaVu Sans',sans-serif;font-size:10px">→</span> 15:55</div>
</div>
<div class="abs t" style="left:751.20px;width:200px;top:578.54px;font-size:11.4px;line-height:11.4px;color:#37352f;font-weight:400;text-align:right;letter-spacing:0.1px">9.8</div>
<div class="abs t" style="left:844.50px;width:200px;top:578.54px;font-size:11.4px;line-height:11.4px;color:#37352f;font-weight:400;text-align:right;letter-spacing:0.1px">3.1</div>
<div class="abs t" style="left:920.50px;width:200px;top:578.54px;font-size:11.4px;line-height:11.4px;color:#37352f;font-weight:400;text-align:right;letter-spacing:0.1px">359</div>
<div class="abs t" style="left:983.20px;width:200px;top:578.54px;font-size:11.4px;line-height:11.4px;color:#37352f;font-weight:400;text-align:right;letter-spacing:0.15px">-0.55</div>
<div class="abs" style="left:24.2px;top:625.45px;width:1150px;height:1px;background:#efeeec"></div>
<svg class="abs" style="left:31.2px;top:605.38px" width="11.6" height="12.4" viewBox="0 0 11.6 12.4" ><g fill="none" stroke="#4a4843" stroke-width="0.9"><ellipse cx="5.8" cy="6.2" rx="2.3" ry="5.4"/><ellipse cx="5.8" cy="6.2" rx="2.3" ry="5.4" transform="rotate(60 5.8 6.2)"/><ellipse cx="5.8" cy="6.2" rx="2.3" ry="5.4" transform="rotate(-60 5.8 6.2)"/></g><circle cx="5.8" cy="6.2" r="0.6" fill="#4a4843"/></svg>
<div class="abs t" style="left:48.90px;top:606.63px;font-size:11.4px;line-height:11.4px;color:#37352f;font-weight:400;letter-spacing:0.53px">20250826-13-d3ba</div>
<div class="abs" style="left:167.8px;top:603.63px;width:75.4px;height:15.4px;border-radius:8px;background:#dce8df"></div>
<div class="abs" style="left:173px;top:608.53px;width:6.2px;height:6.2px;border-radius:3.1px;background:#46a06a"></div>
<div class="abs t" style="left:182.60px;top:606.63px;font-size:11.4px;line-height:11.4px;color:#21533a;font-weight:400;letter-spacing:-0.2px">Completed</div>
<div class="abs t" style="left:105.00px;width:200px;top:606.63px;font-size:11.4px;line-height:11.4px;color:#37352f;font-weight:400;text-align:right;letter-spacing:-0.1px">100%</div>
<svg class="abs" style="left:311.00px;top:603.48px" width="16" height="16"><circle cx="8" cy="8" r="6.9" fill="none" stroke="#e0dfdd" stroke-width="1.9"/><circle cx="8" cy="8" r="6.9" fill="none" stroke="#3a9c64" stroke-width="2"/></svg>
<div class="abs t" style="left:339.70px;top:606.63px;font-size:11.4px;line-height:11.4px;color:#37352f;font-weight:400;letter-spacing:-0.1px">0%</div>
<div class="abs" style="left:362.6px;top:610px;width:47.60px;height:3px;border-radius:1.5px;background:#e3e3e2"></div>
<div class="abs" style="left:422.8px;top:603.98px;width:75.6px;height:14.9px;border-radius:3px;background:#f1f0ee"></div>
<div class="abs t" style="left:427.60px;top:606.15px;font-size:10.9px;line-height:10.9px;color:#2f2e2b;font-weight:400;letter-spacing:-0.15px">CMUNeXtTr…</div>
<div class="abs" style="left:510.9px;top:603.98px;width:57.2px;height:14.9px;border-radius:3px;background:#dce8de"></div>
<div class="abs t" style="left:515.50px;top:606.15px;font-size:10.9px;line-height:10.9px;color:#1f5236;font-weight:400;letter-spacing:-0.15px">CMUNeXt</div>
<div class="abs" style="left:580.8px;top:596.78px;width:155.95px;height:28.15px;overflow:hidden">
<div class="abs t" style="left:5.80px;top:9.85px;font-size:11.4px;line-height:11.4px;color:#37352f;font-weight:400;letter-spacing:-0.05px;white-space:nowrap">August 26, 2025 13:46 <span style="font-family:'DejaVu Sans',sans-serif;font-size:10px">→</span> 14:33</div>
</div>
<div class="abs t" style="left:751.20px;width:200px;top:606.63px;font-size:11.4px;line-height:11.4px;color:#37352f;font-weight:400;text-align:right;letter-spacing:0.1px">9.8</div>
<div class="abs t" style="left:844.50px;width:200px;top:606.63px;font-size:11.4px;line-height:11.4px;color:#37352f;font-weight:400;text-align:right;letter-spacing:0.1px">3.1</div>
<div class="abs t" style="left:920.50px;width:200px;top:606.63px;font-size:11.4px;line-height:11.4px;color:#37352f;font-weight:400;text-align:right;letter-spacing:0.1px">175</div>
<div class="abs t" style="left:983.20px;width:200px;top:606.63px;font-size:11.4px;line-height:11.4px;color:#37352f;font-weight:400;text-align:right;letter-spacing:0.15px">-0.66</div>
</div>
<svg class="abs" style="left:46.6px;top:675px" width="96" height="126.5"><defs><linearGradient id="dgcsv" x1="0" y1="0" x2="1" y2="1"><stop offset="0" stop-color="#f3f4f5"/><stop offset="1" stop-color="#fbfbfc"/></linearGradient><linearGradient id="fgcsv" x1="0" y1="0" x2="1" y2="1"><stop offset="0" stop-color="#f4f4f4"/><stop offset="1" stop-color="#d9d9d9"/></linearGradient></defs><path d="M0.5 0.5 H68 L95.5 28 V126.0 H0.5 Z" fill="url(#dgcsv)" stroke="#cfcfcf" stroke-width="1"/><path d="M68 0.5 V28 H95.5 Z" fill="url(#fgcsv)" stroke="#d2d2d2" stroke-width="0.8"/><rect x="19.4" y="34.9" width="52.7" height="6.6" fill="#c4c5c5"/><rect x="19.4" y="51.3" width="29.4" height="6.6" fill="#c4c5c5"/><rect x="19.4" y="68.0" width="52.7" height="6.6" fill="#c4c5c5"/><rect x="19.4" y="84.2" width="38.4" height="6.6" fill="#c4c5c5"/><g transform="translate(63.4,96.2) scale(0.255)"><path d="M70.9 1.2 L96 13.3 V86.7 L70.9 98.8 Z" fill="#1f9cf0"/><path d="M71 1.2 L28 40 L10 26 L2 31 L21 50 L2 69 L10 74 L28 60 L71 98.8 L75 96 V72 L44 50 L75 28 V4 Z" fill="#0078d4"/><path d="M71 1.2 L28 40 L10 26 L2 31 L21 50 L75 28 V4 Z" fill="#0065a9" opacity="0.55"/></g></svg>
<div class="abs" style="left:-4.00px;width:200px;top:805.45px;font-size:16px;line-height:20px;text-align:center;color:#000;letter-spacing:0.2px">metrics.csv</div>
<svg class="abs" style="left:190.2px;top:675px" width="96" height="126.5"><defs><linearGradient id="dgjson" x1="0" y1="0" x2="1" y2="1"><stop offset="0" stop-color="#f3f4f5"/><stop offset="1" stop-color="#fbfbfc"/></linearGradient><linearGradient id="fgjson" x1="0" y1="0" x2="1" y2="1"><stop offset="0" stop-color="#f4f4f4"/><stop offset="1" stop-color="#d9d9d9"/></linearGradient></defs><path d="M0.5 0.5 H68 L95.5 28 V126.0 H0.5 Z" fill="url(#dgjson)" stroke="#cfcfcf" stroke-width="1"/><path d="M68 0.5 V28 H95.5 Z" fill="url(#fgjson)" stroke="#d2d2d2" stroke-width="0.8"/><path d="M40.6 42.2 C35 42.2 33.2 43.5 33.2 49 V57 C33.2 61.5 31 63.5 26.5 63.5 C31 63.5 33.2 65.5 33.2 70 V78.5 C33.2 84 35 85 40.6 85" fill="none" stroke="#b5b43d" stroke-width="5.6"/><path d="M55.4 42.2 C61 42.2 62.8 43.5 62.8 49 V57 C62.8 61.5 65 63.5 69.5 63.5 C65 63.5 62.8 65.5 62.8 70 V78.5 C62.8 84 61 85 55.4 85" fill="none" stroke="#b5b43d" stroke-width="5.6"/><g transform="translate(63.4,96.2) scale(0.255)"><path d="M70.9 1.2 L96 13.3 V86.7 L70.9 98.8 Z" fill="#1f9cf0"/><path d="M71 1.2 L28 40 L10 26 L2 31 L21 50 L2 69 L10 74 L28 60 L71 98.8 L75 96 V72 L44 50 L75 28 V4 Z" fill="#0078d4"/><path d="M71 1.2 L28 40 L10 26 L2 31 L21 50 L75 28 V4 Z" fill="#0065a9" opacity="0.55"/></g></svg>
<div class="abs" style="left:139.50px;width:200px;top:805.45px;font-size:16px;line-height:20px;text-align:center;color:#000;letter-spacing:0.2px">training_argumen</div><div class="abs" style="left:139.50px;width:200px;top:825.35px;font-size:16px;line-height:20px;text-align:center;color:#000;letter-spacing:0.2px">ts.json</div>
<div class="abs card" style="left:320px;top:706.1px;width:120px;height:90.6px"><svg width="120" height="90.6" viewBox="0 0 120 90.6"><rect width="120" height="90.6" fill="#fff"/><text x="60" y="8.6" font-size="3.6" text-anchor="middle" fill="#222" font-family="Liberation Sans, sans-serif">actual</text><defs><linearGradient id="skactualb" x1="0" y1="0" x2="0" y2="1"><stop offset="0" stop-color="#dc9c86"/><stop offset="0.35" stop-color="#e8b096"/><stop offset="0.7" stop-color="#efc4a6"/><stop offset="1" stop-color="#f1cfb2"/></linearGradient><radialGradient id="skactual" cx="0.5" cy="0.52" r="0.72"><stop offset="0" stop-color="#fff" stop-opacity="0.12"/><stop offset="0.6" stop-color="#fff" stop-opacity="0"/><stop offset="0.78" stop-color="#b07860" stop-opacity="0.15"/><stop offset="0.86" stop-color="#6a4436" stop-opacity="0.7"/><stop offset="0.93" stop-color="#2e1e18"/><stop offset="1" stop-color="#1a110e"/></radialGradient><radialGradient id="skactuall" cx="0.5" cy="0.5" r="0.5"><stop offset="0" stop-color="#4e2410"/><stop offset="0.55" stop-color="#6e3618"/><stop offset="0.8" stop-color="#a4602e" stop-opacity="0.7"/><stop offset="1" stop-color="#c07848" stop-opacity="0"/></radialGradient></defs><rect x="26.3" y="11.0" width="69.5" height="69.5" fill="url(#skactualb)"/><rect x="26.3" y="11.0" width="69.5" height="69.5" fill="url(#skactual)"/><path d="M56.3 13.0 q3 20 -4 40 M66.3 14.0 q-2 18 3 30 M44.3 31.0 q8 10 6 30" stroke="#c99080" stroke-width="0.5" fill="none" opacity="0.6"/><defs><radialGradient id="skactualp" cx="0.55" cy="0.55" r="0.55"><stop offset="0" stop-color="#3d2096"/><stop offset="0.6" stop-color="#4f2ca8"/><stop offset="1" stop-color="#6a48b4"/></radialGradient></defs><path d="M53.8 42.0 C55.3 38.0 59.3 36.0 61.3 35.0 L62.3 30.0 L64.3 34.0 L66.3 33.0 L68.3 36.0 L70.3 37.0 C74.3 40.0 78.3 46.0 78.8 52.0 C79.3 58.0 76.3 63.0 72.3 66.0 C69.3 69.0 65.3 69.0 62.3 66.0 C57.3 62.0 53.3 55.0 53.1 49.0 C52.900000000000006 46.0 53.3 44.0 53.8 42.0 Z" fill="url(#skactualp)"/></svg></div>
<div class="abs" style="left:283.00px;width:200px;top:805.45px;font-size:16px;line-height:20px;text-align:center;color:#000;letter-spacing:0.2px">actual</div><div class="abs" style="left:283.00px;width:200px;top:825.35px;font-size:16px;line-height:20px;text-align:center;color:#000;letter-spacing:0.2px">(preview).png</div>
<div class="abs card" style="left:463.5px;top:706.1px;width:120px;height:90.6px"><svg width="120" height="90.6" viewBox="0 0 120 90.6"><rect width="120" height="90.6" fill="#fff"/><text x="60" y="9.2" font-size="4.2" text-anchor="middle" fill="#222" font-family="Liberation Sans, sans-serif">Bce loss over Epoch</text><line x1="19.10" y1="11.4" x2="19.10" y2="80.3" stroke="#dcdcdc" stroke-width="0.45"/><line x1="19.10" y1="80.3" x2="19.10" y2="81.5" stroke="#555" stroke-width="0.35"/><line x1="39.15" y1="11.4" x2="39.15" y2="80.3" stroke="#dcdcdc" stroke-width="0.45"/><line x1="39.15" y1="80.3" x2="39.15" y2="81.5" stroke="#555" stroke-width="0.35"/><line x1="59.20" y1="11.4" x2="59.20" y2="80.3" stroke="#dcdcdc" stroke-width="0.45"/><line x1="59.20" y1="80.3" x2="59.20" y2="81.5" stroke="#555" stroke-width="0.35"/><line x1="79.25" y1="11.4" x2="79.25" y2="80.3" stroke="#dcdcdc" stroke-width="0.45"/><line x1="79.25" y1="80.3" x2="79.25" y2="81.5" stroke="#555" stroke-width="0.35"/><line x1="99.30" y1="11.4" x2="99.30" y2="80.3" stroke="#dcdcdc" stroke-width="0.45"/><line x1="99.30" y1="80.3" x2="99.30" y2="81.5" stroke="#555" stroke-width="0.35"/><text x="19.10" y="84.4" font-size="2.8" text-anchor="middle" fill="#444" font-family="Liberation Sans, sans-serif">0</text><text x="39.15" y="84.4" font-size="2.8" text-anchor="middle" fill="#444" font-family="Liberation Sans, sans-serif">10</text><text x="59.20" y="84.4" font-size="2.8" text-anchor="middle" fill="#444" font-family="Liberation Sans, sans-serif">20</text><text x="79.25" y="84.4" font-size="2.8" text-anchor="middle" fill="#444" font-family="Liberation Sans, sans-serif">30</text><text x="99.30" y="84.4" font-size="2.8" text-anchor="middle" fill="#444" font-family="Liberation Sans, sans-serif">40</text><text x="60.9" y="88.3" font-size="3" text-anchor="middle" fill="#444" font-family="Liberation Sans, sans-serif">Epoch</text><line x1="14.2" y1="15.40" x2="107.6" y2="15.40" stroke="#dcdcdc" stroke-width="0.45"/><line x1="13.0" y1="15.40" x2="14.2" y2="15.40" stroke="#555" stroke-width="0.35"/><text x="12.399999999999999" y="16.30" font-size="2.6" text-anchor="end" fill="#555" font-family="Liberation Sans, sans-serif">0.30</text><line x1="14.2" y1="27.58" x2="107.6" y2="27.58" stroke="#dcdcdc" stroke-width="0.45"/><line x1="13.0" y1="27.58" x2="14.2" y2="27.58" stroke="#555" stroke-width="0.35"/><text x="12.399999999999999" y="28.48" font-size="2.6" text-anchor="end" fill="#555" font-family="Liberation Sans, sans-serif">0.28</text><line x1="14.2" y1="39.76" x2="107.6" y2="39.76" stroke="#dcdcdc" stroke-width="0.45"/><line x1="13.0" y1="39.76" x2="14.2" y2="39.76" stroke="#555" stroke-width="0.35"/><text x="12.399999999999999" y="40.66" font-size="2.6" text-anchor="end" fill="#555" font-family="Liberation Sans, sans-serif">0.26</text><line x1="14.2" y1="51.94" x2="107.6" y2="51.94" stroke="#dcdcdc" stroke-width="0.45"/><line x1="13.0" y1="51.94" x2="14.2" y2="51.94" stroke="#555" stroke-width="0.35"/><text x="12.399999999999999" y="52.84" font-size="2.6" text-anchor="end" fill="#555" font-family="Liberation Sans, sans-serif">0.24</text><line x1="14.2" y1="64.12" x2="107.6" y2="64.12" stroke="#dcdcdc" stroke-width="0.45"/><line x1="13.0" y1="64.12" x2="14.2" y2="64.12" stroke="#555" stroke-width="0.35"/><text x="12.399999999999999" y="65.02" font-size="2.6" text-anchor="end" fill="#555" font-family="Liberation Sans, sans-serif">0.22</text><line x1="14.2" y1="76.30" x2="107.6" y2="76.30" stroke="#dcdcdc" stroke-width="0.45"/><line x1="13.0" y1="76.30" x2="14.2" y2="76.30" stroke="#555" stroke-width="0.35"/><text x="12.399999999999999" y="77.20" font-size="2.6" text-anchor="end" fill="#555" font-family="Liberation Sans, sans-serif">0.20</text><rect x="14.2" y="11.4" width="93.39999999999999" height="68.89999999999999" fill="none" stroke="#777" stroke-width="0.4"/><text transform="translate(3.6999999999999993,45.85) rotate(-90)" font-size="2.8" text-anchor="middle" fill="#444" font-family="Liberation Sans, sans-serif">value</text><polyline points="19.10,13.70 20.10,26.89 21.11,35.86 22.11,42.05 23.11,46.40 24.11,49.52 25.12,51.82 26.12,50.45 27.12,55.18 28.12,55.60 29.12,53.16 30.13,59.76 31.13,60.82 32.13,59.89 33.14,61.89 34.14,58.92 35.14,58.91 36.14,58.68 37.14,63.69 38.15,63.87 39.15,64.33 40.15,62.75 41.16,65.50 42.16,62.64 43.16,66.80 44.16,64.18 45.16,67.28 46.17,65.91 47.17,64.53 48.17,68.55 49.17,67.97 50.18,67.95 51.18,66.26 52.18,68.22 53.19,69.35 54.19,71.32 55.19,70.31 56.19,69.59 57.20,70.18 58.20,72.21 59.20,71.86 60.20,72.77 61.20,71.40 62.21,72.73 63.21,68.63 64.21,70.00 65.22,73.88 66.22,69.91 67.22,70.22 68.22,70.44 69.22,72.29 70.23,71.87 71.23,70.09 72.23,74.90 73.23,72.91 74.24,73.73 75.24,75.54 76.24,71.25 77.25,72.26 78.25,75.35 79.25,71.82 80.25,74.50 81.25,74.24 82.26,76.11 83.26,74.42 84.26,70.88 85.26,76.08 86.27,74.13 87.27,72.25 88.27,74.29 89.28,75.33 90.28,76.74 91.28,73.28 92.28,73.51 93.28,74.30 94.29,76.42 95.29,76.38 96.29,75.80 97.29,74.34 98.30,75.44 99.30,77.83 100.30,77.57 101.31,77.56 102.31,75.15 103.31,76.25 104.31,70.25" fill="none" stroke="#5b9bd0" stroke-width="0.65" stroke-linejoin="round"/></svg></div>
<div class="abs" style="left:426.50px;width:200px;top:805.45px;font-size:16px;line-height:20px;text-align:center;color:#000;letter-spacing:0.2px">bce loss.png</div>
<div class="abs card" style="left:607px;top:706.1px;width:120px;height:90.6px"><svg width="120" height="90.6" viewBox="0 0 120 90.6"><rect width="120" height="90.6" fill="#fff"/><text x="60" y="9.2" font-size="4.2" text-anchor="middle" fill="#222" font-family="Liberation Sans, sans-serif">Combined loss over Epoch</text><line x1="19.10" y1="11.4" x2="19.10" y2="80.3" stroke="#dcdcdc" stroke-width="0.45"/><line x1="19.10" y1="80.3" x2="19.10" y2="81.5" stroke="#555" stroke-width="0.35"/><line x1="39.15" y1="11.4" x2="39.15" y2="80.3" stroke="#dcdcdc" stroke-width="0.45"/><line x1="39.15" y1="80.3" x2="39.15" y2="81.5" stroke="#555" stroke-width="0.35"/><line x1="59.20" y1="11.4" x2="59.20" y2="80.3" stroke="#dcdcdc" stroke-width="0.45"/><line x1="59.20" y1="80.3" x2="59.20" y2="81.5" stroke="#555" stroke-width="0.35"/><line x1="79.25" y1="11.4" x2="79.25" y2="80.3" stroke="#dcdcdc" stroke-width="0.45"/><line x1="79.25" y1="80.3" x2="79.25" y2="81.5" stroke="#555" stroke-width="0.35"/><line x1="99.30" y1="11.4" x2="99.30" y2="80.3" stroke="#dcdcdc" stroke-width="0.45"/><line x1="99.30" y1="80.3" x2="99.30" y2="81.5" stroke="#555" stroke-width="0.35"/><text x="19.10" y="84.4" font-size="2.8" text-anchor="middle" fill="#444" font-family="Liberation Sans, sans-serif">0</text><text x="39.15" y="84.4" font-size="2.8" text-anchor="middle" fill="#444" font-family="Liberation Sans, sans-serif">10</text><text x="59.20" y="84.4" font-size="2.8" text-anchor="middle" fill="#444" font-family="Liberation Sans, sans-serif">20</text><text x="79.25" y="84.4" font-size="2.8" text-anchor="middle" fill="#444" font-family="Liberation Sans, sans-serif">30</text><text x="99.30" y="84.4" font-size="2.8" text-anchor="middle" fill="#444" font-family="Liberation Sans, sans-serif">40</text><text x="60.9" y="88.3" font-size="3" text-anchor="middle" fill="#444" font-family="Liberation Sans, sans-serif">Epoch</text><line x1="14.2" y1="15.40" x2="107.6" y2="15.40" stroke="#dcdcdc" stroke-width="0.45"/><line x1="13.0" y1="15.40" x2="14.2" y2="15.40" stroke="#555" stroke-width="0.35"/><text x="12.399999999999999" y="16.30" font-size="2.6" text-anchor="end" fill="#555" font-family="Liberation Sans, sans-serif">0.30</text><line x1="14.2" y1="27.58" x2="107.6" y2="27.58" stroke="#dcdcdc" stroke-width="0.45"/><line x1="13.0" y1="27.58" x2="14.2" y2="27.58" stroke="#555" stroke-width="0.35"/><text x="12.399999999999999" y="28.48" font-size="2.6" text-anchor="end" fill="#555" font-family="Liberation Sans, sans-serif">0.28</text><line x1="14.2" y1="39.76" x2="107.6" y2="39.76" stroke="#dcdcdc" stroke-width="0.45"/><line x1="13.0" y1="39.76" x2="14.2" y2="39.76" stroke="#555" stroke-width="0.35"/><text x="12.399999999999999" y="40.66" font-size="2.6" text-anchor="end" fill="#555" font-family="Liberation Sans, sans-serif">0.26</text><line x1="14.2" y1="51.94" x2="107.6" y2="51.94" stroke="#dcdcdc" stroke-width="0.45"/><line x1="13.0" y1="51.94" x2="14.2" y2="51.94" stroke="#555" stroke-width="0.35"/><text x="12.399999999999999" y="52.84" font-size="2.6" text-anchor="end" fill="#555" font-family="Liberation Sans, sans-serif">0.24</text><line x1="14.2" y1="64.12" x2="107.6" y2="64.12" stroke="#dcdcdc" stroke-width="0.45"/><line x1="13.0" y1="64.12" x2="14.2" y2="64.12" stroke="#555" stroke-width="0.35"/><text x="12.399999999999999" y="65.02" font-size="2.6" text-anchor="end" fill="#555" font-family="Liberation Sans, sans-serif">0.22</text><line x1="14.2" y1="76.30" x2="107.6" y2="76.30" stroke="#dcdcdc" stroke-width="0.45"/><line x1="13.0" y1="76.30" x2="14.2" y2="76.30" stroke="#555" stroke-width="0.35"/><text x="12.399999999999999" y="77.20" font-size="2.6" text-anchor="end" fill="#555" font-family="Liberation Sans, sans-serif">0.20</text><rect x="14.2" y="11.4" width="93.39999999999999" height="68.89999999999999" fill="none" stroke="#777" stroke-width="0.4"/><text transform="translate(3.6999999999999993,45.85) rotate(-90)" font-size="2.8" text-anchor="middle" fill="#444" font-family="Liberation Sans, sans-serif">value</text><polyline points="19.10,14.30 20.10,29.65 21.11,39.63 22.11,46.20 23.11,50.60 24.11,53.61 25.12,55.73 26.12,57.76 27.12,57.13 28.12,59.98 29.12,59.55 30.13,61.10 31.13,61.53 32.13,63.36 33.14,61.92 34.14,63.00 35.14,62.48 36.14,64.87 37.14,64.97 38.15,63.99 39.15,64.95 40.15,64.42 41.16,65.29 42.16,65.06 43.16,66.51 44.16,67.95 45.16,65.43 46.17,67.36 47.17,67.04 48.17,66.93 49.17,68.08 50.18,69.30 51.18,67.42 52.18,68.06 53.19,70.63 54.19,69.74 55.19,69.68 56.19,69.56 57.20,69.53 58.20,70.63 59.20,70.04 60.20,69.08 61.20,71.82 62.21,71.18 63.21,70.79 64.21,70.51 65.22,70.37 66.22,72.73 67.22,72.93 68.22,71.60 69.22,70.51 70.23,70.54 71.23,72.87 72.23,73.45 73.23,72.06 74.24,72.97 75.24,72.21 76.24,71.42 77.25,72.40 78.25,71.53 79.25,73.27 80.25,73.05 81.25,72.73 82.26,73.42 83.26,73.58 84.26,74.20 85.26,72.00 86.27,72.26 87.27,72.70 88.27,74.76 89.28,73.39 90.28,73.90 91.28,73.71 92.28,73.29 93.28,73.30 94.29,74.06 95.29,75.43 96.29,73.39 97.29,73.98 98.30,75.30 99.30,72.95 100.30,72.66 101.31,75.02 102.31,73.75 103.31,74.33 104.31,72.52" fill="none" stroke="#5b9bd0" stroke-width="0.65" stroke-linejoin="round"/></svg></div>
<div class="abs" style="left:570.00px;width:200px;top:805.45px;font-size:16px;line-height:20px;text-align:center;color:#000;letter-spacing:0.2px">combined</div><div class="abs" style="left:570.00px;width:200px;top:825.35px;font-size:16px;line-height:20px;text-align:center;color:#000;letter-spacing:0.2px">loss.png</div>
<div class="abs card" style="left:750.5px;top:706.1px;width:120px;height:90.6px"><svg width="120" height="90.6" viewBox="0 0 120 90.6"><rect width="120" height="90.6" fill="#fff"/><text x="60" y="9.2" font-size="4.2" text-anchor="middle" fill="#222" font-family="Liberation Sans, sans-serif">Epoch duration over Epoch</text><line x1="19.10" y1="11.4" x2="19.10" y2="80.3" stroke="#dcdcdc" stroke-width="0.45"/><line x1="19.10" y1="80.3" x2="19.10" y2="81.5" stroke="#555" stroke-width="0.35"/><line x1="39.15" y1="11.4" x2="39.15" y2="80.3" stroke="#dcdcdc" stroke-width="0.45"/><line x1="39.15" y1="80.3" x2="39.15" y2="81.5" stroke="#555" stroke-width="0.35"/><line x1="59.20" y1="11.4" x2="59.20" y2="80.3" stroke="#dcdcdc" stroke-width="0.45"/><line x1="59.20" y1="80.3" x2="59.20" y2="81.5" stroke="#555" stroke-width="0.35"/><line x1="79.25" y1="11.4" x2="79.25" y2="80.3" stroke="#dcdcdc" stroke-width="0.45"/><line x1="79.25" y1="80.3" x2="79.25" y2="81.5" stroke="#555" stroke-width="0.35"/><line x1="99.30" y1="11.4" x2="99.30" y2="80.3" stroke="#dcdcdc" stroke-width="0.45"/><line x1="99.30" y1="80.3" x2="99.30" y2="81.5" stroke="#555" stroke-width="0.35"/><text x="19.10" y="84.4" font-size="2.8" text-anchor="middle" fill="#444" font-family="Liberation Sans, sans-serif">0</text><text x="39.15" y="84.4" font-size="2.8" text-anchor="middle" fill="#444" font-family="Liberation Sans, sans-serif">10</text><text x="59.20" y="84.4" font-size="2.8" text-anchor="middle" fill="#444" font-family="Liberation Sans, sans-serif">20</text><text x="79.25" y="84.4" font-size="2.8" text-anchor="middle" fill="#444" font-family="Liberation Sans, sans-serif">30</text><text x="99.30" y="84.4" font-size="2.8" text-anchor="middle" fill="#444" font-family="Liberation Sans, sans-serif">40</text><text x="60.9" y="88.3" font-size="3" text-anchor="middle" fill="#444" font-family="Liberation Sans, sans-serif">Epoch</text><line x1="14.2" y1="15.40" x2="107.6" y2="15.40" stroke="#dcdcdc" stroke-width="0.45"/><line x1="13.0" y1="15.40" x2="14.2" y2="15.40" stroke="#555" stroke-width="0.35"/><text x="12.399999999999999" y="16.30" font-size="2.6" text-anchor="end" fill="#555" font-family="Liberation Sans, sans-serif">0.30</text><line x1="14.2" y1="27.58" x2="107.6" y2="27.58" stroke="#dcdcdc" stroke-width="0.45"/><line x1="13.0" y1="27.58" x2="14.2" y2="27.58" stroke="#555" stroke-width="0.35"/><text x="12.399999999999999" y="28.48" font-size="2.6" text-anchor="end" fill="#555" font-family="Liberation Sans, sans-serif">0.28</text><line x1="14.2" y1="39.76" x2="107.6" y2="39.76" stroke="#dcdcdc" stroke-width="0.45"/><line x1="13.0" y1="39.76" x2="14.2" y2="39.76" stroke="#555" stroke-width="0.35"/><text x="12.399999999999999" y="40.66" font-size="2.6" text-anchor="end" fill="#555" font-family="Liberation Sans, sans-serif">0.26</text><line x1="14.2" y1="51.94" x2="107.6" y2="51.94" stroke="#dcdcdc" stroke-width="0.45"/><line x1="13.0" y1="51.94" x2="14.2" y2="51.94" stroke="#555" stroke-width="0.35"/><text x="12.399999999999999" y="52.84" font-size="2.6" text-anchor="end" fill="#555" font-family="Liberation Sans, sans-serif">0.24</text><line x1="14.2" y1="64.12" x2="107.6" y2="64.12" stroke="#dcdcdc" stroke-width="0.45"/><line x1="13.0" y1="64.12" x2="14.2" y2="64.12" stroke="#555" stroke-width="0.35"/><text x="12.399999999999999" y="65.02" font-size="2.6" text-anchor="end" fill="#555" font-family="Liberation Sans, sans-serif">0.22</text><line x1="14.2" y1="76.30" x2="107.6" y2="76.30" stroke="#dcdcdc" stroke-width="0.45"/><line x1="13.0" y1="76.30" x2="14.2" y2="76.30" stroke="#555" stroke-width="0.35"/><text x="12.399999999999999" y="77.20" font-size="2.6" text-anchor="end" fill="#555" font-family="Liberation Sans, sans-serif">0.20</text><rect x="14.2" y="11.4" width="93.39999999999999" height="68.89999999999999" fill="none" stroke="#777" stroke-width="0.4"/><text transform="translate(3.6999999999999993,45.85) rotate(-90)" font-size="2.8" text-anchor="middle" fill="#444" font-family="Liberation Sans, sans-serif">value</text><polyline points="19.10,14.00 20.10,73.00 21.11,72.79 22.11,73.39 23.11,72.76 24.11,73.88 25.12,73.45 26.12,73.75 27.12,73.71 28.12,72.86 29.12,73.59 30.13,74.04 31.13,72.82 32.13,73.80 33.14,73.74 34.14,72.79 35.14,73.16 36.14,73.02 37.14,73.45 38.15,70.00 39.15,68.30 40.15,71.00 41.16,73.51 42.16,72.81 43.16,73.03 44.16,73.00 45.16,74.00 46.17,73.79 47.17,73.20 48.17,73.76 49.17,74.03 50.18,73.95 51.18,73.32 52.18,73.88 53.19,73.92 54.19,72.79 55.19,72.73 56.19,73.05 57.20,72.80 58.20,73.92 59.20,73.93 60.20,73.54 61.20,72.75 62.21,73.86 63.21,73.39 64.21,73.22 65.22,72.86 66.22,73.55 67.22,72.98 68.22,73.97 69.22,73.33 70.23,73.51 71.23,71.50 72.23,73.70 73.23,73.74 74.24,73.14 75.24,73.09 76.24,74.08 77.25,73.15 78.25,73.11 79.25,73.00 80.25,66.30 81.25,65.63 82.26,67.70 83.26,67.43 84.26,67.93 85.26,67.75 86.27,67.18 87.27,66.18 88.27,65.77 89.28,67.15 90.28,66.08 91.28,67.86 92.28,67.62 93.28,66.12 94.29,66.47 95.29,70.00 96.29,77.00 97.29,55.00 98.30,42.00 99.30,48.00 100.30,65.40 101.31,40.00 102.31,33.30 103.31,55.00" fill="none" stroke="#5b9bd0" stroke-width="0.65" stroke-linejoin="round"/></svg></div>
<div class="abs" style="left:713.50px;width:200px;top:805.45px;font-size:16px;line-height:20px;text-align:center;color:#000;letter-spacing:0.2px">epoch</div><div class="abs" style="left:713.50px;width:200px;top:825.35px;font-size:16px;line-height:20px;text-align:center;color:#000;letter-spacing:0.2px">duration.png</div>
<div class="abs card" style="left:894px;top:706.1px;width:120px;height:90.6px"><svg width="120" height="90.6" viewBox="0 0 120 90.6"><rect width="120" height="90.6" fill="#fff"/><text x="60" y="8.6" font-size="3.6" text-anchor="middle" fill="#222" font-family="Liberation Sans, sans-serif">expected</text><defs><linearGradient id="skexpectedb" x1="0" y1="0" x2="0" y2="1"><stop offset="0" stop-color="#dc9c86"/><stop offset="0.35" stop-color="#e8b096"/><stop offset="0.7" stop-color="#efc4a6"/><stop offset="1" stop-color="#f1cfb2"/></linearGradient><radialGradient id="skexpected" cx="0.5" cy="0.52" r="0.72"><stop offset="0" stop-color="#fff" stop-opacity="0.12"/><stop offset="0.6" stop-color="#fff" stop-opacity="0"/><stop offset="0.78" stop-color="#b07860" stop-opacity="0.15"/><stop offset="0.86" stop-color="#6a4436" stop-opacity="0.7"/><stop offset="0.93" stop-color="#2e1e18"/><stop offset="1" stop-color="#1a110e"/></radialGradient><radialGradient id="skexpectedl" cx="0.5" cy="0.5" r="0.5"><stop offset="0" stop-color="#4e2410"/><stop offset="0.55" stop-color="#6e3618"/><stop offset="0.8" stop-color="#a4602e" stop-opacity="0.7"/><stop offset="1" stop-color="#c07848" stop-opacity="0"/></radialGradient></defs><rect x="26.3" y="11.0" width="69.5" height="69.5" fill="url(#skexpectedb)"/><rect x="26.3" y="11.0" width="69.5" height="69.5" fill="url(#skexpected)"/><path d="M56.3 13.0 q3 20 -4 40 M66.3 14.0 q-2 18 3 30 M44.3 31.0 q8 10 6 30" stroke="#c99080" stroke-width="0.5" fill="none" opacity="0.6"/><defs><radialGradient id="skexpectedp" cx="0.55" cy="0.55" r="0.55"><stop offset="0" stop-color="#3d2096"/><stop offset="0.6" stop-color="#4f2ca8"/><stop offset="1" stop-color="#6a48b4"/></radialGradient></defs><ellipse cx="66.3" cy="52.0" rx="12.5" ry="13.5" fill="#d8874a" opacity="0.45"/><path d="M56.3 42.0 C57.3 39.0 62.3 39.5 66.3 39.2 C71.3 39.0 73.3 41.0 73.8 44.0 C74.3 47.0 76.3 49.0 76.3 52.0 C76.8 55.0 75.8 58.0 73.3 60.0 L70.3 61.0 L67.3 60.5 L64.3 63.0 C61.3 63.0 59.3 60.0 58.3 57.0 C56.3 52.0 55.8 47.0 56.3 42.0 Z" fill="url(#skexpectedp)"/></svg></div>
<div class="abs" style="left:857.00px;width:200px;top:805.45px;font-size:16px;line-height:20px;text-align:center;color:#000;letter-spacing:0.2px">expected</div><div class="abs" style="left:857.00px;width:200px;top:825.35px;font-size:16px;line-height:20px;text-align:center;color:#000;letter-spacing:0.2px">(preview).png</div>
<div class="abs card" style="left:1037.5px;top:706.1px;width:120px;height:90.6px"><svg width="120" height="90.6" viewBox="0 0 120 90.6"><rect width="120" height="90.6" fill="#fff"/><text x="60" y="8.6" font-size="3.6" text-anchor="middle" fill="#222" font-family="Liberation Sans, sans-serif">input</text><defs><linearGradient id="skinputb" x1="0" y1="0" x2="0" y2="1"><stop offset="0" stop-color="#dc9c86"/><stop offset="0.35" stop-color="#e8b096"/><stop offset="0.7" stop-color="#efc4a6"/><stop offset="1" stop-color="#f1cfb2"/></linearGradient><radialGradient id="skinput" cx="0.5" cy="0.52" r="0.72"><stop offset="0" stop-color="#fff" stop-opacity="0.12"/><stop offset="0.6" stop-color="#fff" stop-opacity="0"/><stop offset="0.78" stop-color="#b07860" stop-opacity="0.15"/><stop offset="0.86" stop-color="#6a4436" stop-opacity="0.7"/><stop offset="0.93" stop-color="#2e1e18"/><stop offset="1" stop-color="#1a110e"/></radialGradient><radialGradient id="skinputl" cx="0.5" cy="0.5" r="0.5"><stop offset="0" stop-color="#4e2410"/><stop offset="0.55" stop-color="#6e3618"/><stop offset="0.8" stop-color="#a4602e" stop-opacity="0.7"/><stop offset="1" stop-color="#c07848" stop-opacity="0"/></radialGradient></defs><rect x="26.3" y="11.0" width="69.5" height="69.5" fill="url(#skinputb)"/><rect x="26.3" y="11.0" width="69.5" height="69.5" fill="url(#skinput)"/><path d="M56.3 13.0 q3 20 -4 40 M66.3 14.0 q-2 18 3 30 M44.3 31.0 q8 10 6 30" stroke="#c99080" stroke-width="0.5" fill="none" opacity="0.6"/><defs><radialGradient id="skinputp" cx="0.55" cy="0.55" r="0.55"><stop offset="0" stop-color="#3d2096"/><stop offset="0.6" stop-color="#4f2ca8"/><stop offset="1" stop-color="#6a48b4"/></radialGradient></defs><ellipse cx="64.8" cy="52.5" rx="13" ry="16" fill="url(#skinputl)"/><ellipse cx="64.3" cy="51.0" rx="6" ry="8" fill="#5a2a12" opacity="0.55"/></svg></div>
<div class="abs" style="left:1000.50px;width:200px;top:805.45px;font-size:16px;line-height:20px;text-align:center;color:#000;letter-spacing:0.2px">input</div><div class="abs" style="left:1000.50px;width:200px;top:825.35px;font-size:16px;line-height:20px;text-align:center;color:#000;letter-spacing:0.2px">(preview).png</div>
<div class="abs card" style="left:33px;top:884.6px;width:120px;height:90.6px"><svg width="120" height="90.6" viewBox="0 0 120 90.6"><rect width="120" height="90.6" fill="#fff"/><text x="60" y="8.6" font-size="3.6" text-anchor="middle" fill="#222" font-family="Liberation Sans, sans-serif">label</text><rect x="26.3" y="11.2" width="69.5" height="69.5" fill="#000"/><path transform="translate(26.3,11.2)" d="M30 33 C30 29.5 34 28.4 38.5 28.4 C43 28.4 45.5 29 46.5 32 C47.5 35 48 38 49.5 41 C50.5 43.5 50 47 48.5 49.5 L46 50.5 L45 52 L42.5 51 L40 53.2 L37.5 51.5 L35 52.5 C32 49 30 46 29 42 C28.4 39 28.6 36 30 33 Z" fill="#fff"/></svg></div>
<div class="abs" style="left:-4.00px;width:200px;top:983.95px;font-size:16px;line-height:20px;text-align:center;color:#000;letter-spacing:0.2px">label</div><div class="abs" style="left:-4.00px;width:200px;top:1003.85px;font-size:16px;line-height:20px;text-align:center;color:#000;letter-spacing:0.2px">(preview).png</div>
<div class="abs card" style="left:176.5px;top:884.6px;width:120px;height:90.6px"><svg width="120" height="90.6" viewBox="0 0 120 90.6"><rect width="120" height="90.6" fill="#fff"/><text x="60" y="9.2" font-size="4.2" text-anchor="middle" fill="#222" font-family="Liberation Sans, sans-serif">Learning rate over Epoch</text><line x1="19.10" y1="11.4" x2="19.10" y2="80.3" stroke="#dcdcdc" stroke-width="0.45"/><line x1="19.10" y1="80.3" x2="19.10" y2="81.5" stroke="#555" stroke-width="0.35"/><line x1="39.15" y1="11.4" x2="39.15" y2="80.3" stroke="#dcdcdc" stroke-width="0.45"/><line x1="39.15" y1="80.3" x2="39.15" y2="81.5" stroke="#555" stroke-width="0.35"/><line x1="59.20" y1="11.4" x2="59.20" y2="80.3" stroke="#dcdcdc" stroke-width="0.45"/><line x1="59.20" y1="80.3" x2="59.20" y2="81.5" stroke="#555" stroke-width="0.35"/><line x1="79.25" y1="11.4" x2="79.25" y2="80.3" stroke="#dcdcdc" stroke-width="0.45"/><line x1="79.25" y1="80.3" x2="79.25" y2="81.5" stroke="#555" stroke-width="0.35"/><line x1="99.30" y1="11.4" x2="99.30" y2="80.3" stroke="#dcdcdc" stroke-width="0.45"/><line x1="99.30" y1="80.3" x2="99.30" y2="81.5" stroke="#555" stroke-width="0.35"/><text x="19.10" y="84.4" font-size="2.8" text-anchor="middle" fill="#444" font-family="Liberation Sans, sans-serif">0</text><text x="39.15" y="84.4" font-size="2.8" text-anchor="middle" fill="#444" font-family="Liberation Sans, sans-serif">10</text><text x="59.20" y="84.4" font-size="2.8" text-anchor="middle" fill="#444" font-family="Liberation Sans, sans-serif">20</text><text x="79.25" y="84.4" font-size="2.8" text-anchor="middle" fill="#444" font-family="Liberation Sans, sans-serif">30</text><text x="99.30" y="84.4" font-size="2.8" text-anchor="middle" fill="#444" font-family="Liberation Sans, sans-serif">40</text><text x="60.9" y="88.3" font-size="3" text-anchor="middle" fill="#444" font-family="Liberation Sans, sans-serif">Epoch</text><line x1="14.2" y1="15.40" x2="107.6" y2="15.40" stroke="#dcdcdc" stroke-width="0.45"/><line x1="13.0" y1="15.40" x2="14.2" y2="15.40" stroke="#555" stroke-width="0.35"/><text x="12.399999999999999" y="16.30" font-size="2.6" text-anchor="end" fill="#555" font-family="Liberation Sans, sans-serif">0.30</text><line x1="14.2" y1="24.10" x2="107.6" y2="24.10" stroke="#dcdcdc" stroke-width="0.45"/><line x1="13.0" y1="24.10" x2="14.2" y2="24.10" stroke="#555" stroke-width="0.35"/><text x="12.399999999999999" y="25.00" font-size="2.6" text-anchor="end" fill="#555" font-family="Liberation Sans, sans-serif">0.28</text><line x1="14.2" y1="32.80" x2="107.6" y2="32.80" stroke="#dcdcdc" stroke-width="0.45"/><line x1="13.0" y1="32.80" x2="14.2" y2="32.80" stroke="#555" stroke-width="0.35"/><text x="12.399999999999999" y="33.70" font-size="2.6" text-anchor="end" fill="#555" font-family="Liberation Sans, sans-serif">0.26</text><line x1="14.2" y1="41.50" x2="107.6" y2="41.50" stroke="#dcdcdc" stroke-width="0.45"/><line x1="13.0" y1="41.50" x2="14.2" y2="41.50" stroke="#555" stroke-width="0.35"/><text x="12.399999999999999" y="42.40" font-size="2.6" text-anchor="end" fill="#555" font-family="Liberation Sans, sans-serif">0.24</text><line x1="14.2" y1="50.20" x2="107.6" y2="50.20" stroke="#dcdcdc" stroke-width="0.45"/><line x1="13.0" y1="50.20" x2="14.2" y2="50.20" stroke="#555" stroke-width="0.35"/><text x="12.399999999999999" y="51.10" font-size="2.6" text-anchor="end" fill="#555" font-family="Liberation Sans, sans-serif">0.22</text><line x1="14.2" y1="58.90" x2="107.6" y2="58.90" stroke="#dcdcdc" stroke-width="0.45"/><line x1="13.0" y1="58.90" x2="14.2" y2="58.90" stroke="#555" stroke-width="0.35"/><text x="12.399999999999999" y="59.80" font-size="2.6" text-anchor="end" fill="#555" font-family="Liberation Sans, sans-serif">0.20</text><line x1="14.2" y1="67.60" x2="107.6" y2="67.60" stroke="#dcdcdc" stroke-width="0.45"/><line x1="13.0" y1="67.60" x2="14.2" y2="67.60" stroke="#555" stroke-width="0.35"/><text x="12.399999999999999" y="68.50" font-size="2.6" text-anchor="end" fill="#555" font-family="Liberation Sans, sans-serif">0.18</text><line x1="14.2" y1="76.30" x2="107.6" y2="76.30" stroke="#dcdcdc" stroke-width="0.45"/><line x1="13.0" y1="76.30" x2="14.2" y2="76.30" stroke="#555" stroke-width="0.35"/><text x="12.399999999999999" y="77.20" font-size="2.6" text-anchor="end" fill="#555" font-family="Liberation Sans, sans-serif">0.16</text><rect x="14.2" y="11.4" width="93.39999999999999" height="68.89999999999999" fill="none" stroke="#777" stroke-width="0.4"/><text transform="translate(3.6999999999999993,45.85) rotate(-90)" font-size="2.8" text-anchor="middle" fill="#444" font-family="Liberation Sans, sans-serif">value</text><polyline points="19.10,13.50 20.10,14.26 21.11,15.01 22.11,15.77 23.11,16.52 24.11,17.28 25.12,18.04 26.12,18.79 27.12,19.55 28.12,20.30 29.12,21.06 30.13,21.82 31.13,22.57 32.13,23.33 33.14,24.08 34.14,24.84 35.14,25.60 36.14,26.35 37.14,27.11 38.15,27.86 39.15,28.62 40.15,29.38 41.16,30.13 42.16,30.89 43.16,31.64 44.16,32.40 45.16,33.15 46.17,33.91 47.17,34.67 48.17,35.42 49.17,36.18 50.18,36.93 51.18,37.69 52.18,38.45 53.19,39.20 54.19,39.96 55.19,40.71 56.19,41.47 57.20,42.23 58.20,42.98 59.20,43.74 60.20,44.49 61.20,45.25 62.21,46.01 63.21,46.76 64.21,47.52 65.22,48.27 66.22,49.03 67.22,49.79 68.22,50.54 69.22,51.30 70.23,52.05 71.23,52.81 72.23,53.57 73.23,54.32 74.24,55.08 75.24,55.83 76.24,56.59 77.25,57.35 78.25,58.10 79.25,58.86 80.25,59.61 81.25,60.37 82.26,61.12 83.26,61.88 84.26,62.64 85.26,63.39 86.27,64.15 87.27,64.90 88.27,65.66 89.28,66.42 90.28,67.17 91.28,67.93 92.28,68.68 93.28,69.44 94.29,70.20 95.29,70.95 96.29,71.71 97.29,72.46 98.30,73.22 99.30,73.98 100.30,74.73 101.31,75.49 102.31,76.24 103.31,77.00" fill="none" stroke="#5b9bd0" stroke-width="0.65" stroke-linejoin="round"/></svg></div>
<div class="abs" style="left:139.50px;width:200px;top:983.95px;font-size:16px;line-height:20px;text-align:center;color:#000;letter-spacing:0.2px">learning rate.png</div>
<div class="abs card" style="left:320px;top:884.6px;width:120px;height:90.6px"><svg width="120" height="90.6" viewBox="0 0 120 90.6"><rect width="120" height="90.6" fill="#fff"/><text x="60" y="8.6" font-size="3.6" text-anchor="middle" fill="#222" font-family="Liberation Sans, sans-serif">prediction</text><rect x="26.3" y="11.2" width="69.5" height="69.5" fill="#000"/><defs><filter id="bl"><feGaussianBlur stdDeviation="0.4"/></filter></defs><path d="M52.8 46.2 C52.3 39.2 56.3 35.2 59.3 33.2 L61.3 29.2 L63.3 32.2 L65.3 31.2 C70.3 37.2 75.3 42.2 75.3 50.2 C75.3 58.2 71.3 65.2 65.3 67.2 C59.3 68.2 54.3 61.2 53.3 54.2 Z" fill="#fff" filter="url(#bl)"/></svg></div>
<div class="abs" style="left:283.00px;width:200px;top:983.95px;font-size:16px;line-height:20px;text-align:center;color:#000;letter-spacing:0.2px">prediction</div><div class="abs" style="left:283.00px;width:200px;top:1003.85px;font-size:16px;line-height:20px;text-align:center;color:#000;letter-spacing:0.2px">(preview).png</div>
<div class="abs card" style="left:463.5px;top:884.6px;width:120px;height:90.6px"><svg width="120" height="90.6" viewBox="0 0 120 90.6"><rect width="120" height="90.6" fill="#fff"/><text x="60" y="9.2" font-size="4.2" text-anchor="middle" fill="#222" font-family="Liberation Sans, sans-serif">Progress</text><line x1="19.10" y1="11.4" x2="19.10" y2="80.3" stroke="#dcdcdc" stroke-width="0.45"/><line x1="19.10" y1="80.3" x2="19.10" y2="81.5" stroke="#555" stroke-width="0.35"/><line x1="39.15" y1="11.4" x2="39.15" y2="80.3" stroke="#dcdcdc" stroke-width="0.45"/><line x1="39.15" y1="80.3" x2="39.15" y2="81.5" stroke="#555" stroke-width="0.35"/><line x1="59.20" y1="11.4" x2="59.20" y2="80.3" stroke="#dcdcdc" stroke-width="0.45"/><line x1="59.20" y1="80.3" x2="59.20" y2="81.5" stroke="#555" stroke-width="0.35"/><line x1="79.25" y1="11.4" x2="79.25" y2="80.3" stroke="#dcdcdc" stroke-width="0.45"/><line x1="79.25" y1="80.3" x2="79.25" y2="81.5" stroke="#555" stroke-width="0.35"/><line x1="99.30" y1="11.4" x2="99.30" y2="80.3" stroke="#dcdcdc" stroke-width="0.45"/><line x1="99.30" y1="80.3" x2="99.30" y2="81.5" stroke="#555" stroke-width="0.35"/><text x="19.10" y="84.4" font-size="2.8" text-anchor="middle" fill="#444" font-family="Liberation Sans, sans-serif">0</text><text x="39.15" y="84.4" font-size="2.8" text-anchor="middle" fill="#444" font-family="Liberation Sans, sans-serif">10</text><text x="59.20" y="84.4" font-size="2.8" text-anchor="middle" fill="#444" font-family="Liberation Sans, sans-serif">20</text><text x="79.25" y="84.4" font-size="2.8" text-anchor="middle" fill="#444" font-family="Liberation Sans, sans-serif">30</text><text x="99.30" y="84.4" font-size="2.8" text-anchor="middle" fill="#444" font-family="Liberation Sans, sans-serif">40</text><text x="60.9" y="88.3" font-size="3" text-anchor="middle" fill="#444" font-family="Liberation Sans, sans-serif">Epoch</text><line x1="14.2" y1="15.40" x2="107.6" y2="15.40" stroke="#dcdcdc" stroke-width="0.45"/><line x1="13.0" y1="15.40" x2="14.2" y2="15.40" stroke="#555" stroke-width="0.35"/><text x="12.399999999999999" y="16.30" font-size="2.6" text-anchor="end" fill="#555" font-family="Liberation Sans, sans-serif">0.30</text><line x1="14.2" y1="30.62" x2="107.6" y2="30.62" stroke="#dcdcdc" stroke-width="0.45"/><line x1="13.0" y1="30.62" x2="14.2" y2="30.62" stroke="#555" stroke-width="0.35"/><text x="12.399999999999999" y="31.52" font-size="2.6" text-anchor="end" fill="#555" font-family="Liberation Sans, sans-serif">0.28</text><line x1="14.2" y1="45.85" x2="107.6" y2="45.85" stroke="#dcdcdc" stroke-width="0.45"/><line x1="13.0" y1="45.85" x2="14.2" y2="45.85" stroke="#555" stroke-width="0.35"/><text x="12.399999999999999" y="46.75" font-size="2.6" text-anchor="end" fill="#555" font-family="Liberation Sans, sans-serif">0.26</text><line x1="14.2" y1="61.07" x2="107.6" y2="61.07" stroke="#dcdcdc" stroke-width="0.45"/><line x1="13.0" y1="61.07" x2="14.2" y2="61.07" stroke="#555" stroke-width="0.35"/><text x="12.399999999999999" y="61.97" font-size="2.6" text-anchor="end" fill="#555" font-family="Liberation Sans, sans-serif">0.24</text><line x1="14.2" y1="76.30" x2="107.6" y2="76.30" stroke="#dcdcdc" stroke-width="0.45"/><line x1="13.0" y1="76.30" x2="14.2" y2="76.30" stroke="#555" stroke-width="0.35"/><text x="12.399999999999999" y="77.20" font-size="2.6" text-anchor="end" fill="#555" font-family="Liberation Sans, sans-serif">0.22</text><rect x="14.2" y="11.4" width="93.39999999999999" height="68.89999999999999" fill="none" stroke="#777" stroke-width="0.4"/><text transform="translate(3.6999999999999993,45.85) rotate(-90)" font-size="2.8" text-anchor="middle" fill="#444" font-family="Liberation Sans, sans-serif">value</text><polyline points="19.10,13.80 20.10,21.55 21.11,26.11 22.11,28.84 23.11,30.52 24.11,31.40 25.12,32.79 26.12,33.63 27.12,32.53 28.12,34.17 29.12,34.15 30.13,33.95 31.13,35.10 32.13,33.64 33.14,34.25 34.14,34.99 35.14,36.00 36.14,34.50 37.14,35.77 38.15,35.95 39.15,36.52 40.15,35.81 41.16,36.75 42.16,35.50 43.16,36.72 44.16,36.37 45.16,36.96 46.17,37.60 47.17,36.13 48.17,37.11 49.17,36.53 50.18,37.33 51.18,36.42 52.18,36.86 53.19,36.70 54.19,36.78 55.19,38.05 56.19,37.23 57.20,37.28 58.20,38.58 59.20,37.53 60.20,38.49 61.20,38.88 62.21,38.43 63.21,38.74 64.21,37.87 65.22,38.46 66.22,38.79 67.22,38.23 68.22,38.27 69.22,38.31 70.23,38.32 71.23,39.54 72.23,38.55 73.23,38.10 74.24,38.20 75.24,38.67 76.24,39.90 77.25,40.20 78.25,39.16 79.25,38.62 80.25,39.11 81.25,39.71 82.26,38.52 83.26,39.23 84.26,40.01 85.26,39.44 86.27,38.81 87.27,40.61 88.27,39.69 89.28,38.74 90.28,38.99 91.28,39.37 92.28,40.63 93.28,40.57 94.29,39.85 95.29,40.12 96.29,40.40 97.29,40.17 98.30,40.09 99.30,39.56 100.30,40.78 101.31,39.23 102.31,39.29 103.31,39.40 104.31,39.48" fill="none" stroke="#5b9bd0" stroke-width="0.65" stroke-linejoin="round"/><polyline points="19.10,76.50 20.10,70.73 21.11,67.21 22.11,65.05 23.11,63.72 24.11,63.11 25.12,62.28 26.12,62.19 27.12,61.56 28.12,61.84 29.12,61.32 30.13,61.37 31.13,61.32 32.13,61.25 33.14,61.33 34.14,61.45 35.14,61.03 36.14,61.29 37.14,60.88 38.15,61.07 39.15,61.08 40.15,60.99 41.16,61.02 42.16,60.74 43.16,60.59 44.16,60.94 45.16,60.52 46.17,60.92 47.17,60.44 48.17,60.53 49.17,60.39 50.18,60.79 51.18,60.86 52.18,60.36 53.19,60.71 54.19,60.62 55.19,60.58 56.19,60.27 57.20,60.62 58.20,60.47 59.20,60.44 60.20,60.14 61.20,60.66 62.21,60.37 63.21,60.06 64.21,60.38 65.22,60.18 66.22,60.14 67.22,60.40 68.22,60.35 69.22,60.27 70.23,60.34 71.23,60.41 72.23,60.26 73.23,59.88 74.24,59.83 75.24,60.12 76.24,60.34 77.25,60.38 78.25,60.05 79.25,59.80 80.25,59.90 81.25,59.90 82.26,60.11 83.26,60.14 84.26,59.78 85.26,60.20 86.27,60.05 87.27,60.03 88.27,60.08 89.28,60.06 90.28,59.72 91.28,59.89 92.28,60.19 93.28,59.69 94.29,59.74 95.29,59.70 96.29,59.83 97.29,59.68 98.30,60.03 99.30,60.10 100.30,59.60 101.31,59.58 102.31,60.10 103.31,60.08 104.31,59.58" fill="none" stroke="#f5a060" stroke-width="0.65" stroke-linejoin="round"/><rect x="77.7" y="12.4" width="27.7" height="8" fill="#fff" stroke="#ddd" stroke-width="0.3"/><line x1="79" y1="14.6" x2="82.5" y2="14.6" stroke="#5b9bd0" stroke-width="0.7"/><text x="83.5" y="15.5" font-size="2.4" fill="#444" font-family="Liberation Sans, sans-serif">Combined loss</text><line x1="79" y1="18.3" x2="82.5" y2="18.3" stroke="#f5a060" stroke-width="0.7"/><text x="83.5" y="19.2" font-size="2.4" fill="#444" font-family="Liberation Sans, sans-serif">Val score</text></svg></div>
<div class="abs" style="left:426.50px;width:200px;top:983.95px;font-size:16px;line-height:20px;text-align:center;color:#000;letter-spacing:0.2px">progress.png</div>
<div class="abs card" style="left:607px;top:884.6px;width:120px;height:90.6px"><svg width="120" height="90.6" viewBox="0 0 120 90.6"><rect width="120" height="90.6" fill="#fff"/><text x="60" y="9.2" font-size="4.2" text-anchor="middle" fill="#222" font-family="Liberation Sans, sans-serif">Soft dice over Epoch</text><line x1="19.10" y1="11.4" x2="19.10" y2="80.3" stroke="#dcdcdc" stroke-width="0.45"/><line x1="19.10" y1="80.3" x2="19.10" y2="81.5" stroke="#555" stroke-width="0.35"/><line x1="39.15" y1="11.4" x2="39.15" y2="80.3" stroke="#dcdcdc" stroke-width="0.45"/><line x1="39.15" y1="80.3" x2="39.15" y2="81.5" stroke="#555" stroke-width="0.35"/><line x1="59.20" y1="11.4" x2="59.20" y2="80.3" stroke="#dcdcdc" stroke-width="0.45"/><line x1="59.20" y1="80.3" x2="59.20" y2="81.5" stroke="#555" stroke-width="0.35"/><line x1="79.25" y1="11.4" x2="79.25" y2="80.3" stroke="#dcdcdc" stroke-width="0.45"/><line x1="79.25" y1="80.3" x2="79.25" y2="81.5" stroke="#555" stroke-width="0.35"/><line x1="99.30" y1="11.4" x2="99.30" y2="80.3" stroke="#dcdcdc" stroke-width="0.45"/><line x1="99.30" y1="80.3" x2="99.30" y2="81.5" stroke="#555" stroke-width="0.35"/><text x="19.10" y="84.4" font-size="2.8" text-anchor="middle" fill="#444" font-family="Liberation Sans, sans-serif">0</text><text x="39.15" y="84.4" font-size="2.8" text-anchor="middle" fill="#444" font-family="Liberation Sans, sans-serif">10</text><text x="59.20" y="84.4" font-size="2.8" text-anchor="middle" fill="#444" font-family="Liberation Sans, sans-serif">20</text><text x="79.25" y="84.4" font-size="2.8" text-anchor="middle" fill="#444" font-family="Liberation Sans, sans-serif">30</text><text x="99.30" y="84.4" font-size="2.8" text-anchor="middle" fill="#444" font-family="Liberation Sans, sans-serif">40</text><text x="60.9" y="88.3" font-size="3" text-anchor="middle" fill="#444" font-family="Liberation Sans, sans-serif">Epoch</text><line x1="14.2" y1="15.40" x2="107.6" y2="15.40" stroke="#dcdcdc" stroke-width="0.45"/><line x1="13.0" y1="15.40" x2="14.2" y2="15.40" stroke="#555" stroke-width="0.35"/><text x="12.399999999999999" y="16.30" font-size="2.6" text-anchor="end" fill="#555" font-family="Liberation Sans, sans-serif">0.30</text><line x1="14.2" y1="27.58" x2="107.6" y2="27.58" stroke="#dcdcdc" stroke-width="0.45"/><line x1="13.0" y1="27.58" x2="14.2" y2="27.58" stroke="#555" stroke-width="0.35"/><text x="12.399999999999999" y="28.48" font-size="2.6" text-anchor="end" fill="#555" font-family="Liberation Sans, sans-serif">0.28</text><line x1="14.2" y1="39.76" x2="107.6" y2="39.76" stroke="#dcdcdc" stroke-width="0.45"/><line x1="13.0" y1="39.76" x2="14.2" y2="39.76" stroke="#555" stroke-width="0.35"/><text x="12.399999999999999" y="40.66" font-size="2.6" text-anchor="end" fill="#555" font-family="Liberation Sans, sans-serif">0.26</text><line x1="14.2" y1="51.94" x2="107.6" y2="51.94" stroke="#dcdcdc" stroke-width="0.45"/><line x1="13.0" y1="51.94" x2="14.2" y2="51.94" stroke="#555" stroke-width="0.35"/><text x="12.399999999999999" y="52.84" font-size="2.6" text-anchor="end" fill="#555" font-family="Liberation Sans, sans-serif">0.24</text><line x1="14.2" y1="64.12" x2="107.6" y2="64.12" stroke="#dcdcdc" stroke-width="0.45"/><line x1="13.0" y1="64.12" x2="14.2" y2="64.12" stroke="#555" stroke-width="0.35"/><text x="12.399999999999999" y="65.02" font-size="2.6" text-anchor="end" fill="#555" font-family="Liberation Sans, sans-serif">0.22</text><line x1="14.2" y1="76.30" x2="107.6" y2="76.30" stroke="#dcdcdc" stroke-width="0.45"/><line x1="13.0" y1="76.30" x2="14.2" y2="76.30" stroke="#555" stroke-width="0.35"/><text x="12.399999999999999" y="77.20" font-size="2.6" text-anchor="end" fill="#555" font-family="Liberation Sans, sans-serif">0.20</text><rect x="14.2" y="11.4" width="93.39999999999999" height="68.89999999999999" fill="none" stroke="#777" stroke-width="0.4"/><text transform="translate(3.6999999999999993,45.85) rotate(-90)" font-size="2.8" text-anchor="middle" fill="#444" font-family="Liberation Sans, sans-serif">value</text><polyline points="19.10,77.30 20.10,48.68 21.11,36.83 22.11,31.76 23.11,29.42 24.11,27.09 25.12,27.88 26.12,27.01 27.12,25.98 28.12,25.33 29.12,26.60 30.13,24.25 31.13,24.29 32.13,23.82 33.14,22.95 34.14,24.81 35.14,23.45 36.14,23.00 37.14,22.88 38.15,22.03 39.15,21.45 40.15,21.17 41.16,22.72 42.16,20.11 43.16,20.80 44.16,20.03 45.16,20.34 46.17,19.82 47.17,20.28 48.17,19.58 49.17,20.33 50.18,20.52 51.18,18.95 52.18,18.97 53.19,17.70 54.19,19.84 55.19,18.66 56.19,19.28 57.20,17.19 58.20,18.66 59.20,16.55 60.20,18.21 61.20,16.57 62.21,17.10 63.21,17.79 64.21,18.37 65.22,17.22 66.22,16.99 67.22,16.21 68.22,17.76 69.22,16.59 70.23,15.38 71.23,16.14 72.23,16.27 73.23,17.21 74.24,16.17 75.24,16.47 76.24,15.34 77.25,16.50 78.25,16.48 79.25,16.39 80.25,15.84 81.25,15.26 82.26,15.38 83.26,14.21 84.26,15.97 85.26,16.29 86.27,14.76 87.27,13.79 88.27,15.22 89.28,14.86 90.28,15.60 91.28,13.97 92.28,15.36 93.28,15.74 94.29,14.70 95.29,14.43 96.29,14.89 97.29,13.49 98.30,13.54 99.30,14.12 100.30,13.58 101.31,14.22 102.31,13.33 103.31,13.44 104.31,16.67" fill="none" stroke="#5b9bd0" stroke-width="0.65" stroke-linejoin="round"/></svg></div>
<div class="abs" style="left:570.00px;width:200px;top:983.95px;font-size:16px;line-height:20px;text-align:center;color:#000;letter-spacing:0.2px">soft dice.png</div>
<div class="abs card" style="left:750.5px;top:884.6px;width:120px;height:90.6px"><svg width="120" height="90.6" viewBox="0 0 120 90.6"><rect width="120" height="90.6" fill="#fff"/><text x="60" y="9.2" font-size="4.2" text-anchor="middle" fill="#222" font-family="Liberation Sans, sans-serif">Val score over Epoch</text><line x1="19.10" y1="11.4" x2="19.10" y2="80.3" stroke="#dcdcdc" stroke-width="0.45"/><line x1="19.10" y1="80.3" x2="19.10" y2="81.5" stroke="#555" stroke-width="0.35"/><line x1="39.15" y1="11.4" x2="39.15" y2="80.3" stroke="#dcdcdc" stroke-width="0.45"/><line x1="39.15" y1="80.3" x2="39.15" y2="81.5" stroke="#555" stroke-width="0.35"/><line x1="59.20" y1="11.4" x2="59.20" y2="80.3" stroke="#dcdcdc" stroke-width="0.45"/><line x1="59.20" y1="80.3" x2="59.20" y2="81.5" stroke="#555" stroke-width="0.35"/><line x1="79.25" y1="11.4" x2="79.25" y2="80.3" stroke="#dcdcdc" stroke-width="0.45"/><line x1="79.25" y1="80.3" x2="79.25" y2="81.5" stroke="#555" stroke-width="0.35"/><line x1="99.30" y1="11.4" x2="99.30" y2="80.3" stroke="#dcdcdc" stroke-width="0.45"/><line x1="99.30" y1="80.3" x2="99.30" y2="81.5" stroke="#555" stroke-width="0.35"/><text x="19.10" y="84.4" font-size="2.8" text-anchor="middle" fill="#444" font-family="Liberation Sans, sans-serif">0</text><text x="39.15" y="84.4" font-size="2.8" text-anchor="middle" fill="#444" font-family="Liberation Sans, sans-serif">10</text><text x="59.20" y="84.4" font-size="2.8" text-anchor="middle" fill="#444" font-family="Liberation Sans, sans-serif">20</text><text x="79.25" y="84.4" font-size="2.8" text-anchor="middle" fill="#444" font-family="Liberation Sans, sans-serif">30</text><text x="99.30" y="84.4" font-size="2.8" text-anchor="middle" fill="#444" font-family="Liberation Sans, sans-serif">40</text><text x="60.9" y="88.3" font-size="3" text-anchor="middle" fill="#444" font-family="Liberation Sans, sans-serif">Epoch</text><line x1="14.2" y1="15.40" x2="107.6" y2="15.40" stroke="#dcdcdc" stroke-width="0.45"/><line x1="13.0" y1="15.40" x2="14.2" y2="15.40" stroke="#555" stroke-width="0.35"/><text x="12.399999999999999" y="16.30" font-size="2.6" text-anchor="end" fill="#555" font-family="Liberation Sans, sans-serif">0.30</text><line x1="14.2" y1="27.58" x2="107.6" y2="27.58" stroke="#dcdcdc" stroke-width="0.45"/><line x1="13.0" y1="27.58" x2="14.2" y2="27.58" stroke="#555" stroke-width="0.35"/><text x="12.399999999999999" y="28.48" font-size="2.6" text-anchor="end" fill="#555" font-family="Liberation Sans, sans-serif">0.28</text><line x1="14.2" y1="39.76" x2="107.6" y2="39.76" stroke="#dcdcdc" stroke-width="0.45"/><line x1="13.0" y1="39.76" x2="14.2" y2="39.76" stroke="#555" stroke-width="0.35"/><text x="12.399999999999999" y="40.66" font-size="2.6" text-anchor="end" fill="#555" font-family="Liberation Sans, sans-serif">0.26</text><line x1="14.2" y1="51.94" x2="107.6" y2="51.94" stroke="#dcdcdc" stroke-width="0.45"/><line x1="13.0" y1="51.94" x2="14.2" y2="51.94" stroke="#555" stroke-width="0.35"/><text x="12.399999999999999" y="52.84" font-size="2.6" text-anchor="end" fill="#555" font-family="Liberation Sans, sans-serif">0.24</text><line x1="14.2" y1="64.12" x2="107.6" y2="64.12" stroke="#dcdcdc" stroke-width="0.45"/><line x1="13.0" y1="64.12" x2="14.2" y2="64.12" stroke="#555" stroke-width="0.35"/><text x="12.399999999999999" y="65.02" font-size="2.6" text-anchor="end" fill="#555" font-family="Liberation Sans, sans-serif">0.22</text><line x1="14.2" y1="76.30" x2="107.6" y2="76.30" stroke="#dcdcdc" stroke-width="0.45"/><line x1="13.0" y1="76.30" x2="14.2" y2="76.30" stroke="#555" stroke-width="0.35"/><text x="12.399999999999999" y="77.20" font-size="2.6" text-anchor="end" fill="#555" font-family="Liberation Sans, sans-serif">0.20</text><rect x="14.2" y="11.4" width="93.39999999999999" height="68.89999999999999" fill="none" stroke="#777" stroke-width="0.4"/><text transform="translate(3.6999999999999993,45.85) rotate(-90)" font-size="2.8" text-anchor="middle" fill="#444" font-family="Liberation Sans, sans-serif">value</text><polyline points="19.10,77.30 20.10,56.39 21.11,43.55 22.11,35.61 23.11,30.65 24.11,27.50 25.12,25.46 26.12,24.15 27.12,22.79 28.12,22.38 29.12,21.98 30.13,21.61 31.13,20.98 32.13,20.54 33.14,20.59 34.14,20.00 35.14,20.25 36.14,19.70 37.14,19.24 38.15,19.13 39.15,19.10 40.15,18.97 41.16,18.70 42.16,18.58 43.16,18.11 44.16,18.17 45.16,17.76 46.17,17.69 47.17,17.94 48.17,17.85 49.17,17.56 50.18,17.24 51.18,17.48 52.18,16.90 53.19,16.98 54.19,17.03 55.19,16.60 56.19,16.97 57.20,16.85 58.20,16.78 59.20,16.46 60.20,16.39 61.20,16.56 62.21,15.97 63.21,16.31 64.21,16.14 65.22,16.12 66.22,16.13 67.22,15.48 68.22,15.48 69.22,15.67 70.23,15.72 71.23,15.60 72.23,15.56 73.23,15.64 74.24,15.45 75.24,15.27 76.24,15.57 77.25,15.53 78.25,15.07 79.25,15.15 80.25,15.34 81.25,15.34 82.26,15.04 83.26,15.21 84.26,14.69 85.26,15.14 86.27,14.92 87.27,14.67 88.27,15.22 89.28,14.93 90.28,15.07 91.28,14.71 92.28,15.03 93.28,14.93 94.29,14.94 95.29,14.49 96.29,14.59 97.29,14.66 98.30,14.71 99.30,14.73 100.30,14.45 101.31,14.58 102.31,14.88 103.31,14.68 104.31,14.85" fill="none" stroke="#5b9bd0" stroke-width="0.65" stroke-linejoin="round"/></svg></div>
<div class="abs" style="left:713.50px;width:200px;top:983.95px;font-size:16px;line-height:20px;text-align:center;color:#000;letter-spacing:0.2px">val score.png</div>
<svg class="abs" style="left:913.4px;top:860.7px" width="85.4" height="113.2"><path d="M0.7 0.7 H60.400000000000006 L84.7 25 V112.5 H0.7 Z" fill="#f9f9f9" stroke="#8c8c8c" stroke-width="1.3"/><path d="M60.400000000000006 0.7 V25 H84.7" fill="#f4f4f4" stroke="#8c8c8c" stroke-width="1.3"/></svg>
<div class="abs" style="left:857.00px;width:200px;top:983.95px;font-size:16px;line-height:20px;text-align:center;color:#000;letter-spacing:0.2px">tracker.pt</div>
<svg class="abs" style="left:1057.1px;top:860.7px" width="85.4" height="113.2"><path d="M0.7 0.7 H60.400000000000006 L84.7 25 V112.5 H0.7 Z" fill="#f9f9f9" stroke="#8c8c8c" stroke-width="1.3"/><path d="M60.400000000000006 0.7 V25 H84.7" fill="#f4f4f4" stroke="#8c8c8c" stroke-width="1.3"/></svg>
<div class="abs" style="left:1000.50px;width:200px;top:983.95px;font-size:16px;line-height:20px;text-align:center;color:#000;letter-spacing:0.2px">checkpoint_0.pth</div>
<div class="abs win" style="left:1208px;top:24.3px;width:676px;height:467.6px"></div>
<div class="abs" style="left:1208px;top:24.3px;width:676px;height:18.7px;background:#efefef;border-radius:5.5px 5.5px 0 0;border-bottom:0.5px solid #e4e4e4"></div>
<div class="abs" style="left:1212.95px;top:29.30px;width:7.7px;height:7.7px;border-radius:50%;background:#fe5f57"></div>
<div class="abs" style="left:1225.75px;top:29.30px;width:7.7px;height:7.7px;border-radius:50%;background:#febc2e"></div>
<div class="abs" style="left:1238.55px;top:29.30px;width:7.7px;height:7.7px;border-radius:50%;background:#28c840"></div>
<svg class="abs" style="left:1480.80px;top:28.55px" width="10" height="9" viewBox="0 0 10 9"><path d="M0.3 1.3 Q0.3 0.5 1.1 0.5 H3.6 L4.6 1.6 H9 Q9.7 1.6 9.7 2.3 V8 Q9.7 8.6 9 8.6 H1 Q0.3 8.6 0.3 8 Z" fill="#5fb6ef"/><rect x="0.3" y="2.6" width="9.4" height="6" rx="0.6" fill="#3fa2ea"/></svg>
<div class="abs" style="left:1493.20px;top:27.65px;font-size:8.9px;line-height:11px;color:#4a4a4a;font-weight:700;white-space:nowrap;letter-spacing:-0.1px">MIPCandy — -zsh — 150×50</div>
<div class="abs" style="left:1208px;top:43.0px;width:676px;height:448.90px;overflow:hidden">
<div class="abs" style="left:-1208px;top:-43.00px;width:1920px;height:1080px">
<div class="abs tl" style="left:1210.50px;top:45.03px;">[<span style="color:#1fb2c9">2025</span>-<span style="color:#1fb2c9">12</span>-<span style="color:#1fb2c9">07</span> <span style="color:#1fd21f">00:51:04</span><span style="color:#1fb2c9">.616683</span>] Training progress recovered from <span style="color:#1fb2c9">20251206</span>-<span style="color:#1fb2c9">16</span>-05f4 from epoch <span style="color:#1fb2c9">2</span></div>
<div class="abs tl" style="left:1210.50px;top:53.97px;">[<span style="color:#1fb2c9">2025</span>-<span style="color:#1fb2c9">12</span>-<span style="color:#1fb2c9">07</span> <span style="color:#1fd21f">00:51:04</span><span style="color:#1fb2c9">.617912</span>] Note: a nnU-Net style example</div>
<div class="abs tl" style="left:1210.50px;top:62.89px;">[<span style="color:#1fb2c9">2025</span>-<span style="color:#1fb2c9">12</span>-<span style="color:#1fb2c9">07</span> <span style="color:#1fd21f">00:51:04</span><span style="color:#1fb2c9">.620289</span>] Set to manual seed <span style="color:#1fb2c9">15</span></div>
<div class="abs tl" style="left:1210.50px;top:71.82px;">[<span style="color:#1fb2c9">2025</span>-<span style="color:#1fb2c9">12</span>-<span style="color:#1fb2c9">07</span> <span style="color:#1fd21f">00:51:04</span><span style="color:#1fb2c9">.643049</span>] Example input shape: (<span style="color:#1fb2c9">3</span>, <span style="color:#1fb2c9">576</span>, <span style="color:#1fb2c9">768</span>)</div>
<div class="abs tl" style="left:1210.50px;top:80.75px;">[<span style="color:#1fb2c9">2025</span>-<span style="color:#1fb2c9">12</span>-<span style="color:#1fb2c9">07</span> <span style="color:#1fd21f">00:51:05</span><span style="color:#1fb2c9">.378876</span>] Model: CMUNeXt</div>
<div class="abs tl" style="left:1210.50px;top:89.69px;">[<span style="color:#1fb2c9">2025</span>-<span style="color:#1fb2c9">12</span>-<span style="color:#1fb2c9">07</span> <span style="color:#1fd21f">00:51:05</span><span style="color:#1fb2c9">.379555</span>] MACs: <span style="color:#1fb2c9">7.3</span> G <span style="color:#d83ad8">/</span> Params: <span style="color:#1fb2c9">0.4</span> M</div>
<div class="abs tl" style="left:1210.50px;top:98.61px;">[<span style="color:#1fb2c9">2025</span>-<span style="color:#1fb2c9">12</span>-<span style="color:#1fb2c9">07</span> <span style="color:#1fd21f">00:51:05</span><span style="color:#1fb2c9">.379841</span>] Example output shape: (<span style="color:#1fb2c9">1</span>, <span style="color:#1fb2c9">576</span>, <span style="color:#1fb2c9">768</span>)</div>
<div class="abs" style="left:1326.46px;top:109.59px;width:178.40px;height:1.7px;background:#96d366"></div>
<div class="abs tl" style="left:1210.50px;top:107.54px;">Training epoch 2 (0.3107)                                          <span style="color:#d83ad8">100%</span> <span style="color:#1fb2c9">0:00:00</span></div>
<div class="abs tl" style="left:1210.50px;top:116.47px;">[<span style="color:#1fb2c9">2025</span>-<span style="color:#1fb2c9">12</span>-<span style="color:#1fb2c9">07</span> <span style="color:#1fd21f">00:53:22</span><span style="color:#1fb2c9">.147650</span>] Training combined loss: <span style="color:#1fb2c9">0.2469</span> @[<span style="color:#1fb2c9">0.2469</span>, <span style="color:#1fb2c9">0.6359</span>] (<span style="color:#1fb2c9">-0.0627</span>)</div>
<div class="abs tl" style="left:1210.50px;top:125.41px;">[<span style="color:#1fb2c9">2025</span>-<span style="color:#1fb2c9">12</span>-<span style="color:#1fb2c9">07</span> <span style="color:#1fd21f">00:53:22</span><span style="color:#1fb2c9">.148782</span>] Training soft dice: <span style="color:#1fb2c9">0.8632</span> @[<span style="color:#1fb2c9">0.6121</span>, <span style="color:#1fb2c9">0.8632</span>] (+<span style="color:#1fb2c9">0.0340</span>)</div>
<div class="abs tl" style="left:1210.50px;top:134.34px;">[<span style="color:#1fb2c9">2025</span>-<span style="color:#1fb2c9">12</span>-<span style="color:#1fb2c9">07</span> <span style="color:#1fd21f">00:53:22</span><span style="color:#1fb2c9">.149032</span>] Training bce loss: <span style="color:#1fb2c9">0.2201</span> @[<span style="color:#1fb2c9">0.2201</span>, <span style="color:#1fb2c9">0.4959</span>] (<span style="color:#1fb2c9">-0.0574</span>)</div>
<div class="abs tl" style="left:1210.50px;top:143.26px;">[<span style="color:#1fb2c9">2025</span>-<span style="color:#1fb2c9">12</span>-<span style="color:#1fb2c9">07</span> <span style="color:#1fd21f">00:53:22</span><span style="color:#1fb2c9">.149250</span>] Training learning rate: <span style="color:#1fb2c9">0.0100</span> @[<span style="color:#1fb2c9">0.0100</span>, <span style="color:#1fb2c9">0.0100</span>] (<span style="color:#1fb2c9">-0.0000</span>)</div>
<div class="abs tl" style="left:1304.16px;top:152.19px;font-style:italic;">Epoch 2 Training</div>
<div class="abs" style="left:1212.93px;top:163.32px;width:259.88px;height:1.4px;background:#3a3a3a"></div>
<div class="abs" style="left:1212.93px;top:181.18px;width:259.88px;height:1.4px;background:#3a3a3a"></div>
<div class="abs" style="left:1213.03px;top:226.03px;width:259.68px;height:1px;background:#3a3a3a"></div>
<div class="abs" style="left:1212.93px;top:164.02px;width:1.2px;height:17.86px;background:#3a3a3a"></div>
<div class="abs" style="left:1213.03px;top:181.88px;width:1px;height:44.65px;background:#3a3a3a"></div>
<div class="abs" style="left:1284.29px;top:164.02px;width:1.2px;height:17.86px;background:#3a3a3a"></div>
<div class="abs" style="left:1284.39px;top:181.88px;width:1px;height:44.65px;background:#3a3a3a"></div>
<div class="abs" style="left:1342.27px;top:164.02px;width:1.2px;height:17.86px;background:#3a3a3a"></div>
<div class="abs" style="left:1342.37px;top:181.88px;width:1px;height:44.65px;background:#3a3a3a"></div>
<div class="abs" style="left:1427.01px;top:164.02px;width:1.2px;height:17.86px;background:#3a3a3a"></div>
<div class="abs" style="left:1427.11px;top:181.88px;width:1px;height:44.65px;background:#3a3a3a"></div>
<div class="abs" style="left:1471.61px;top:164.02px;width:1.2px;height:17.86px;background:#3a3a3a"></div>
<div class="abs" style="left:1471.71px;top:181.88px;width:1px;height:44.65px;background:#3a3a3a"></div>
<div class="abs tl" style="left:1219.42px;top:170.05px;font-weight:bold;">Metric</div>
<div class="abs tl" style="left:1290.78px;top:170.05px;font-weight:bold;">Mean Value</div>
<div class="abs tl" style="left:1348.76px;top:170.05px;font-weight:bold;">Span</div>
<div class="abs tl" style="left:1433.50px;top:170.05px;font-weight:bold;">Diff</div>
<div class="abs tl" style="left:1219.42px;top:187.91px;">combined loss</div>
<div class="abs tl" style="left:1290.78px;top:187.91px;"><span style="color:#2fc42f">0.2469</span></div>
<div class="abs tl" style="left:1348.76px;top:187.91px;"><span style="color:#1fb2c9">[0.2469, 0.6359]</span></div>
<div class="abs tl" style="left:1433.50px;top:187.91px;"><span style="color:#d83ad8">-0.0627</span></div>
<div class="abs tl" style="left:1219.42px;top:196.84px;">soft dice</div>
<div class="abs tl" style="left:1290.78px;top:196.84px;"><span style="color:#2fc42f">0.8632</span></div>
<div class="abs tl" style="left:1348.76px;top:196.84px;"><span style="color:#1fb2c9">[0.6121, 0.8632]</span></div>
<div class="abs tl" style="left:1433.50px;top:196.84px;"><span style="color:#d83ad8">+0.0340</span></div>
<div class="abs tl" style="left:1219.42px;top:205.78px;">bce loss</div>
<div class="abs tl" style="left:1290.78px;top:205.78px;"><span style="color:#2fc42f">0.2201</span></div>
<div class="abs tl" style="left:1348.76px;top:205.78px;"><span style="color:#1fb2c9">[0.2201, 0.4959]</span></div>
<div class="abs tl" style="left:1433.50px;top:205.78px;"><span style="color:#d83ad8">-0.0574</span></div>
<div class="abs tl" style="left:1219.42px;top:214.70px;">learning rate</div>
<div class="abs tl" style="left:1290.78px;top:214.70px;"><span style="color:#2fc42f">0.0100</span></div>
<div class="abs tl" style="left:1348.76px;top:214.70px;"><span style="color:#1fb2c9">[0.0100, 0.0100]</span></div>
<div class="abs tl" style="left:1433.50px;top:214.70px;"><span style="color:#d83ad8">-0.0000</span></div>
<div class="abs tl" style="left:1210.50px;top:232.56px;">[<span style="color:#1fb2c9">2025</span>-<span style="color:#1fb2c9">12</span>-<span style="color:#1fb2c9">07</span> <span style="color:#1fd21f">00:53:22</span><span style="color:#1fb2c9">.154677</span>] Epoch <span style="color:#1fb2c9">2</span> training completed in <span style="color:#1fb2c9">136.8</span> seconds</div>
<div class="abs" style="left:1304.16px;top:243.54px;width:178.40px;height:1.7px;background:#96d366"></div>
<div class="abs tl" style="left:1210.50px;top:241.49px;">Validating (-0.1058)                                          <span style="color:#d83ad8">100%</span> <span style="color:#1fb2c9">0:00:00</span></div>
<div class="abs tl" style="left:1210.50px;top:250.42px;">[<span style="color:#1fb2c9">2025</span>-<span style="color:#1fb2c9">12</span>-<span style="color:#1fb2c9">07</span> <span style="color:#1fd21f">00:53:39</span><span style="color:#1fb2c9">.895065</span>] Validation score: <span style="color:#1fb2c9">-0.2279</span> (+<span style="color:#1fb2c9">0.1167</span>)</div>
<div class="abs tl" style="left:1210.50px;top:259.36px;">[<span style="color:#1fb2c9">2025</span>-<span style="color:#1fb2c9">12</span>-<span style="color:#1fb2c9">07</span> <span style="color:#1fd21f">00:53:39</span><span style="color:#1fb2c9">.896348</span>] Validation soft dice: <span style="color:#1fb2c9">0.8823</span> @[<span style="color:#1fb2c9">0.5823</span>, <span style="color:#1fb2c9">0.9625</span>] (+<span style="color:#1fb2c9">0.0191</span>)</div>
<div class="abs tl" style="left:1210.50px;top:268.29px;">[<span style="color:#1fb2c9">2025</span>-<span style="color:#1fb2c9">12</span>-<span style="color:#1fb2c9">07</span> <span style="color:#1fd21f">00:53:39</span><span style="color:#1fb2c9">.896606</span>] Validation bce loss: <span style="color:#1fb2c9">0.2205</span> @[<span style="color:#1fb2c9">0.0198</span>, <span style="color:#1fb2c9">1.8806</span>] (+<span style="color:#1fb2c9">0.0006</span>)</div>
<div class="abs tl" style="left:1290.78px;top:277.22px;font-style:italic;">Epoch 2 Validation</div>
<div class="abs" style="left:1212.93px;top:288.34px;width:242.04px;height:1.4px;background:#3a3a3a"></div>
<div class="abs" style="left:1212.93px;top:306.20px;width:242.04px;height:1.4px;background:#3a3a3a"></div>
<div class="abs" style="left:1213.03px;top:333.19px;width:241.84px;height:1px;background:#3a3a3a"></div>
<div class="abs" style="left:1212.93px;top:289.04px;width:1.2px;height:17.86px;background:#3a3a3a"></div>
<div class="abs" style="left:1213.03px;top:306.90px;width:1px;height:26.79px;background:#3a3a3a"></div>
<div class="abs" style="left:1266.45px;top:289.04px;width:1.2px;height:17.86px;background:#3a3a3a"></div>
<div class="abs" style="left:1266.55px;top:306.90px;width:1px;height:26.79px;background:#3a3a3a"></div>
<div class="abs" style="left:1324.43px;top:289.04px;width:1.2px;height:17.86px;background:#3a3a3a"></div>
<div class="abs" style="left:1324.53px;top:306.90px;width:1px;height:26.79px;background:#3a3a3a"></div>
<div class="abs" style="left:1409.17px;top:289.04px;width:1.2px;height:17.86px;background:#3a3a3a"></div>
<div class="abs" style="left:1409.27px;top:306.90px;width:1px;height:26.79px;background:#3a3a3a"></div>
<div class="abs" style="left:1453.77px;top:289.04px;width:1.2px;height:17.86px;background:#3a3a3a"></div>
<div class="abs" style="left:1453.87px;top:306.90px;width:1px;height:26.79px;background:#3a3a3a"></div>
<div class="abs tl" style="left:1219.42px;top:295.07px;font-weight:bold;">Metric</div>
<div class="abs tl" style="left:1272.94px;top:295.07px;font-weight:bold;">Mean Value</div>
<div class="abs tl" style="left:1330.92px;top:295.07px;font-weight:bold;">Span</div>
<div class="abs tl" style="left:1415.66px;top:295.07px;font-weight:bold;">Diff</div>
<div class="abs tl" style="left:1219.42px;top:312.94px;">soft dice</div>
<div class="abs tl" style="left:1272.94px;top:312.94px;"><span style="color:#2fc42f">0.8823</span></div>
<div class="abs tl" style="left:1330.92px;top:312.94px;"><span style="color:#1fb2c9">[0.5823, 0.9625]</span></div>
<div class="abs tl" style="left:1415.66px;top:312.94px;"><span style="color:#d83ad8">+0.0191</span></div>
<div class="abs tl" style="left:1219.42px;top:321.87px;">bce loss</div>
<div class="abs tl" style="left:1272.94px;top:321.87px;"><span style="color:#2fc42f">0.2205</span></div>
<div class="abs tl" style="left:1330.92px;top:321.87px;"><span style="color:#1fb2c9">[0.0198, 1.8806]</span></div>
<div class="abs tl" style="left:1415.66px;top:321.87px;"><span style="color:#d83ad8">+0.0006</span></div>
<div class="abs tl" style="left:1210.50px;top:339.73px;">[<span style="color:#1fb2c9">2025</span>-<span style="color:#1fb2c9">12</span>-<span style="color:#1fb2c9">07</span> <span style="color:#1fd21f">00:53:39</span><span style="color:#1fb2c9">.900127</span>] <span style="color:#8a8a8a">========</span> Best checkpoint updated (<span style="color:#1fb2c9">-0.3447</span> -&gt; <span style="color:#1fb2c9">-0.2279</span>) <span style="color:#8a8a8a">========</span></div>
<div class="abs tl" style="left:1210.50px;top:348.66px;">[<span style="color:#1fb2c9">2025</span>-<span style="color:#1fb2c9">12</span>-<span style="color:#1fb2c9">07</span> <span style="color:#1fd21f">00:53:40</span><span style="color:#1fb2c9">.514997</span>] Epoch <span style="color:#1fb2c9">2</span> completed in <span style="color:#1fb2c9">155.1</span> seconds</div>
<div class="abs tl" style="left:1210.50px;top:357.59px;">[<span style="color:#1fb2c9">2025</span>-<span style="color:#1fb2c9">12</span>-<span style="color:#1fb2c9">07</span> <span style="color:#1fd21f">00:53:40</span><span style="color:#1fb2c9">.515307</span>] <span style="color:#8a8a8a">===============</span> Best Validation Score <span style="color:#1fb2c9">-0.2279</span> <span style="color:#8a8a8a">===============</span></div>
<div class="abs" style="left:1326.46px;top:368.56px;width:178.40px;height:1.7px;background:#96d366"></div>
<div class="abs tl" style="left:1210.50px;top:366.52px;">Training epoch 3 (0.0744)                                          <span style="color:#d83ad8">100%</span> <span style="color:#1fb2c9">0:00:00</span></div>
<div class="abs tl" style="left:1210.50px;top:375.44px;">[<span style="color:#1fb2c9">2025</span>-<span style="color:#1fb2c9">12</span>-<span style="color:#1fb2c9">07</span> <span style="color:#1fd21f">00:55:56</span><span style="color:#1fb2c9">.987920</span>] Training combined loss: <span style="color:#1fb2c9">0.2318</span> @[<span style="color:#1fb2c9">0.2318</span>, <span style="color:#1fb2c9">0.6359</span>] (<span style="color:#1fb2c9">-0.0151</span>)</div>
<div class="abs tl" style="left:1210.50px;top:384.38px;">[<span style="color:#1fb2c9">2025</span>-<span style="color:#1fb2c9">12</span>-<span style="color:#1fb2c9">07</span> <span style="color:#1fd21f">00:55:56</span><span style="color:#1fb2c9">.989467</span>] Training soft dice: <span style="color:#1fb2c9">0.8729</span> @[<span style="color:#1fb2c9">0.6121</span>, <span style="color:#1fb2c9">0.8729</span>] (+<span style="color:#1fb2c9">0.0097</span>)</div>
<div class="abs tl" style="left:1210.50px;top:393.31px;">[<span style="color:#1fb2c9">2025</span>-<span style="color:#1fb2c9">12</span>-<span style="color:#1fb2c9">07</span> <span style="color:#1fd21f">00:55:56</span><span style="color:#1fb2c9">.989687</span>] Training bce loss: <span style="color:#1fb2c9">0.2093</span> @[<span style="color:#1fb2c9">0.2093</span>, <span style="color:#1fb2c9">0.4959</span>] (<span style="color:#1fb2c9">-0.0108</span>)</div>
<div class="abs tl" style="left:1210.50px;top:402.24px;">[<span style="color:#1fb2c9">2025</span>-<span style="color:#1fb2c9">12</span>-<span style="color:#1fb2c9">07</span> <span style="color:#1fd21f">00:55:56</span><span style="color:#1fb2c9">.989898</span>] Training learning rate: <span style="color:#1fb2c9">0.0100</span> @[<span style="color:#1fb2c9">0.0100</span>, <span style="color:#1fb2c9">0.0100</span>] (<span style="color:#1fb2c9">-0.0000</span>)</div>
<div class="abs tl" style="left:1304.16px;top:411.17px;font-style:italic;">Epoch 3 Training</div>
<div class="abs" style="left:1212.93px;top:422.29px;width:259.88px;height:1.4px;background:#3a3a3a"></div>
<div class="abs" style="left:1212.93px;top:440.15px;width:259.88px;height:1.4px;background:#3a3a3a"></div>
<div class="abs" style="left:1213.03px;top:485.00px;width:259.68px;height:1px;background:#3a3a3a"></div>
<div class="abs" style="left:1212.93px;top:422.99px;width:1.2px;height:17.86px;background:#3a3a3a"></div>
<div class="abs" style="left:1213.03px;top:440.85px;width:1px;height:44.65px;background:#3a3a3a"></div>
<div class="abs" style="left:1284.29px;top:422.99px;width:1.2px;height:17.86px;background:#3a3a3a"></div>
<div class="abs" style="left:1284.39px;top:440.85px;width:1px;height:44.65px;background:#3a3a3a"></div>
<div class="abs" style="left:1342.27px;top:422.99px;width:1.2px;height:17.86px;background:#3a3a3a"></div>
<div class="abs" style="left:1342.37px;top:440.85px;width:1px;height:44.65px;background:#3a3a3a"></div>
<div class="abs" style="left:1427.01px;top:422.99px;width:1.2px;height:17.86px;background:#3a3a3a"></div>
<div class="abs" style="left:1427.11px;top:440.85px;width:1px;height:44.65px;background:#3a3a3a"></div>
<div class="abs" style="left:1471.61px;top:422.99px;width:1.2px;height:17.86px;background:#3a3a3a"></div>
<div class="abs" style="left:1471.71px;top:440.85px;width:1px;height:44.65px;background:#3a3a3a"></div>
<div class="abs tl" style="left:1219.42px;top:429.03px;font-weight:bold;">Metric</div>
<div class="abs tl" style="left:1290.78px;top:429.03px;font-weight:bold;">Mean Value</div>
<div class="abs tl" style="left:1348.76px;top:429.03px;font-weight:bold;">Span</div>
<div class="abs tl" style="left:1433.50px;top:429.03px;font-weight:bold;">Diff</div>
<div class="abs tl" style="left:1219.42px;top:446.88px;">combined loss</div>
<div class="abs tl" style="left:1290.78px;top:446.88px;"><span style="color:#2fc42f">0.2318</span></div>
<div class="abs tl" style="left:1348.76px;top:446.88px;"><span style="color:#1fb2c9">[0.2318, 0.6359]</span></div>
<div class="abs tl" style="left:1433.50px;top:446.88px;"><span style="color:#d83ad8">-0.0151</span></div>
<div class="abs tl" style="left:1219.42px;top:455.81px;">soft dice</div>
<div class="abs tl" style="left:1290.78px;top:455.81px;"><span style="color:#2fc42f">0.8729</span></div>
<div class="abs tl" style="left:1348.76px;top:455.81px;"><span style="color:#1fb2c9">[0.6121, 0.8729]</span></div>
<div class="abs tl" style="left:1433.50px;top:455.81px;"><span style="color:#d83ad8">+0.0097</span></div>
<div class="abs tl" style="left:1219.42px;top:464.75px;">bce loss</div>
<div class="abs tl" style="left:1290.78px;top:464.75px;"><span style="color:#2fc42f">0.2093</span></div>
<div class="abs tl" style="left:1348.76px;top:464.75px;"><span style="color:#1fb2c9">[0.2093, 0.4959]</span></div>
<div class="abs tl" style="left:1433.50px;top:464.75px;"><span style="color:#d83ad8">-0.0108</span></div>
<div class="abs tl" style="left:1219.42px;top:473.68px;">learning rate</div>
<div class="abs tl" style="left:1290.78px;top:473.68px;"><span style="color:#2fc42f">0.0100</span></div>
<div class="abs tl" style="left:1348.76px;top:473.68px;"><span style="color:#1fb2c9">[0.0100, 0.0100]</span></div>
<div class="abs tl" style="left:1433.50px;top:473.68px;"><span style="color:#d83ad8">-0.0000</span></div>
</div></div>
<div class="abs win" style="left:1208px;top:556.1px;width:676px;height:476.1px"></div>
<div class="abs" style="left:1208px;top:556.1px;width:676px;height:17.3px;background:#efefef;border-radius:5.5px 5.5px 0 0;border-bottom:0.5px solid #e4e4e4"></div>
<div class="abs" style="left:1212.95px;top:560.40px;width:7.7px;height:7.7px;border-radius:50%;background:#fe5f57"></div>
<div class="abs" style="left:1225.75px;top:560.40px;width:7.7px;height:7.7px;border-radius:50%;background:#febc2e"></div>
<div class="abs" style="left:1238.55px;top:560.40px;width:7.7px;height:7.7px;border-radius:50%;background:#28c840"></div>
<svg class="abs" style="left:1480.80px;top:559.65px" width="10" height="9" viewBox="0 0 10 9"><path d="M0.3 1.3 Q0.3 0.5 1.1 0.5 H3.6 L4.6 1.6 H9 Q9.7 1.6 9.7 2.3 V8 Q9.7 8.6 9 8.6 H1 Q0.3 8.6 0.3 8 Z" fill="#5fb6ef"/><rect x="0.3" y="2.6" width="9.4" height="6" rx="0.6" fill="#3fa2ea"/></svg>
<div class="abs" style="left:1493.20px;top:558.75px;font-size:8.9px;line-height:11px;color:#4a4a4a;font-weight:700;white-space:nowrap;letter-spacing:-0.1px">MIPCandy — -zsh — 150×50</div>
<div class="abs" style="left:1208px;top:573.4px;width:676px;height:448.80px;overflow:hidden">
<div class="abs" style="left:-1208px;top:-573.40px;width:1920px;height:1080px">
<div class="abs tl" style="left:1210.50px;top:575.93px;">[<span style="color:#1fb2c9">2025</span>-<span style="color:#1fb2c9">12</span>-<span style="color:#1fb2c9">06</span> <span style="color:#1fd21f">16:47:35</span><span style="color:#1fb2c9">.044660</span>] Experiment (ID <span style="color:#1fb2c9">20251206</span>-<span style="color:#1fb2c9">16</span>-05f4) created at <span style="color:#1fb2c9">2025</span>-<span style="color:#1fb2c9">12</span>-<span style="color:#1fb2c9">06</span> <span style="color:#1fd21f">16:47:35</span><span style="color:#1fb2c9">.044554</span></div>
<div class="abs tl" style="left:1210.50px;top:584.86px;">[<span style="color:#1fb2c9">2025</span>-<span style="color:#1fb2c9">12</span>-<span style="color:#1fb2c9">06</span> <span style="color:#1fd21f">16:47:35</span><span style="color:#1fb2c9">.045867</span>] Trainer: CMUNeXtTrainer</div>
<div class="abs tl" style="left:1210.50px;top:593.79px;">[<span style="color:#1fb2c9">2025</span>-<span style="color:#1fb2c9">12</span>-<span style="color:#1fb2c9">06</span> <span style="color:#1fd21f">16:47:35</span><span style="color:#1fb2c9">.046069</span>] Note: a nnU-Net style example</div>
<div class="abs tl" style="left:1210.50px;top:602.72px;">[<span style="color:#1fb2c9">2025</span>-<span style="color:#1fb2c9">12</span>-<span style="color:#1fb2c9">06</span> <span style="color:#1fd21f">16:47:35</span><span style="color:#1fb2c9">.048132</span>] Set to manual seed <span style="color:#1fb2c9">84</span></div>
<div class="abs tl" style="left:1210.50px;top:611.65px;">[<span style="color:#1fb2c9">2025</span>-<span style="color:#1fb2c9">12</span>-<span style="color:#1fb2c9">06</span> <span style="color:#1fd21f">16:47:35</span><span style="color:#1fb2c9">.055365</span>] Example input shape: (<span style="color:#1fb2c9">3</span>, <span style="color:#1fb2c9">576</span>, <span style="color:#1fb2c9">768</span>)</div>
<div class="abs tl" style="left:1210.50px;top:620.58px;">[<span style="color:#1fb2c9">2025</span>-<span style="color:#1fb2c9">12</span>-<span style="color:#1fb2c9">06</span> <span style="color:#1fd21f">16:47:35</span><span style="color:#1fb2c9">.696139</span>] Model: CMUNeXt</div>
<div class="abs tl" style="left:1210.50px;top:629.51px;">[<span style="color:#1fb2c9">2025</span>-<span style="color:#1fb2c9">12</span>-<span style="color:#1fb2c9">06</span> <span style="color:#1fd21f">16:47:35</span><span style="color:#1fb2c9">.696750</span>] MACs: <span style="color:#1fb2c9">7.3</span> G <span style="color:#d83ad8">/</span> Params: <span style="color:#1fb2c9">0.4</span> M</div>
<div class="abs tl" style="left:1210.50px;top:638.44px;">[<span style="color:#1fb2c9">2025</span>-<span style="color:#1fb2c9">12</span>-<span style="color:#1fb2c9">06</span> <span style="color:#1fd21f">16:47:35</span><span style="color:#1fb2c9">.697019</span>] Example output shape: (<span style="color:#1fb2c9">1</span>, <span style="color:#1fb2c9">576</span>, <span style="color:#1fb2c9">768</span>)</div>
<div class="abs" style="left:1326.46px;top:649.32px;width:178.40px;height:1.9px;background:#b2dd92"></div>
<div class="abs tl" style="left:1210.50px;top:647.37px;">Training epoch 0 (0.3216)                                          <span style="color:#d83ad8">100%</span> <span style="color:#1fb2c9">0:00:00</span></div>
<div class="abs tl" style="left:1210.50px;top:656.30px;">[<span style="color:#1fb2c9">2025</span>-<span style="color:#1fb2c9">12</span>-<span style="color:#1fb2c9">06</span> <span style="color:#1fd21f">16:49:54</span><span style="color:#1fb2c9">.178459</span>] Training combined loss: <span style="color:#1fb2c9">0.6359</span> @[<span style="color:#1fb2c9">0.6359</span>, <span style="color:#1fb2c9">0.6359</span>] (N/A)</div>
<div class="abs tl" style="left:1210.50px;top:665.23px;">[<span style="color:#1fb2c9">2025</span>-<span style="color:#1fb2c9">12</span>-<span style="color:#1fb2c9">06</span> <span style="color:#1fd21f">16:49:54</span><span style="color:#1fb2c9">.179992</span>] Training soft dice: <span style="color:#1fb2c9">0.6121</span> @[<span style="color:#1fb2c9">0.6121</span>, <span style="color:#1fb2c9">0.6121</span>] (N/A)</div>
<div class="abs tl" style="left:1210.50px;top:674.16px;">[<span style="color:#1fb2c9">2025</span>-<span style="color:#1fb2c9">12</span>-<span style="color:#1fb2c9">06</span> <span style="color:#1fd21f">16:49:54</span><span style="color:#1fb2c9">.180207</span>] Training bce loss: <span style="color:#1fb2c9">0.4959</span> @[<span style="color:#1fb2c9">0.4959</span>, <span style="color:#1fb2c9">0.4959</span>] (N/A)</div>
<div class="abs tl" style="left:1210.50px;top:683.09px;">[<span style="color:#1fb2c9">2025</span>-<span style="color:#1fb2c9">12</span>-<span style="color:#1fb2c9">06</span> <span style="color:#1fd21f">16:49:54</span><span style="color:#1fb2c9">.180404</span>] Training learning rate: <span style="color:#1fb2c9">0.0100</span> @[<span style="color:#1fb2c9">0.0100</span>, <span style="color:#1fb2c9">0.0100</span>] (N/A)</div>
<div class="abs tl" style="left:1299.70px;top:692.02px;font-style:italic;">Epoch 0 Training</div>
<div class="abs" style="left:1212.93px;top:703.15px;width:246.50px;height:1.4px;background:#3a3a3a"></div>
<div class="abs" style="left:1212.93px;top:721.01px;width:246.50px;height:1.4px;background:#3a3a3a"></div>
<div class="abs" style="left:1213.03px;top:765.86px;width:246.30px;height:1px;background:#3a3a3a"></div>
<div class="abs" style="left:1212.93px;top:703.85px;width:1.2px;height:17.86px;background:#3a3a3a"></div>
<div class="abs" style="left:1213.03px;top:721.71px;width:1px;height:44.65px;background:#3a3a3a"></div>
<div class="abs" style="left:1284.29px;top:703.85px;width:1.2px;height:17.86px;background:#3a3a3a"></div>
<div class="abs" style="left:1284.39px;top:721.71px;width:1px;height:44.65px;background:#3a3a3a"></div>
<div class="abs" style="left:1342.27px;top:703.85px;width:1.2px;height:17.86px;background:#3a3a3a"></div>
<div class="abs" style="left:1342.37px;top:721.71px;width:1px;height:44.65px;background:#3a3a3a"></div>
<div class="abs" style="left:1427.01px;top:703.85px;width:1.2px;height:17.86px;background:#3a3a3a"></div>
<div class="abs" style="left:1427.11px;top:721.71px;width:1px;height:44.65px;background:#3a3a3a"></div>
<div class="abs" style="left:1458.23px;top:703.85px;width:1.2px;height:17.86px;background:#3a3a3a"></div>
<div class="abs" style="left:1458.33px;top:721.71px;width:1px;height:44.65px;background:#3a3a3a"></div>
<div class="abs tl" style="left:1219.42px;top:709.88px;font-weight:bold;">Metric</div>
<div class="abs tl" style="left:1290.78px;top:709.88px;font-weight:bold;">Mean Value</div>
<div class="abs tl" style="left:1348.76px;top:709.88px;font-weight:bold;">Span</div>
<div class="abs tl" style="left:1433.50px;top:709.88px;font-weight:bold;">Diff</div>
<div class="abs tl" style="left:1219.42px;top:727.75px;">combined loss</div>
<div class="abs tl" style="left:1290.78px;top:727.75px;"><span style="color:#2fc42f">0.6359</span></div>
<div class="abs tl" style="left:1348.76px;top:727.75px;"><span style="color:#1fb2c9">[0.6359, 0.6359]</span></div>
<div class="abs tl" style="left:1433.50px;top:727.75px;"><span style="color:#d83ad8">N/A</span></div>
<div class="abs tl" style="left:1219.42px;top:736.67px;">soft dice</div>
<div class="abs tl" style="left:1290.78px;top:736.67px;"><span style="color:#2fc42f">0.6121</span></div>
<div class="abs tl" style="left:1348.76px;top:736.67px;"><span style="color:#1fb2c9">[0.6121, 0.6121]</span></div>
<div class="abs tl" style="left:1433.50px;top:736.67px;"><span style="color:#d83ad8">N/A</span></div>
<div class="abs tl" style="left:1219.42px;top:745.60px;">bce loss</div>
<div class="abs tl" style="left:1290.78px;top:745.60px;"><span style="color:#2fc42f">0.4959</span></div>
<div class="abs tl" style="left:1348.76px;top:745.60px;"><span style="color:#1fb2c9">[0.4959, 0.4959]</span></div>
<div class="abs tl" style="left:1433.50px;top:745.60px;"><span style="color:#d83ad8">N/A</span></div>
<div class="abs tl" style="left:1219.42px;top:754.53px;">learning rate</div>
<div class="abs tl" style="left:1290.78px;top:754.53px;"><span style="color:#2fc42f">0.0100</span></div>
<div class="abs tl" style="left:1348.76px;top:754.53px;"><span style="color:#1fb2c9">[0.0100, 0.0100]</span></div>
<div class="abs tl" style="left:1433.50px;top:754.53px;"><span style="color:#d83ad8">N/A</span></div>
<div class="abs tl" style="left:1210.50px;top:772.39px;">[<span style="color:#1fb2c9">2025</span>-<span style="color:#1fb2c9">12</span>-<span style="color:#1fb2c9">06</span> <span style="color:#1fd21f">16:49:54</span><span style="color:#1fb2c9">.187085</span>] Epoch <span style="color:#1fb2c9">0</span> checkpoint saved</div>
<div class="abs tl" style="left:1210.50px;top:781.32px;">[<span style="color:#1fb2c9">2025</span>-<span style="color:#1fb2c9">12</span>-<span style="color:#1fb2c9">06</span> <span style="color:#1fd21f">16:49:54</span><span style="color:#1fb2c9">.187296</span>] Epoch <span style="color:#1fb2c9">0</span> training completed in <span style="color:#1fb2c9">138.5</span> seconds</div>
<div class="abs" style="left:1304.16px;top:792.20px;width:178.40px;height:1.9px;background:#b2dd92"></div>
<div class="abs tl" style="left:1210.50px;top:790.25px;">Validating (-0.4128)                                          <span style="color:#d83ad8">100%</span> <span style="color:#1fb2c9">0:00:00</span></div>
<div class="abs tl" style="left:1210.50px;top:799.18px;">[<span style="color:#1fb2c9">2025</span>-<span style="color:#1fb2c9">12</span>-<span style="color:#1fb2c9">06</span> <span style="color:#1fd21f">16:50:12</span><span style="color:#1fb2c9">.003237</span>] Validation score: <span style="color:#1fb2c9">-0.5263</span></div>
<div class="abs tl" style="left:1210.50px;top:808.11px;">[<span style="color:#1fb2c9">2025</span>-<span style="color:#1fb2c9">12</span>-<span style="color:#1fb2c9">06</span> <span style="color:#1fd21f">16:50:12</span><span style="color:#1fb2c9">.004426</span>] Validation soft dice: <span style="color:#1fb2c9">0.6762</span> @[<span style="color:#1fb2c9">0.3124</span>, <span style="color:#1fb2c9">0.8506</span>] (+<span style="color:#1fb2c9">0.0631</span>)</div>
<div class="abs tl" style="left:1210.50px;top:817.04px;">[<span style="color:#1fb2c9">2025</span>-<span style="color:#1fb2c9">12</span>-<span style="color:#1fb2c9">06</span> <span style="color:#1fd21f">16:50:12</span><span style="color:#1fb2c9">.004698</span>] Validation bce loss: <span style="color:#1fb2c9">0.4031</span> @[<span style="color:#1fb2c9">0.1478</span>, <span style="color:#1fb2c9">1.6464</span>] (<span style="color:#1fb2c9">-0.0928</span>)</div>
<div class="abs tl" style="left:1290.78px;top:825.97px;font-style:italic;">Epoch 0 Validation</div>
<div class="abs" style="left:1212.93px;top:837.10px;width:242.04px;height:1.4px;background:#3a3a3a"></div>
<div class="abs" style="left:1212.93px;top:854.96px;width:242.04px;height:1.4px;background:#3a3a3a"></div>
<div class="abs" style="left:1213.03px;top:881.95px;width:241.84px;height:1px;background:#3a3a3a"></div>
<div class="abs" style="left:1212.93px;top:837.80px;width:1.2px;height:17.86px;background:#3a3a3a"></div>
<div class="abs" style="left:1213.03px;top:855.66px;width:1px;height:26.79px;background:#3a3a3a"></div>
<div class="abs" style="left:1266.45px;top:837.80px;width:1.2px;height:17.86px;background:#3a3a3a"></div>
<div class="abs" style="left:1266.55px;top:855.66px;width:1px;height:26.79px;background:#3a3a3a"></div>
<div class="abs" style="left:1324.43px;top:837.80px;width:1.2px;height:17.86px;background:#3a3a3a"></div>
<div class="abs" style="left:1324.53px;top:855.66px;width:1px;height:26.79px;background:#3a3a3a"></div>
<div class="abs" style="left:1409.17px;top:837.80px;width:1.2px;height:17.86px;background:#3a3a3a"></div>
<div class="abs" style="left:1409.27px;top:855.66px;width:1px;height:26.79px;background:#3a3a3a"></div>
<div class="abs" style="left:1453.77px;top:837.80px;width:1.2px;height:17.86px;background:#3a3a3a"></div>
<div class="abs" style="left:1453.87px;top:855.66px;width:1px;height:26.79px;background:#3a3a3a"></div>
<div class="abs tl" style="left:1219.42px;top:843.83px;font-weight:bold;">Metric</div>
<div class="abs tl" style="left:1272.94px;top:843.83px;font-weight:bold;">Mean Value</div>
<div class="abs tl" style="left:1330.92px;top:843.83px;font-weight:bold;">Span</div>
<div class="abs tl" style="left:1415.66px;top:843.83px;font-weight:bold;">Diff</div>
<div class="abs tl" style="left:1219.42px;top:861.69px;">soft dice</div>
<div class="abs tl" style="left:1272.94px;top:861.69px;"><span style="color:#2fc42f">0.6762</span></div>
<div class="abs tl" style="left:1330.92px;top:861.69px;"><span style="color:#1fb2c9">[0.3124, 0.8506]</span></div>
<div class="abs tl" style="left:1415.66px;top:861.69px;"><span style="color:#d83ad8">+0.0631</span></div>
<div class="abs tl" style="left:1219.42px;top:870.62px;">bce loss</div>
<div class="abs tl" style="left:1272.94px;top:870.62px;"><span style="color:#2fc42f">0.4031</span></div>
<div class="abs tl" style="left:1330.92px;top:870.62px;"><span style="color:#1fb2c9">[0.1478, 1.6464]</span></div>
<div class="abs tl" style="left:1415.66px;top:870.62px;"><span style="color:#d83ad8">-0.0928</span></div>
<div class="abs tl" style="left:1210.50px;top:888.49px;">[<span style="color:#1fb2c9">2025</span>-<span style="color:#1fb2c9">12</span>-<span style="color:#1fb2c9">06</span> <span style="color:#1fd21f">16:50:12</span><span style="color:#1fb2c9">.008611</span>] <span style="color:#8a8a8a">========</span> Best checkpoint updated (-inf -&gt; <span style="color:#1fb2c9">-0.5263</span>) <span style="color:#8a8a8a">========</span></div>
<div class="abs tl" style="left:1210.50px;top:897.41px;">[<span style="color:#1fb2c9">2025</span>-<span style="color:#1fb2c9">12</span>-<span style="color:#1fb2c9">06</span> <span style="color:#1fd21f">16:50:12</span><span style="color:#1fb2c9">.477820</span>] Epoch <span style="color:#1fb2c9">0</span> completed in <span style="color:#1fb2c9">156.8</span> seconds</div>
<div class="abs tl" style="left:1210.50px;top:906.34px;">[<span style="color:#1fb2c9">2025</span>-<span style="color:#1fb2c9">12</span>-<span style="color:#1fb2c9">06</span> <span style="color:#1fd21f">16:50:12</span><span style="color:#1fb2c9">.477632</span>] <span style="color:#8a8a8a">===============</span> Best Validation Score <span style="color:#1fb2c9">-0.5263</span> <span style="color:#8a8a8a">===============</span></div>
<div class="abs" style="left:1326.46px;top:917.22px;width:178.40px;height:1.9px;background:#b2dd92"></div>
<div class="abs tl" style="left:1210.50px;top:915.27px;">Training epoch 1 (0.1224)                                          <span style="color:#d83ad8">100%</span> <span style="color:#1fb2c9">0:00:00</span></div>
<div class="abs tl" style="left:1210.50px;top:924.20px;">[<span style="color:#1fb2c9">2025</span>-<span style="color:#1fb2c9">12</span>-<span style="color:#1fb2c9">06</span> <span style="color:#1fd21f">16:52:29</span><span style="color:#1fb2c9">.830956</span>] Training combined loss: <span style="color:#1fb2c9">0.3826</span> @[<span style="color:#1fb2c9">0.3826</span>, <span style="color:#1fb2c9">0.6359</span>] (<span style="color:#1fb2c9">-0.2534</span>)</div>
<div class="abs tl" style="left:1210.50px;top:933.13px;">[<span style="color:#1fb2c9">2025</span>-<span style="color:#1fb2c9">12</span>-<span style="color:#1fb2c9">06</span> <span style="color:#1fd21f">16:52:29</span><span style="color:#1fb2c9">.832226</span>] Training soft dice: <span style="color:#1fb2c9">0.7849</span> @[<span style="color:#1fb2c9">0.6121</span>, <span style="color:#1fb2c9">0.7849</span>] (+<span style="color:#1fb2c9">0.1728</span>)</div>
<div class="abs tl" style="left:1210.50px;top:942.06px;">[<span style="color:#1fb2c9">2025</span>-<span style="color:#1fb2c9">12</span>-<span style="color:#1fb2c9">06</span> <span style="color:#1fd21f">16:52:29</span><span style="color:#1fb2c9">.832459</span>] Training bce loss: <span style="color:#1fb2c9">0.3348</span> @[<span style="color:#1fb2c9">0.3348</span>, <span style="color:#1fb2c9">0.4959</span>] (<span style="color:#1fb2c9">-0.1611</span>)</div>
<div class="abs tl" style="left:1210.50px;top:951.00px;">[<span style="color:#1fb2c9">2025</span>-<span style="color:#1fb2c9">12</span>-<span style="color:#1fb2c9">06</span> <span style="color:#1fd21f">16:52:29</span><span style="color:#1fb2c9">.832662</span>] Training learning rate: <span style="color:#1fb2c9">0.0100</span> @[<span style="color:#1fb2c9">0.0100</span>, <span style="color:#1fb2c9">0.0100</span>] (<span style="color:#1fb2c9">-0.0000</span>)</div>
<div class="abs tl" style="left:1304.16px;top:959.92px;font-style:italic;">Epoch 1 Training</div>
<div class="abs" style="left:1212.93px;top:971.05px;width:259.88px;height:1.4px;background:#3a3a3a"></div>
<div class="abs" style="left:1212.93px;top:988.91px;width:259.88px;height:1.4px;background:#3a3a3a"></div>
<div class="abs" style="left:1212.93px;top:971.75px;width:1.2px;height:17.86px;background:#3a3a3a"></div>
<div class="abs" style="left:1213.03px;top:989.61px;width:1px;height:32.59px;background:#3a3a3a"></div>
<div class="abs" style="left:1284.29px;top:971.75px;width:1.2px;height:17.86px;background:#3a3a3a"></div>
<div class="abs" style="left:1284.39px;top:989.61px;width:1px;height:32.59px;background:#3a3a3a"></div>
<div class="abs" style="left:1342.27px;top:971.75px;width:1.2px;height:17.86px;background:#3a3a3a"></div>
<div class="abs" style="left:1342.37px;top:989.61px;width:1px;height:32.59px;background:#3a3a3a"></div>
<div class="abs" style="left:1427.01px;top:971.75px;width:1.2px;height:17.86px;background:#3a3a3a"></div>
<div class="abs" style="left:1427.11px;top:989.61px;width:1px;height:32.59px;background:#3a3a3a"></div>
<div class="abs" style="left:1471.61px;top:971.75px;width:1.2px;height:17.86px;background:#3a3a3a"></div>
<div class="abs" style="left:1471.71px;top:989.61px;width:1px;height:32.59px;background:#3a3a3a"></div>
<div class="abs tl" style="left:1219.42px;top:977.78px;font-weight:bold;">Metric</div>
<div class="abs tl" style="left:1290.78px;top:977.78px;font-weight:bold;">Mean Value</div>
<div class="abs tl" style="left:1348.76px;top:977.78px;font-weight:bold;">Span</div>
<div class="abs tl" style="left:1433.50px;top:977.78px;font-weight:bold;">Diff</div>
<div class="abs tl" style="left:1219.42px;top:995.64px;">combined loss</div>
<div class="abs tl" style="left:1290.78px;top:995.64px;"><span style="color:#2fc42f">0.3826</span></div>
<div class="abs tl" style="left:1348.76px;top:995.64px;"><span style="color:#1fb2c9">[0.3826, 0.6359]</span></div>
<div class="abs tl" style="left:1433.50px;top:995.64px;"><span style="color:#d83ad8">-0.2534</span></div>
<div class="abs tl" style="left:1219.42px;top:1004.57px;">soft dice</div>
<div class="abs tl" style="left:1290.78px;top:1004.57px;"><span style="color:#2fc42f">0.7849</span></div>
<div class="abs tl" style="left:1348.76px;top:1004.57px;"><span style="color:#1fb2c9">[0.6121, 0.7849]</span></div>
<div class="abs tl" style="left:1433.50px;top:1004.57px;"><span style="color:#d83ad8">+0.1728</span></div>
<div class="abs tl" style="left:1219.42px;top:1013.50px;">bce loss</div>
<div class="abs tl" style="left:1290.78px;top:1013.50px;"><span style="color:#2fc42f">0.3348</span></div>
<div class="abs tl" style="left:1348.76px;top:1013.50px;"><span style="color:#1fb2c9">[0.3348, 0.4959]</span></div>
<div class="abs tl" style="left:1433.50px;top:1013.50px;"><span style="color:#d83ad8">-0.1611</span></div>
</div></div>
<svg class="abs" style="left:1880.4px;top:584.6px" width="4" height="6.6"><path d="M0.6 0.5 H3.4 M2 0.5 V6.1 M0.6 6.1 H3.4" stroke="#8a8a8a" stroke-width="0.8" fill="none"/></svg>
<div class="abs" style="left:1209px;top:585px;width:0.8px;height:5.6px;background:#9a9a9a"></div>
</body></html>
